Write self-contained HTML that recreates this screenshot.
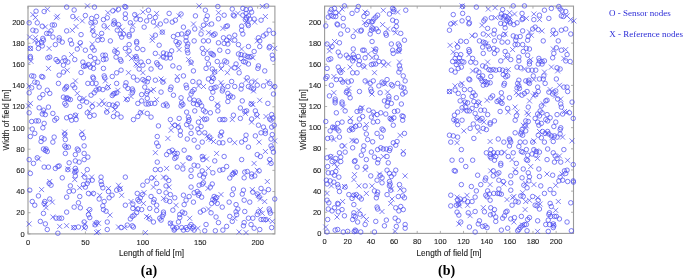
<!DOCTYPE html>
<html><head><meta charset="utf-8"><style>
html,body{margin:0;padding:0;background:#fff;width:685px;height:280px;overflow:hidden}
svg{display:block;will-change:transform}
text{font-family:"Liberation Sans",sans-serif;fill:#1e1e1e;stroke:#1e1e1e;stroke-width:0.12px}
.sb{font-family:"Liberation Serif",serif;font-weight:bold;font-size:14px;fill:#000;stroke:none}
.lg{font-family:"Liberation Serif",serif;font-size:9px;fill:#2b2bd6;stroke:none}
</style></head><body>
<svg width="685" height="280" viewBox="0 0 685 280">
<rect x="28.0" y="6.2" width="246.90" height="227.70" fill="none" stroke="#9a9a9a" stroke-width="1.1"/>
<path d="M28.00,233.9v-2.5M28.00,6.2v2.5M85.42,233.9v-2.5M85.42,6.2v2.5M142.84,233.9v-2.5M142.84,6.2v2.5M200.26,233.9v-2.5M200.26,6.2v2.5M257.67,233.9v-2.5M257.67,6.2v2.5M28.0,233.90h2.5M274.9,233.90h-2.5M28.0,212.72h2.5M274.9,212.72h-2.5M28.0,191.54h2.5M274.9,191.54h-2.5M28.0,170.36h2.5M274.9,170.36h-2.5M28.0,149.17h2.5M274.9,149.17h-2.5M28.0,127.99h2.5M274.9,127.99h-2.5M28.0,106.81h2.5M274.9,106.81h-2.5M28.0,85.63h2.5M274.9,85.63h-2.5M28.0,64.45h2.5M274.9,64.45h-2.5M28.0,43.27h2.5M274.9,43.27h-2.5M28.0,22.09h2.5M274.9,22.09h-2.5" stroke="#9a9a9a" stroke-width="0.8" fill="none"/>
<text x="28.00" y="244.70" text-anchor="middle" font-size="7.5">0</text>
<text x="85.42" y="244.70" text-anchor="middle" font-size="7.5">50</text>
<text x="142.84" y="244.70" text-anchor="middle" font-size="7.5">100</text>
<text x="200.26" y="244.70" text-anchor="middle" font-size="7.5">150</text>
<text x="257.67" y="244.70" text-anchor="middle" font-size="7.5">200</text>
<text x="24.70" y="236.50" text-anchor="end" font-size="7.5">0</text>
<text x="24.70" y="215.32" text-anchor="end" font-size="7.5">20</text>
<text x="24.70" y="194.14" text-anchor="end" font-size="7.5">40</text>
<text x="24.70" y="172.96" text-anchor="end" font-size="7.5">60</text>
<text x="24.70" y="151.77" text-anchor="end" font-size="7.5">80</text>
<text x="24.70" y="130.59" text-anchor="end" font-size="7.5">100</text>
<text x="24.70" y="109.41" text-anchor="end" font-size="7.5">120</text>
<text x="24.70" y="88.23" text-anchor="end" font-size="7.5">140</text>
<text x="24.70" y="67.05" text-anchor="end" font-size="7.5">160</text>
<text x="24.70" y="45.87" text-anchor="end" font-size="7.5">180</text>
<text x="24.70" y="24.69" text-anchor="end" font-size="7.5">200</text>
<text x="151.45" y="255.8" text-anchor="middle" font-size="8.2">Length of field [m]</text>
<text transform="translate(9.00,120.05) rotate(-90)" text-anchor="middle" font-size="8.2">Width of field [m]</text>
<text x="148.95" y="275" text-anchor="middle" class="sb">(a)</text>
<rect x="324.6" y="6.1" width="248.90" height="227.30" fill="none" stroke="#9a9a9a" stroke-width="1.1"/>
<path d="M324.60,233.4v-2.5M324.60,6.1v2.5M347.75,233.4v-2.5M347.75,6.1v2.5M370.91,233.4v-2.5M370.91,6.1v2.5M394.06,233.4v-2.5M394.06,6.1v2.5M417.21,233.4v-2.5M417.21,6.1v2.5M440.37,233.4v-2.5M440.37,6.1v2.5M463.52,233.4v-2.5M463.52,6.1v2.5M486.67,233.4v-2.5M486.67,6.1v2.5M509.83,233.4v-2.5M509.83,6.1v2.5M532.98,233.4v-2.5M532.98,6.1v2.5M556.13,233.4v-2.5M556.13,6.1v2.5M324.6,233.40h2.5M573.5,233.40h-2.5M324.6,212.26h2.5M573.5,212.26h-2.5M324.6,191.11h2.5M573.5,191.11h-2.5M324.6,169.97h2.5M573.5,169.97h-2.5M324.6,148.82h2.5M573.5,148.82h-2.5M324.6,127.68h2.5M573.5,127.68h-2.5M324.6,106.53h2.5M573.5,106.53h-2.5M324.6,85.39h2.5M573.5,85.39h-2.5M324.6,64.25h2.5M573.5,64.25h-2.5M324.6,43.10h2.5M573.5,43.10h-2.5M324.6,21.96h2.5M573.5,21.96h-2.5" stroke="#9a9a9a" stroke-width="0.8" fill="none"/>
<text x="324.60" y="244.20" text-anchor="middle" font-size="7.5">0</text>
<text x="347.75" y="244.20" text-anchor="middle" font-size="7.5">20</text>
<text x="370.91" y="244.20" text-anchor="middle" font-size="7.5">40</text>
<text x="394.06" y="244.20" text-anchor="middle" font-size="7.5">60</text>
<text x="417.21" y="244.20" text-anchor="middle" font-size="7.5">80</text>
<text x="440.37" y="244.20" text-anchor="middle" font-size="7.5">100</text>
<text x="463.52" y="244.20" text-anchor="middle" font-size="7.5">120</text>
<text x="486.67" y="244.20" text-anchor="middle" font-size="7.5">140</text>
<text x="509.83" y="244.20" text-anchor="middle" font-size="7.5">160</text>
<text x="532.98" y="244.20" text-anchor="middle" font-size="7.5">180</text>
<text x="556.13" y="244.20" text-anchor="middle" font-size="7.5">200</text>
<text x="321.30" y="236.00" text-anchor="end" font-size="7.5">0</text>
<text x="321.30" y="214.86" text-anchor="end" font-size="7.5">20</text>
<text x="321.30" y="193.71" text-anchor="end" font-size="7.5">40</text>
<text x="321.30" y="172.57" text-anchor="end" font-size="7.5">60</text>
<text x="321.30" y="151.42" text-anchor="end" font-size="7.5">80</text>
<text x="321.30" y="130.28" text-anchor="end" font-size="7.5">100</text>
<text x="321.30" y="109.13" text-anchor="end" font-size="7.5">120</text>
<text x="321.30" y="87.99" text-anchor="end" font-size="7.5">140</text>
<text x="321.30" y="66.85" text-anchor="end" font-size="7.5">160</text>
<text x="321.30" y="45.70" text-anchor="end" font-size="7.5">180</text>
<text x="321.30" y="24.56" text-anchor="end" font-size="7.5">200</text>
<text x="449.05" y="255.8" text-anchor="middle" font-size="8.2">Length of field [m]</text>
<text transform="translate(305.60,119.75) rotate(-90)" text-anchor="middle" font-size="8.2">Width of field [m]</text>
<text x="446.55" y="275" text-anchor="middle" class="sb">(b)</text>
<path d="M33.8,11.2a2.25,2.25 0 1,0 4.5,0a2.25,2.25 0 1,0 -4.5,0M26.9,22.8a2.25,2.25 0 1,0 4.5,0a2.25,2.25 0 1,0 -4.5,0M35.0,22.8a2.25,2.25 0 1,0 4.5,0a2.25,2.25 0 1,0 -4.5,0M41.9,11.5a2.25,2.25 0 1,0 4.5,0a2.25,2.25 0 1,0 -4.5,0M40.0,26.2a2.25,2.25 0 1,0 4.5,0a2.25,2.25 0 1,0 -4.5,0M50.0,25.0a2.25,2.25 0 1,0 4.5,0a2.25,2.25 0 1,0 -4.5,0M52.2,25.0a2.25,2.25 0 1,0 4.5,0a2.25,2.25 0 1,0 -4.5,0M30.6,30.2a2.25,2.25 0 1,0 4.5,0a2.25,2.25 0 1,0 -4.5,0M33.8,30.9a2.25,2.25 0 1,0 4.5,0a2.25,2.25 0 1,0 -4.5,0M44.4,33.4a2.25,2.25 0 1,0 4.5,0a2.25,2.25 0 1,0 -4.5,0M46.9,33.4a2.25,2.25 0 1,0 4.5,0a2.25,2.25 0 1,0 -4.5,0M48.8,30.9a2.25,2.25 0 1,0 4.5,0a2.25,2.25 0 1,0 -4.5,0M64.4,7.1a2.25,2.25 0 1,0 4.5,0a2.25,2.25 0 1,0 -4.5,0M64.4,30.9a2.25,2.25 0 1,0 4.5,0a2.25,2.25 0 1,0 -4.5,0M50.6,37.1a2.25,2.25 0 1,0 4.5,0a2.25,2.25 0 1,0 -4.5,0M56.9,37.8a2.25,2.25 0 1,0 4.5,0a2.25,2.25 0 1,0 -4.5,0M40.6,38.4a2.25,2.25 0 1,0 4.5,0a2.25,2.25 0 1,0 -4.5,0M71.9,10.0a2.25,2.25 0 1,0 4.5,0a2.25,2.25 0 1,0 -4.5,0M92.2,7.1a2.25,2.25 0 1,0 4.5,0a2.25,2.25 0 1,0 -4.5,0M70.6,16.5a2.25,2.25 0 1,0 4.5,0a2.25,2.25 0 1,0 -4.5,0M83.1,15.5a2.25,2.25 0 1,0 4.5,0a2.25,2.25 0 1,0 -4.5,0M78.8,34.6a2.25,2.25 0 1,0 4.5,0a2.25,2.25 0 1,0 -4.5,0M89.4,18.4a2.25,2.25 0 1,0 4.5,0a2.25,2.25 0 1,0 -4.5,0M94.4,16.5a2.25,2.25 0 1,0 4.5,0a2.25,2.25 0 1,0 -4.5,0M88.8,22.8a2.25,2.25 0 1,0 4.5,0a2.25,2.25 0 1,0 -4.5,0M93.1,22.1a2.25,2.25 0 1,0 4.5,0a2.25,2.25 0 1,0 -4.5,0M90.6,30.9a2.25,2.25 0 1,0 4.5,0a2.25,2.25 0 1,0 -4.5,0M91.9,35.2a2.25,2.25 0 1,0 4.5,0a2.25,2.25 0 1,0 -4.5,0M99.4,33.4a2.25,2.25 0 1,0 4.5,0a2.25,2.25 0 1,0 -4.5,0M101.2,19.6a2.25,2.25 0 1,0 4.5,0a2.25,2.25 0 1,0 -4.5,0M105.0,17.8a2.25,2.25 0 1,0 4.5,0a2.25,2.25 0 1,0 -4.5,0M101.9,25.9a2.25,2.25 0 1,0 4.5,0a2.25,2.25 0 1,0 -4.5,0M110.6,10.9a2.25,2.25 0 1,0 4.5,0a2.25,2.25 0 1,0 -4.5,0M116.2,9.2a2.25,2.25 0 1,0 4.5,0a2.25,2.25 0 1,0 -4.5,0M122.5,6.5a2.25,2.25 0 1,0 4.5,0a2.25,2.25 0 1,0 -4.5,0M123.5,7.1a2.25,2.25 0 1,0 4.5,0a2.25,2.25 0 1,0 -4.5,0M123.1,14.0a2.25,2.25 0 1,0 4.5,0a2.25,2.25 0 1,0 -4.5,0M123.1,18.4a2.25,2.25 0 1,0 4.5,0a2.25,2.25 0 1,0 -4.5,0M111.9,20.9a2.25,2.25 0 1,0 4.5,0a2.25,2.25 0 1,0 -4.5,0M112.5,22.8a2.25,2.25 0 1,0 4.5,0a2.25,2.25 0 1,0 -4.5,0M111.2,24.2a2.25,2.25 0 1,0 4.5,0a2.25,2.25 0 1,0 -4.5,0M116.2,24.6a2.25,2.25 0 1,0 4.5,0a2.25,2.25 0 1,0 -4.5,0M115.0,30.2a2.25,2.25 0 1,0 4.5,0a2.25,2.25 0 1,0 -4.5,0M118.1,34.0a2.25,2.25 0 1,0 4.5,0a2.25,2.25 0 1,0 -4.5,0M121.2,34.0a2.25,2.25 0 1,0 4.5,0a2.25,2.25 0 1,0 -4.5,0M119.4,37.1a2.25,2.25 0 1,0 4.5,0a2.25,2.25 0 1,0 -4.5,0M126.9,34.6a2.25,2.25 0 1,0 4.5,0a2.25,2.25 0 1,0 -4.5,0M126.9,36.2a2.25,2.25 0 1,0 4.5,0a2.25,2.25 0 1,0 -4.5,0M128.1,22.8a2.25,2.25 0 1,0 4.5,0a2.25,2.25 0 1,0 -4.5,0M130.0,30.2a2.25,2.25 0 1,0 4.5,0a2.25,2.25 0 1,0 -4.5,0M132.5,14.6a2.25,2.25 0 1,0 4.5,0a2.25,2.25 0 1,0 -4.5,0M133.8,19.0a2.25,2.25 0 1,0 4.5,0a2.25,2.25 0 1,0 -4.5,0M138.1,19.6a2.25,2.25 0 1,0 4.5,0a2.25,2.25 0 1,0 -4.5,0M146.2,10.2a2.25,2.25 0 1,0 4.5,0a2.25,2.25 0 1,0 -4.5,0M147.5,16.5a2.25,2.25 0 1,0 4.5,0a2.25,2.25 0 1,0 -4.5,0M144.4,20.9a2.25,2.25 0 1,0 4.5,0a2.25,2.25 0 1,0 -4.5,0M141.9,27.1a2.25,2.25 0 1,0 4.5,0a2.25,2.25 0 1,0 -4.5,0M153.1,17.5a2.25,2.25 0 1,0 4.5,0a2.25,2.25 0 1,0 -4.5,0M151.2,22.1a2.25,2.25 0 1,0 4.5,0a2.25,2.25 0 1,0 -4.5,0M158.1,24.0a2.25,2.25 0 1,0 4.5,0a2.25,2.25 0 1,0 -4.5,0M160.0,32.1a2.25,2.25 0 1,0 4.5,0a2.25,2.25 0 1,0 -4.5,0M153.1,35.2a2.25,2.25 0 1,0 4.5,0a2.25,2.25 0 1,0 -4.5,0M166.9,13.4a2.25,2.25 0 1,0 4.5,0a2.25,2.25 0 1,0 -4.5,0M163.8,20.9a2.25,2.25 0 1,0 4.5,0a2.25,2.25 0 1,0 -4.5,0M170.0,22.1a2.25,2.25 0 1,0 4.5,0a2.25,2.25 0 1,0 -4.5,0M173.1,20.2a2.25,2.25 0 1,0 4.5,0a2.25,2.25 0 1,0 -4.5,0M178.8,14.0a2.25,2.25 0 1,0 4.5,0a2.25,2.25 0 1,0 -4.5,0M181.2,27.1a2.25,2.25 0 1,0 4.5,0a2.25,2.25 0 1,0 -4.5,0M171.2,36.5a2.25,2.25 0 1,0 4.5,0a2.25,2.25 0 1,0 -4.5,0M175.6,34.6a2.25,2.25 0 1,0 4.5,0a2.25,2.25 0 1,0 -4.5,0M179.4,34.0a2.25,2.25 0 1,0 4.5,0a2.25,2.25 0 1,0 -4.5,0M185.0,33.4a2.25,2.25 0 1,0 4.5,0a2.25,2.25 0 1,0 -4.5,0M186.2,32.1a2.25,2.25 0 1,0 4.5,0a2.25,2.25 0 1,0 -4.5,0M183.8,37.1a2.25,2.25 0 1,0 4.5,0a2.25,2.25 0 1,0 -4.5,0M193.2,15.9a2.25,2.25 0 1,0 4.5,0a2.25,2.25 0 1,0 -4.5,0M192.5,29.0a2.25,2.25 0 1,0 4.5,0a2.25,2.25 0 1,0 -4.5,0M203.1,10.2a2.25,2.25 0 1,0 4.5,0a2.25,2.25 0 1,0 -4.5,0M205.0,15.9a2.25,2.25 0 1,0 4.5,0a2.25,2.25 0 1,0 -4.5,0M203.8,19.6a2.25,2.25 0 1,0 4.5,0a2.25,2.25 0 1,0 -4.5,0M209.4,24.0a2.25,2.25 0 1,0 4.5,0a2.25,2.25 0 1,0 -4.5,0M201.2,25.2a2.25,2.25 0 1,0 4.5,0a2.25,2.25 0 1,0 -4.5,0M198.8,34.0a2.25,2.25 0 1,0 4.5,0a2.25,2.25 0 1,0 -4.5,0M211.2,35.2a2.25,2.25 0 1,0 4.5,0a2.25,2.25 0 1,0 -4.5,0M212.8,34.0a2.25,2.25 0 1,0 4.5,0a2.25,2.25 0 1,0 -4.5,0M215.6,6.5a2.25,2.25 0 1,0 4.5,0a2.25,2.25 0 1,0 -4.5,0M216.2,18.8a2.25,2.25 0 1,0 4.5,0a2.25,2.25 0 1,0 -4.5,0M221.9,15.2a2.25,2.25 0 1,0 4.5,0a2.25,2.25 0 1,0 -4.5,0M223.8,26.5a2.25,2.25 0 1,0 4.5,0a2.25,2.25 0 1,0 -4.5,0M225.2,25.9a2.25,2.25 0 1,0 4.5,0a2.25,2.25 0 1,0 -4.5,0M221.2,37.8a2.25,2.25 0 1,0 4.5,0a2.25,2.25 0 1,0 -4.5,0M226.9,37.1a2.25,2.25 0 1,0 4.5,0a2.25,2.25 0 1,0 -4.5,0M232.5,35.2a2.25,2.25 0 1,0 4.5,0a2.25,2.25 0 1,0 -4.5,0M230.0,9.0a2.25,2.25 0 1,0 4.5,0a2.25,2.25 0 1,0 -4.5,0M231.9,15.9a2.25,2.25 0 1,0 4.5,0a2.25,2.25 0 1,0 -4.5,0M231.0,15.0a2.25,2.25 0 1,0 4.5,0a2.25,2.25 0 1,0 -4.5,0M240.6,8.4a2.25,2.25 0 1,0 4.5,0a2.25,2.25 0 1,0 -4.5,0M243.8,9.6a2.25,2.25 0 1,0 4.5,0a2.25,2.25 0 1,0 -4.5,0M248.1,9.0a2.25,2.25 0 1,0 4.5,0a2.25,2.25 0 1,0 -4.5,0M249.4,12.1a2.25,2.25 0 1,0 4.5,0a2.25,2.25 0 1,0 -4.5,0M240.6,15.2a2.25,2.25 0 1,0 4.5,0a2.25,2.25 0 1,0 -4.5,0M243.8,13.4a2.25,2.25 0 1,0 4.5,0a2.25,2.25 0 1,0 -4.5,0M246.2,15.9a2.25,2.25 0 1,0 4.5,0a2.25,2.25 0 1,0 -4.5,0M243.1,19.6a2.25,2.25 0 1,0 4.5,0a2.25,2.25 0 1,0 -4.5,0M244.4,17.8a2.25,2.25 0 1,0 4.5,0a2.25,2.25 0 1,0 -4.5,0M247.5,19.0a2.25,2.25 0 1,0 4.5,0a2.25,2.25 0 1,0 -4.5,0M245.6,24.0a2.25,2.25 0 1,0 4.5,0a2.25,2.25 0 1,0 -4.5,0M251.9,19.0a2.25,2.25 0 1,0 4.5,0a2.25,2.25 0 1,0 -4.5,0M246.2,25.5a2.25,2.25 0 1,0 4.5,0a2.25,2.25 0 1,0 -4.5,0M239.4,26.2a2.25,2.25 0 1,0 4.5,0a2.25,2.25 0 1,0 -4.5,0M239.4,30.2a2.25,2.25 0 1,0 4.5,0a2.25,2.25 0 1,0 -4.5,0M240.6,34.0a2.25,2.25 0 1,0 4.5,0a2.25,2.25 0 1,0 -4.5,0M264.4,5.9a2.25,2.25 0 1,0 4.5,0a2.25,2.25 0 1,0 -4.5,0M258.8,20.2a2.25,2.25 0 1,0 4.5,0a2.25,2.25 0 1,0 -4.5,0M266.9,30.2a2.25,2.25 0 1,0 4.5,0a2.25,2.25 0 1,0 -4.5,0M271.2,33.4a2.25,2.25 0 1,0 4.5,0a2.25,2.25 0 1,0 -4.5,0M263.8,34.0a2.25,2.25 0 1,0 4.5,0a2.25,2.25 0 1,0 -4.5,0M261.2,35.9a2.25,2.25 0 1,0 4.5,0a2.25,2.25 0 1,0 -4.5,0M256.2,37.8a2.25,2.25 0 1,0 4.5,0a2.25,2.25 0 1,0 -4.5,0M28.1,48.4a2.25,2.25 0 1,0 4.5,0a2.25,2.25 0 1,0 -4.5,0M28.1,56.5a2.25,2.25 0 1,0 4.5,0a2.25,2.25 0 1,0 -4.5,0M28.1,58.0a2.25,2.25 0 1,0 4.5,0a2.25,2.25 0 1,0 -4.5,0M35.6,43.4a2.25,2.25 0 1,0 4.5,0a2.25,2.25 0 1,0 -4.5,0M39.4,42.8a2.25,2.25 0 1,0 4.5,0a2.25,2.25 0 1,0 -4.5,0M41.2,40.2a2.25,2.25 0 1,0 4.5,0a2.25,2.25 0 1,0 -4.5,0M40.0,45.9a2.25,2.25 0 1,0 4.5,0a2.25,2.25 0 1,0 -4.5,0M36.2,48.4a2.25,2.25 0 1,0 4.5,0a2.25,2.25 0 1,0 -4.5,0M53.1,44.6a2.25,2.25 0 1,0 4.5,0a2.25,2.25 0 1,0 -4.5,0M60.0,42.1a2.25,2.25 0 1,0 4.5,0a2.25,2.25 0 1,0 -4.5,0M56.9,40.2a2.25,2.25 0 1,0 4.5,0a2.25,2.25 0 1,0 -4.5,0M45.6,57.8a2.25,2.25 0 1,0 4.5,0a2.25,2.25 0 1,0 -4.5,0M47.5,57.1a2.25,2.25 0 1,0 4.5,0a2.25,2.25 0 1,0 -4.5,0M53.8,59.6a2.25,2.25 0 1,0 4.5,0a2.25,2.25 0 1,0 -4.5,0M55.6,61.5a2.25,2.25 0 1,0 4.5,0a2.25,2.25 0 1,0 -4.5,0M61.9,57.8a2.25,2.25 0 1,0 4.5,0a2.25,2.25 0 1,0 -4.5,0M61.2,65.2a2.25,2.25 0 1,0 4.5,0a2.25,2.25 0 1,0 -4.5,0M65.6,62.1a2.25,2.25 0 1,0 4.5,0a2.25,2.25 0 1,0 -4.5,0M63.1,60.5a2.25,2.25 0 1,0 4.5,0a2.25,2.25 0 1,0 -4.5,0M61.2,72.1a2.25,2.25 0 1,0 4.5,0a2.25,2.25 0 1,0 -4.5,0M72.5,59.6a2.25,2.25 0 1,0 4.5,0a2.25,2.25 0 1,0 -4.5,0M68.1,40.2a2.25,2.25 0 1,0 4.5,0a2.25,2.25 0 1,0 -4.5,0M69.4,44.0a2.25,2.25 0 1,0 4.5,0a2.25,2.25 0 1,0 -4.5,0M75.0,49.0a2.25,2.25 0 1,0 4.5,0a2.25,2.25 0 1,0 -4.5,0M78.1,42.8a2.25,2.25 0 1,0 4.5,0a2.25,2.25 0 1,0 -4.5,0M83.1,50.2a2.25,2.25 0 1,0 4.5,0a2.25,2.25 0 1,0 -4.5,0M90.0,47.8a2.25,2.25 0 1,0 4.5,0a2.25,2.25 0 1,0 -4.5,0M91.9,50.2a2.25,2.25 0 1,0 4.5,0a2.25,2.25 0 1,0 -4.5,0M88.1,56.5a2.25,2.25 0 1,0 4.5,0a2.25,2.25 0 1,0 -4.5,0M92.5,58.4a2.25,2.25 0 1,0 4.5,0a2.25,2.25 0 1,0 -4.5,0M80.6,62.1a2.25,2.25 0 1,0 4.5,0a2.25,2.25 0 1,0 -4.5,0M81.2,66.5a2.25,2.25 0 1,0 4.5,0a2.25,2.25 0 1,0 -4.5,0M83.1,65.9a2.25,2.25 0 1,0 4.5,0a2.25,2.25 0 1,0 -4.5,0M86.2,64.6a2.25,2.25 0 1,0 4.5,0a2.25,2.25 0 1,0 -4.5,0M88.1,67.1a2.25,2.25 0 1,0 4.5,0a2.25,2.25 0 1,0 -4.5,0M91.2,68.4a2.25,2.25 0 1,0 4.5,0a2.25,2.25 0 1,0 -4.5,0M91.2,64.0a2.25,2.25 0 1,0 4.5,0a2.25,2.25 0 1,0 -4.5,0M95.6,62.1a2.25,2.25 0 1,0 4.5,0a2.25,2.25 0 1,0 -4.5,0M100.6,55.2a2.25,2.25 0 1,0 4.5,0a2.25,2.25 0 1,0 -4.5,0M103.1,55.2a2.25,2.25 0 1,0 4.5,0a2.25,2.25 0 1,0 -4.5,0M101.2,59.6a2.25,2.25 0 1,0 4.5,0a2.25,2.25 0 1,0 -4.5,0M103.8,59.0a2.25,2.25 0 1,0 4.5,0a2.25,2.25 0 1,0 -4.5,0M101.2,68.4a2.25,2.25 0 1,0 4.5,0a2.25,2.25 0 1,0 -4.5,0M95.6,40.2a2.25,2.25 0 1,0 4.5,0a2.25,2.25 0 1,0 -4.5,0M100.0,39.6a2.25,2.25 0 1,0 4.5,0a2.25,2.25 0 1,0 -4.5,0M108.1,40.9a2.25,2.25 0 1,0 4.5,0a2.25,2.25 0 1,0 -4.5,0M78.8,72.5a2.25,2.25 0 1,0 4.5,0a2.25,2.25 0 1,0 -4.5,0M112.5,51.2a2.25,2.25 0 1,0 4.5,0a2.25,2.25 0 1,0 -4.5,0M115.0,52.8a2.25,2.25 0 1,0 4.5,0a2.25,2.25 0 1,0 -4.5,0M113.8,57.1a2.25,2.25 0 1,0 4.5,0a2.25,2.25 0 1,0 -4.5,0M118.1,59.6a2.25,2.25 0 1,0 4.5,0a2.25,2.25 0 1,0 -4.5,0M118.8,61.2a2.25,2.25 0 1,0 4.5,0a2.25,2.25 0 1,0 -4.5,0M123.1,48.4a2.25,2.25 0 1,0 4.5,0a2.25,2.25 0 1,0 -4.5,0M126.9,44.6a2.25,2.25 0 1,0 4.5,0a2.25,2.25 0 1,0 -4.5,0M126.9,50.9a2.25,2.25 0 1,0 4.5,0a2.25,2.25 0 1,0 -4.5,0M134.4,41.5a2.25,2.25 0 1,0 4.5,0a2.25,2.25 0 1,0 -4.5,0M134.4,43.0a2.25,2.25 0 1,0 4.5,0a2.25,2.25 0 1,0 -4.5,0M135.0,48.4a2.25,2.25 0 1,0 4.5,0a2.25,2.25 0 1,0 -4.5,0M140.6,49.6a2.25,2.25 0 1,0 4.5,0a2.25,2.25 0 1,0 -4.5,0M133.8,56.5a2.25,2.25 0 1,0 4.5,0a2.25,2.25 0 1,0 -4.5,0M134.4,58.8a2.25,2.25 0 1,0 4.5,0a2.25,2.25 0 1,0 -4.5,0M138.8,62.1a2.25,2.25 0 1,0 4.5,0a2.25,2.25 0 1,0 -4.5,0M140.6,65.2a2.25,2.25 0 1,0 4.5,0a2.25,2.25 0 1,0 -4.5,0M136.9,69.0a2.25,2.25 0 1,0 4.5,0a2.25,2.25 0 1,0 -4.5,0M146.2,61.5a2.25,2.25 0 1,0 4.5,0a2.25,2.25 0 1,0 -4.5,0M148.8,69.0a2.25,2.25 0 1,0 4.5,0a2.25,2.25 0 1,0 -4.5,0M156.9,45.2a2.25,2.25 0 1,0 4.5,0a2.25,2.25 0 1,0 -4.5,0M153.1,53.4a2.25,2.25 0 1,0 4.5,0a2.25,2.25 0 1,0 -4.5,0M161.2,57.1a2.25,2.25 0 1,0 4.5,0a2.25,2.25 0 1,0 -4.5,0M164.4,54.0a2.25,2.25 0 1,0 4.5,0a2.25,2.25 0 1,0 -4.5,0M163.8,58.0a2.25,2.25 0 1,0 4.5,0a2.25,2.25 0 1,0 -4.5,0M167.5,54.6a2.25,2.25 0 1,0 4.5,0a2.25,2.25 0 1,0 -4.5,0M168.1,58.0a2.25,2.25 0 1,0 4.5,0a2.25,2.25 0 1,0 -4.5,0M169.4,50.9a2.25,2.25 0 1,0 4.5,0a2.25,2.25 0 1,0 -4.5,0M161.2,53.0a2.25,2.25 0 1,0 4.5,0a2.25,2.25 0 1,0 -4.5,0M154.4,62.8a2.25,2.25 0 1,0 4.5,0a2.25,2.25 0 1,0 -4.5,0M155.6,64.6a2.25,2.25 0 1,0 4.5,0a2.25,2.25 0 1,0 -4.5,0M158.1,67.1a2.25,2.25 0 1,0 4.5,0a2.25,2.25 0 1,0 -4.5,0M170.6,65.9a2.25,2.25 0 1,0 4.5,0a2.25,2.25 0 1,0 -4.5,0M176.9,67.8a2.25,2.25 0 1,0 4.5,0a2.25,2.25 0 1,0 -4.5,0M173.8,41.5a2.25,2.25 0 1,0 4.5,0a2.25,2.25 0 1,0 -4.5,0M176.9,42.8a2.25,2.25 0 1,0 4.5,0a2.25,2.25 0 1,0 -4.5,0M175.6,44.6a2.25,2.25 0 1,0 4.5,0a2.25,2.25 0 1,0 -4.5,0M183.8,40.9a2.25,2.25 0 1,0 4.5,0a2.25,2.25 0 1,0 -4.5,0M185.6,44.0a2.25,2.25 0 1,0 4.5,0a2.25,2.25 0 1,0 -4.5,0M185.0,46.5a2.25,2.25 0 1,0 4.5,0a2.25,2.25 0 1,0 -4.5,0M185.0,50.2a2.25,2.25 0 1,0 4.5,0a2.25,2.25 0 1,0 -4.5,0M185.6,52.8a2.25,2.25 0 1,0 4.5,0a2.25,2.25 0 1,0 -4.5,0M188.8,62.1a2.25,2.25 0 1,0 4.5,0a2.25,2.25 0 1,0 -4.5,0M191.9,40.9a2.25,2.25 0 1,0 4.5,0a2.25,2.25 0 1,0 -4.5,0M191.2,70.9a2.25,2.25 0 1,0 4.5,0a2.25,2.25 0 1,0 -4.5,0M118.8,70.2a2.25,2.25 0 1,0 4.5,0a2.25,2.25 0 1,0 -4.5,0M114.4,72.8a2.25,2.25 0 1,0 4.5,0a2.25,2.25 0 1,0 -4.5,0M201.2,40.9a2.25,2.25 0 1,0 4.5,0a2.25,2.25 0 1,0 -4.5,0M206.2,40.9a2.25,2.25 0 1,0 4.5,0a2.25,2.25 0 1,0 -4.5,0M200.0,48.4a2.25,2.25 0 1,0 4.5,0a2.25,2.25 0 1,0 -4.5,0M201.2,53.4a2.25,2.25 0 1,0 4.5,0a2.25,2.25 0 1,0 -4.5,0M208.8,53.4a2.25,2.25 0 1,0 4.5,0a2.25,2.25 0 1,0 -4.5,0M210.0,54.2a2.25,2.25 0 1,0 4.5,0a2.25,2.25 0 1,0 -4.5,0M211.2,55.0a2.25,2.25 0 1,0 4.5,0a2.25,2.25 0 1,0 -4.5,0M205.0,58.4a2.25,2.25 0 1,0 4.5,0a2.25,2.25 0 1,0 -4.5,0M206.2,64.0a2.25,2.25 0 1,0 4.5,0a2.25,2.25 0 1,0 -4.5,0M203.8,68.4a2.25,2.25 0 1,0 4.5,0a2.25,2.25 0 1,0 -4.5,0M216.2,42.8a2.25,2.25 0 1,0 4.5,0a2.25,2.25 0 1,0 -4.5,0M221.9,43.4a2.25,2.25 0 1,0 4.5,0a2.25,2.25 0 1,0 -4.5,0M225.6,44.0a2.25,2.25 0 1,0 4.5,0a2.25,2.25 0 1,0 -4.5,0M224.4,40.2a2.25,2.25 0 1,0 4.5,0a2.25,2.25 0 1,0 -4.5,0M232.5,40.2a2.25,2.25 0 1,0 4.5,0a2.25,2.25 0 1,0 -4.5,0M217.5,50.2a2.25,2.25 0 1,0 4.5,0a2.25,2.25 0 1,0 -4.5,0M225.6,51.5a2.25,2.25 0 1,0 4.5,0a2.25,2.25 0 1,0 -4.5,0M236.2,44.6a2.25,2.25 0 1,0 4.5,0a2.25,2.25 0 1,0 -4.5,0M236.2,54.0a2.25,2.25 0 1,0 4.5,0a2.25,2.25 0 1,0 -4.5,0M238.8,54.6a2.25,2.25 0 1,0 4.5,0a2.25,2.25 0 1,0 -4.5,0M246.2,46.5a2.25,2.25 0 1,0 4.5,0a2.25,2.25 0 1,0 -4.5,0M251.9,51.5a2.25,2.25 0 1,0 4.5,0a2.25,2.25 0 1,0 -4.5,0M242.5,55.2a2.25,2.25 0 1,0 4.5,0a2.25,2.25 0 1,0 -4.5,0M245.0,56.5a2.25,2.25 0 1,0 4.5,0a2.25,2.25 0 1,0 -4.5,0M246.9,57.1a2.25,2.25 0 1,0 4.5,0a2.25,2.25 0 1,0 -4.5,0M248.8,56.5a2.25,2.25 0 1,0 4.5,0a2.25,2.25 0 1,0 -4.5,0M241.2,61.5a2.25,2.25 0 1,0 4.5,0a2.25,2.25 0 1,0 -4.5,0M243.1,62.1a2.25,2.25 0 1,0 4.5,0a2.25,2.25 0 1,0 -4.5,0M246.2,64.0a2.25,2.25 0 1,0 4.5,0a2.25,2.25 0 1,0 -4.5,0M238.8,58.4a2.25,2.25 0 1,0 4.5,0a2.25,2.25 0 1,0 -4.5,0M215.0,61.5a2.25,2.25 0 1,0 4.5,0a2.25,2.25 0 1,0 -4.5,0M222.5,60.9a2.25,2.25 0 1,0 4.5,0a2.25,2.25 0 1,0 -4.5,0M224.4,62.1a2.25,2.25 0 1,0 4.5,0a2.25,2.25 0 1,0 -4.5,0M219.4,65.2a2.25,2.25 0 1,0 4.5,0a2.25,2.25 0 1,0 -4.5,0M210.0,69.0a2.25,2.25 0 1,0 4.5,0a2.25,2.25 0 1,0 -4.5,0M212.5,72.1a2.25,2.25 0 1,0 4.5,0a2.25,2.25 0 1,0 -4.5,0M233.8,64.0a2.25,2.25 0 1,0 4.5,0a2.25,2.25 0 1,0 -4.5,0M232.5,67.8a2.25,2.25 0 1,0 4.5,0a2.25,2.25 0 1,0 -4.5,0M236.9,72.8a2.25,2.25 0 1,0 4.5,0a2.25,2.25 0 1,0 -4.5,0M257.5,46.5a2.25,2.25 0 1,0 4.5,0a2.25,2.25 0 1,0 -4.5,0M257.5,40.9a2.25,2.25 0 1,0 4.5,0a2.25,2.25 0 1,0 -4.5,0M267.5,46.5a2.25,2.25 0 1,0 4.5,0a2.25,2.25 0 1,0 -4.5,0M266.9,47.8a2.25,2.25 0 1,0 4.5,0a2.25,2.25 0 1,0 -4.5,0M270.0,55.2a2.25,2.25 0 1,0 4.5,0a2.25,2.25 0 1,0 -4.5,0M270.6,59.0a2.25,2.25 0 1,0 4.5,0a2.25,2.25 0 1,0 -4.5,0M256.2,65.9a2.25,2.25 0 1,0 4.5,0a2.25,2.25 0 1,0 -4.5,0M255.6,68.4a2.25,2.25 0 1,0 4.5,0a2.25,2.25 0 1,0 -4.5,0M262.5,70.9a2.25,2.25 0 1,0 4.5,0a2.25,2.25 0 1,0 -4.5,0M29.4,75.9a2.25,2.25 0 1,0 4.5,0a2.25,2.25 0 1,0 -4.5,0M31.5,76.2a2.25,2.25 0 1,0 4.5,0a2.25,2.25 0 1,0 -4.5,0M39.4,76.5a2.25,2.25 0 1,0 4.5,0a2.25,2.25 0 1,0 -4.5,0M40.6,77.1a2.25,2.25 0 1,0 4.5,0a2.25,2.25 0 1,0 -4.5,0M56.9,75.2a2.25,2.25 0 1,0 4.5,0a2.25,2.25 0 1,0 -4.5,0M29.4,87.8a2.25,2.25 0 1,0 4.5,0a2.25,2.25 0 1,0 -4.5,0M32.5,82.1a2.25,2.25 0 1,0 4.5,0a2.25,2.25 0 1,0 -4.5,0M35.0,82.8a2.25,2.25 0 1,0 4.5,0a2.25,2.25 0 1,0 -4.5,0M36.9,87.1a2.25,2.25 0 1,0 4.5,0a2.25,2.25 0 1,0 -4.5,0M26.9,92.8a2.25,2.25 0 1,0 4.5,0a2.25,2.25 0 1,0 -4.5,0M45.0,90.2a2.25,2.25 0 1,0 4.5,0a2.25,2.25 0 1,0 -4.5,0M47.5,93.4a2.25,2.25 0 1,0 4.5,0a2.25,2.25 0 1,0 -4.5,0M40.6,94.6a2.25,2.25 0 1,0 4.5,0a2.25,2.25 0 1,0 -4.5,0M37.5,97.8a2.25,2.25 0 1,0 4.5,0a2.25,2.25 0 1,0 -4.5,0M36.9,107.8a2.25,2.25 0 1,0 4.5,0a2.25,2.25 0 1,0 -4.5,0M46.2,107.1a2.25,2.25 0 1,0 4.5,0a2.25,2.25 0 1,0 -4.5,0M56.2,83.4a2.25,2.25 0 1,0 4.5,0a2.25,2.25 0 1,0 -4.5,0M62.5,89.0a2.25,2.25 0 1,0 4.5,0a2.25,2.25 0 1,0 -4.5,0M63.8,87.8a2.25,2.25 0 1,0 4.5,0a2.25,2.25 0 1,0 -4.5,0M64.4,86.5a2.25,2.25 0 1,0 4.5,0a2.25,2.25 0 1,0 -4.5,0M61.2,97.1a2.25,2.25 0 1,0 4.5,0a2.25,2.25 0 1,0 -4.5,0M63.8,98.4a2.25,2.25 0 1,0 4.5,0a2.25,2.25 0 1,0 -4.5,0M66.2,99.0a2.25,2.25 0 1,0 4.5,0a2.25,2.25 0 1,0 -4.5,0M68.1,99.6a2.25,2.25 0 1,0 4.5,0a2.25,2.25 0 1,0 -4.5,0M65.0,97.8a2.25,2.25 0 1,0 4.5,0a2.25,2.25 0 1,0 -4.5,0M62.5,103.4a2.25,2.25 0 1,0 4.5,0a2.25,2.25 0 1,0 -4.5,0M63.8,105.2a2.25,2.25 0 1,0 4.5,0a2.25,2.25 0 1,0 -4.5,0M70.6,85.2a2.25,2.25 0 1,0 4.5,0a2.25,2.25 0 1,0 -4.5,0M72.5,87.8a2.25,2.25 0 1,0 4.5,0a2.25,2.25 0 1,0 -4.5,0M77.5,98.4a2.25,2.25 0 1,0 4.5,0a2.25,2.25 0 1,0 -4.5,0M84.4,102.1a2.25,2.25 0 1,0 4.5,0a2.25,2.25 0 1,0 -4.5,0M80.0,100.9a2.25,2.25 0 1,0 4.5,0a2.25,2.25 0 1,0 -4.5,0M77.5,106.5a2.25,2.25 0 1,0 4.5,0a2.25,2.25 0 1,0 -4.5,0M85.6,83.4a2.25,2.25 0 1,0 4.5,0a2.25,2.25 0 1,0 -4.5,0M90.0,83.4a2.25,2.25 0 1,0 4.5,0a2.25,2.25 0 1,0 -4.5,0M93.8,83.4a2.25,2.25 0 1,0 4.5,0a2.25,2.25 0 1,0 -4.5,0M90.6,77.1a2.25,2.25 0 1,0 4.5,0a2.25,2.25 0 1,0 -4.5,0M91.2,78.4a2.25,2.25 0 1,0 4.5,0a2.25,2.25 0 1,0 -4.5,0M93.8,90.2a2.25,2.25 0 1,0 4.5,0a2.25,2.25 0 1,0 -4.5,0M96.9,89.0a2.25,2.25 0 1,0 4.5,0a2.25,2.25 0 1,0 -4.5,0M88.8,95.2a2.25,2.25 0 1,0 4.5,0a2.25,2.25 0 1,0 -4.5,0M91.9,92.8a2.25,2.25 0 1,0 4.5,0a2.25,2.25 0 1,0 -4.5,0M101.9,75.9a2.25,2.25 0 1,0 4.5,0a2.25,2.25 0 1,0 -4.5,0M102.5,77.8a2.25,2.25 0 1,0 4.5,0a2.25,2.25 0 1,0 -4.5,0M100.6,89.6a2.25,2.25 0 1,0 4.5,0a2.25,2.25 0 1,0 -4.5,0M105.0,87.8a2.25,2.25 0 1,0 4.5,0a2.25,2.25 0 1,0 -4.5,0M90.0,106.5a2.25,2.25 0 1,0 4.5,0a2.25,2.25 0 1,0 -4.5,0M106.9,104.6a2.25,2.25 0 1,0 4.5,0a2.25,2.25 0 1,0 -4.5,0M110.0,76.5a2.25,2.25 0 1,0 4.5,0a2.25,2.25 0 1,0 -4.5,0M131.2,77.1a2.25,2.25 0 1,0 4.5,0a2.25,2.25 0 1,0 -4.5,0M135.0,80.2a2.25,2.25 0 1,0 4.5,0a2.25,2.25 0 1,0 -4.5,0M140.6,79.6a2.25,2.25 0 1,0 4.5,0a2.25,2.25 0 1,0 -4.5,0M142.5,80.9a2.25,2.25 0 1,0 4.5,0a2.25,2.25 0 1,0 -4.5,0M145.0,81.8a2.25,2.25 0 1,0 4.5,0a2.25,2.25 0 1,0 -4.5,0M146.2,78.4a2.25,2.25 0 1,0 4.5,0a2.25,2.25 0 1,0 -4.5,0M153.1,80.2a2.25,2.25 0 1,0 4.5,0a2.25,2.25 0 1,0 -4.5,0M160.6,82.1a2.25,2.25 0 1,0 4.5,0a2.25,2.25 0 1,0 -4.5,0M175.0,80.2a2.25,2.25 0 1,0 4.5,0a2.25,2.25 0 1,0 -4.5,0M181.2,75.9a2.25,2.25 0 1,0 4.5,0a2.25,2.25 0 1,0 -4.5,0M190.6,81.5a2.25,2.25 0 1,0 4.5,0a2.25,2.25 0 1,0 -4.5,0M114.4,83.4a2.25,2.25 0 1,0 4.5,0a2.25,2.25 0 1,0 -4.5,0M123.8,82.8a2.25,2.25 0 1,0 4.5,0a2.25,2.25 0 1,0 -4.5,0M123.1,85.9a2.25,2.25 0 1,0 4.5,0a2.25,2.25 0 1,0 -4.5,0M125.6,88.4a2.25,2.25 0 1,0 4.5,0a2.25,2.25 0 1,0 -4.5,0M130.0,89.0a2.25,2.25 0 1,0 4.5,0a2.25,2.25 0 1,0 -4.5,0M130.6,90.9a2.25,2.25 0 1,0 4.5,0a2.25,2.25 0 1,0 -4.5,0M130.0,92.8a2.25,2.25 0 1,0 4.5,0a2.25,2.25 0 1,0 -4.5,0M114.4,92.8a2.25,2.25 0 1,0 4.5,0a2.25,2.25 0 1,0 -4.5,0M111.2,94.0a2.25,2.25 0 1,0 4.5,0a2.25,2.25 0 1,0 -4.5,0M110.0,95.5a2.25,2.25 0 1,0 4.5,0a2.25,2.25 0 1,0 -4.5,0M112.5,93.4a2.25,2.25 0 1,0 4.5,0a2.25,2.25 0 1,0 -4.5,0M125.0,99.6a2.25,2.25 0 1,0 4.5,0a2.25,2.25 0 1,0 -4.5,0M115.0,104.0a2.25,2.25 0 1,0 4.5,0a2.25,2.25 0 1,0 -4.5,0M113.1,106.5a2.25,2.25 0 1,0 4.5,0a2.25,2.25 0 1,0 -4.5,0M110.6,105.2a2.25,2.25 0 1,0 4.5,0a2.25,2.25 0 1,0 -4.5,0M142.5,87.1a2.25,2.25 0 1,0 4.5,0a2.25,2.25 0 1,0 -4.5,0M145.0,91.5a2.25,2.25 0 1,0 4.5,0a2.25,2.25 0 1,0 -4.5,0M144.4,93.8a2.25,2.25 0 1,0 4.5,0a2.25,2.25 0 1,0 -4.5,0M139.4,94.6a2.25,2.25 0 1,0 4.5,0a2.25,2.25 0 1,0 -4.5,0M145.0,98.4a2.25,2.25 0 1,0 4.5,0a2.25,2.25 0 1,0 -4.5,0M158.8,92.1a2.25,2.25 0 1,0 4.5,0a2.25,2.25 0 1,0 -4.5,0M152.5,103.4a2.25,2.25 0 1,0 4.5,0a2.25,2.25 0 1,0 -4.5,0M135.6,103.4a2.25,2.25 0 1,0 4.5,0a2.25,2.25 0 1,0 -4.5,0M139.4,100.9a2.25,2.25 0 1,0 4.5,0a2.25,2.25 0 1,0 -4.5,0M143.8,104.0a2.25,2.25 0 1,0 4.5,0a2.25,2.25 0 1,0 -4.5,0M146.2,104.0a2.25,2.25 0 1,0 4.5,0a2.25,2.25 0 1,0 -4.5,0M148.8,103.4a2.25,2.25 0 1,0 4.5,0a2.25,2.25 0 1,0 -4.5,0M168.8,87.1a2.25,2.25 0 1,0 4.5,0a2.25,2.25 0 1,0 -4.5,0M168.1,89.6a2.25,2.25 0 1,0 4.5,0a2.25,2.25 0 1,0 -4.5,0M171.2,95.2a2.25,2.25 0 1,0 4.5,0a2.25,2.25 0 1,0 -4.5,0M183.8,85.2a2.25,2.25 0 1,0 4.5,0a2.25,2.25 0 1,0 -4.5,0M184.4,87.8a2.25,2.25 0 1,0 4.5,0a2.25,2.25 0 1,0 -4.5,0M190.0,91.5a2.25,2.25 0 1,0 4.5,0a2.25,2.25 0 1,0 -4.5,0M191.9,89.6a2.25,2.25 0 1,0 4.5,0a2.25,2.25 0 1,0 -4.5,0M188.8,94.0a2.25,2.25 0 1,0 4.5,0a2.25,2.25 0 1,0 -4.5,0M178.8,97.8a2.25,2.25 0 1,0 4.5,0a2.25,2.25 0 1,0 -4.5,0M179.4,102.8a2.25,2.25 0 1,0 4.5,0a2.25,2.25 0 1,0 -4.5,0M180.6,104.6a2.25,2.25 0 1,0 4.5,0a2.25,2.25 0 1,0 -4.5,0M178.8,105.9a2.25,2.25 0 1,0 4.5,0a2.25,2.25 0 1,0 -4.5,0M187.5,99.0a2.25,2.25 0 1,0 4.5,0a2.25,2.25 0 1,0 -4.5,0M191.9,100.2a2.25,2.25 0 1,0 4.5,0a2.25,2.25 0 1,0 -4.5,0M191.2,103.4a2.25,2.25 0 1,0 4.5,0a2.25,2.25 0 1,0 -4.5,0M161.2,105.2a2.25,2.25 0 1,0 4.5,0a2.25,2.25 0 1,0 -4.5,0M163.8,104.0a2.25,2.25 0 1,0 4.5,0a2.25,2.25 0 1,0 -4.5,0M165.0,105.9a2.25,2.25 0 1,0 4.5,0a2.25,2.25 0 1,0 -4.5,0M210.0,77.1a2.25,2.25 0 1,0 4.5,0a2.25,2.25 0 1,0 -4.5,0M206.2,79.0a2.25,2.25 0 1,0 4.5,0a2.25,2.25 0 1,0 -4.5,0M209.4,81.5a2.25,2.25 0 1,0 4.5,0a2.25,2.25 0 1,0 -4.5,0M211.2,78.4a2.25,2.25 0 1,0 4.5,0a2.25,2.25 0 1,0 -4.5,0M196.9,82.1a2.25,2.25 0 1,0 4.5,0a2.25,2.25 0 1,0 -4.5,0M220.6,89.0a2.25,2.25 0 1,0 4.5,0a2.25,2.25 0 1,0 -4.5,0M220.0,90.9a2.25,2.25 0 1,0 4.5,0a2.25,2.25 0 1,0 -4.5,0M208.8,88.4a2.25,2.25 0 1,0 4.5,0a2.25,2.25 0 1,0 -4.5,0M211.9,87.8a2.25,2.25 0 1,0 4.5,0a2.25,2.25 0 1,0 -4.5,0M213.8,87.1a2.25,2.25 0 1,0 4.5,0a2.25,2.25 0 1,0 -4.5,0M210.6,92.1a2.25,2.25 0 1,0 4.5,0a2.25,2.25 0 1,0 -4.5,0M225.6,86.5a2.25,2.25 0 1,0 4.5,0a2.25,2.25 0 1,0 -4.5,0M229.4,81.5a2.25,2.25 0 1,0 4.5,0a2.25,2.25 0 1,0 -4.5,0M232.5,86.5a2.25,2.25 0 1,0 4.5,0a2.25,2.25 0 1,0 -4.5,0M225.6,93.4a2.25,2.25 0 1,0 4.5,0a2.25,2.25 0 1,0 -4.5,0M226.2,97.1a2.25,2.25 0 1,0 4.5,0a2.25,2.25 0 1,0 -4.5,0M230.6,97.1a2.25,2.25 0 1,0 4.5,0a2.25,2.25 0 1,0 -4.5,0M225.6,101.5a2.25,2.25 0 1,0 4.5,0a2.25,2.25 0 1,0 -4.5,0M228.1,95.9a2.25,2.25 0 1,0 4.5,0a2.25,2.25 0 1,0 -4.5,0M209.4,98.4a2.25,2.25 0 1,0 4.5,0a2.25,2.25 0 1,0 -4.5,0M196.2,100.9a2.25,2.25 0 1,0 4.5,0a2.25,2.25 0 1,0 -4.5,0M197.5,102.8a2.25,2.25 0 1,0 4.5,0a2.25,2.25 0 1,0 -4.5,0M199.4,105.9a2.25,2.25 0 1,0 4.5,0a2.25,2.25 0 1,0 -4.5,0M195.0,104.6a2.25,2.25 0 1,0 4.5,0a2.25,2.25 0 1,0 -4.5,0M215.6,105.9a2.25,2.25 0 1,0 4.5,0a2.25,2.25 0 1,0 -4.5,0M239.4,85.2a2.25,2.25 0 1,0 4.5,0a2.25,2.25 0 1,0 -4.5,0M238.8,89.0a2.25,2.25 0 1,0 4.5,0a2.25,2.25 0 1,0 -4.5,0M245.0,77.8a2.25,2.25 0 1,0 4.5,0a2.25,2.25 0 1,0 -4.5,0M246.2,86.5a2.25,2.25 0 1,0 4.5,0a2.25,2.25 0 1,0 -4.5,0M249.4,82.1a2.25,2.25 0 1,0 4.5,0a2.25,2.25 0 1,0 -4.5,0M255.0,85.2a2.25,2.25 0 1,0 4.5,0a2.25,2.25 0 1,0 -4.5,0M251.2,89.0a2.25,2.25 0 1,0 4.5,0a2.25,2.25 0 1,0 -4.5,0M248.8,87.8a2.25,2.25 0 1,0 4.5,0a2.25,2.25 0 1,0 -4.5,0M261.2,85.9a2.25,2.25 0 1,0 4.5,0a2.25,2.25 0 1,0 -4.5,0M267.5,83.4a2.25,2.25 0 1,0 4.5,0a2.25,2.25 0 1,0 -4.5,0M272.5,86.5a2.25,2.25 0 1,0 4.5,0a2.25,2.25 0 1,0 -4.5,0M271.2,94.0a2.25,2.25 0 1,0 4.5,0a2.25,2.25 0 1,0 -4.5,0M240.0,100.9a2.25,2.25 0 1,0 4.5,0a2.25,2.25 0 1,0 -4.5,0M248.8,104.0a2.25,2.25 0 1,0 4.5,0a2.25,2.25 0 1,0 -4.5,0M265.6,103.4a2.25,2.25 0 1,0 4.5,0a2.25,2.25 0 1,0 -4.5,0M238.1,108.0a2.25,2.25 0 1,0 4.5,0a2.25,2.25 0 1,0 -4.5,0M26.9,112.8a2.25,2.25 0 1,0 4.5,0a2.25,2.25 0 1,0 -4.5,0M41.2,110.2a2.25,2.25 0 1,0 4.5,0a2.25,2.25 0 1,0 -4.5,0M40.0,114.0a2.25,2.25 0 1,0 4.5,0a2.25,2.25 0 1,0 -4.5,0M43.1,114.6a2.25,2.25 0 1,0 4.5,0a2.25,2.25 0 1,0 -4.5,0M50.6,113.4a2.25,2.25 0 1,0 4.5,0a2.25,2.25 0 1,0 -4.5,0M52.5,120.2a2.25,2.25 0 1,0 4.5,0a2.25,2.25 0 1,0 -4.5,0M54.4,118.4a2.25,2.25 0 1,0 4.5,0a2.25,2.25 0 1,0 -4.5,0M29.4,121.5a2.25,2.25 0 1,0 4.5,0a2.25,2.25 0 1,0 -4.5,0M33.8,120.9a2.25,2.25 0 1,0 4.5,0a2.25,2.25 0 1,0 -4.5,0M36.2,120.9a2.25,2.25 0 1,0 4.5,0a2.25,2.25 0 1,0 -4.5,0M41.9,123.4a2.25,2.25 0 1,0 4.5,0a2.25,2.25 0 1,0 -4.5,0M40.6,127.8a2.25,2.25 0 1,0 4.5,0a2.25,2.25 0 1,0 -4.5,0M30.0,129.0a2.25,2.25 0 1,0 4.5,0a2.25,2.25 0 1,0 -4.5,0M32.5,133.4a2.25,2.25 0 1,0 4.5,0a2.25,2.25 0 1,0 -4.5,0M28.1,136.5a2.25,2.25 0 1,0 4.5,0a2.25,2.25 0 1,0 -4.5,0M39.4,137.8a2.25,2.25 0 1,0 4.5,0a2.25,2.25 0 1,0 -4.5,0M41.9,139.0a2.25,2.25 0 1,0 4.5,0a2.25,2.25 0 1,0 -4.5,0M38.8,141.5a2.25,2.25 0 1,0 4.5,0a2.25,2.25 0 1,0 -4.5,0M51.9,137.1a2.25,2.25 0 1,0 4.5,0a2.25,2.25 0 1,0 -4.5,0M50.6,142.1a2.25,2.25 0 1,0 4.5,0a2.25,2.25 0 1,0 -4.5,0M64.4,117.8a2.25,2.25 0 1,0 4.5,0a2.25,2.25 0 1,0 -4.5,0M68.1,116.5a2.25,2.25 0 1,0 4.5,0a2.25,2.25 0 1,0 -4.5,0M69.4,120.2a2.25,2.25 0 1,0 4.5,0a2.25,2.25 0 1,0 -4.5,0M73.1,115.2a2.25,2.25 0 1,0 4.5,0a2.25,2.25 0 1,0 -4.5,0M73.8,119.6a2.25,2.25 0 1,0 4.5,0a2.25,2.25 0 1,0 -4.5,0M62.5,134.0a2.25,2.25 0 1,0 4.5,0a2.25,2.25 0 1,0 -4.5,0M63.1,139.6a2.25,2.25 0 1,0 4.5,0a2.25,2.25 0 1,0 -4.5,0M79.4,134.6a2.25,2.25 0 1,0 4.5,0a2.25,2.25 0 1,0 -4.5,0M81.2,137.8a2.25,2.25 0 1,0 4.5,0a2.25,2.25 0 1,0 -4.5,0M85.0,112.8a2.25,2.25 0 1,0 4.5,0a2.25,2.25 0 1,0 -4.5,0M87.5,116.5a2.25,2.25 0 1,0 4.5,0a2.25,2.25 0 1,0 -4.5,0M91.9,115.2a2.25,2.25 0 1,0 4.5,0a2.25,2.25 0 1,0 -4.5,0M104.4,112.1a2.25,2.25 0 1,0 4.5,0a2.25,2.25 0 1,0 -4.5,0M115.0,114.0a2.25,2.25 0 1,0 4.5,0a2.25,2.25 0 1,0 -4.5,0M111.2,116.5a2.25,2.25 0 1,0 4.5,0a2.25,2.25 0 1,0 -4.5,0M118.8,117.1a2.25,2.25 0 1,0 4.5,0a2.25,2.25 0 1,0 -4.5,0M131.2,119.6a2.25,2.25 0 1,0 4.5,0a2.25,2.25 0 1,0 -4.5,0M135.6,116.5a2.25,2.25 0 1,0 4.5,0a2.25,2.25 0 1,0 -4.5,0M138.1,112.8a2.25,2.25 0 1,0 4.5,0a2.25,2.25 0 1,0 -4.5,0M145.0,113.4a2.25,2.25 0 1,0 4.5,0a2.25,2.25 0 1,0 -4.5,0M148.8,117.1a2.25,2.25 0 1,0 4.5,0a2.25,2.25 0 1,0 -4.5,0M156.2,125.9a2.25,2.25 0 1,0 4.5,0a2.25,2.25 0 1,0 -4.5,0M155.0,136.5a2.25,2.25 0 1,0 4.5,0a2.25,2.25 0 1,0 -4.5,0M154.4,143.0a2.25,2.25 0 1,0 4.5,0a2.25,2.25 0 1,0 -4.5,0M168.1,119.6a2.25,2.25 0 1,0 4.5,0a2.25,2.25 0 1,0 -4.5,0M172.5,125.2a2.25,2.25 0 1,0 4.5,0a2.25,2.25 0 1,0 -4.5,0M176.2,127.1a2.25,2.25 0 1,0 4.5,0a2.25,2.25 0 1,0 -4.5,0M178.1,130.9a2.25,2.25 0 1,0 4.5,0a2.25,2.25 0 1,0 -4.5,0M178.1,135.2a2.25,2.25 0 1,0 4.5,0a2.25,2.25 0 1,0 -4.5,0M176.9,118.4a2.25,2.25 0 1,0 4.5,0a2.25,2.25 0 1,0 -4.5,0M184.4,112.1a2.25,2.25 0 1,0 4.5,0a2.25,2.25 0 1,0 -4.5,0M186.2,117.1a2.25,2.25 0 1,0 4.5,0a2.25,2.25 0 1,0 -4.5,0M186.9,119.6a2.25,2.25 0 1,0 4.5,0a2.25,2.25 0 1,0 -4.5,0M186.2,121.5a2.25,2.25 0 1,0 4.5,0a2.25,2.25 0 1,0 -4.5,0M184.4,124.6a2.25,2.25 0 1,0 4.5,0a2.25,2.25 0 1,0 -4.5,0M188.8,127.1a2.25,2.25 0 1,0 4.5,0a2.25,2.25 0 1,0 -4.5,0M188.8,133.4a2.25,2.25 0 1,0 4.5,0a2.25,2.25 0 1,0 -4.5,0M185.0,139.0a2.25,2.25 0 1,0 4.5,0a2.25,2.25 0 1,0 -4.5,0M191.9,140.2a2.25,2.25 0 1,0 4.5,0a2.25,2.25 0 1,0 -4.5,0M192.5,110.9a2.25,2.25 0 1,0 4.5,0a2.25,2.25 0 1,0 -4.5,0M201.2,110.2a2.25,2.25 0 1,0 4.5,0a2.25,2.25 0 1,0 -4.5,0M203.1,111.8a2.25,2.25 0 1,0 4.5,0a2.25,2.25 0 1,0 -4.5,0M208.1,112.8a2.25,2.25 0 1,0 4.5,0a2.25,2.25 0 1,0 -4.5,0M215.6,110.9a2.25,2.25 0 1,0 4.5,0a2.25,2.25 0 1,0 -4.5,0M202.5,119.6a2.25,2.25 0 1,0 4.5,0a2.25,2.25 0 1,0 -4.5,0M204.4,119.0a2.25,2.25 0 1,0 4.5,0a2.25,2.25 0 1,0 -4.5,0M196.2,122.1a2.25,2.25 0 1,0 4.5,0a2.25,2.25 0 1,0 -4.5,0M198.8,126.5a2.25,2.25 0 1,0 4.5,0a2.25,2.25 0 1,0 -4.5,0M195.6,129.0a2.25,2.25 0 1,0 4.5,0a2.25,2.25 0 1,0 -4.5,0M217.5,119.6a2.25,2.25 0 1,0 4.5,0a2.25,2.25 0 1,0 -4.5,0M220.6,119.6a2.25,2.25 0 1,0 4.5,0a2.25,2.25 0 1,0 -4.5,0M222.5,119.6a2.25,2.25 0 1,0 4.5,0a2.25,2.25 0 1,0 -4.5,0M231.2,115.2a2.25,2.25 0 1,0 4.5,0a2.25,2.25 0 1,0 -4.5,0M238.1,118.4a2.25,2.25 0 1,0 4.5,0a2.25,2.25 0 1,0 -4.5,0M242.5,111.5a2.25,2.25 0 1,0 4.5,0a2.25,2.25 0 1,0 -4.5,0M244.4,110.9a2.25,2.25 0 1,0 4.5,0a2.25,2.25 0 1,0 -4.5,0M253.1,110.9a2.25,2.25 0 1,0 4.5,0a2.25,2.25 0 1,0 -4.5,0M254.4,114.6a2.25,2.25 0 1,0 4.5,0a2.25,2.25 0 1,0 -4.5,0M249.4,119.0a2.25,2.25 0 1,0 4.5,0a2.25,2.25 0 1,0 -4.5,0M267.5,119.0a2.25,2.25 0 1,0 4.5,0a2.25,2.25 0 1,0 -4.5,0M269.4,114.6a2.25,2.25 0 1,0 4.5,0a2.25,2.25 0 1,0 -4.5,0M270.6,117.8a2.25,2.25 0 1,0 4.5,0a2.25,2.25 0 1,0 -4.5,0M268.8,120.0a2.25,2.25 0 1,0 4.5,0a2.25,2.25 0 1,0 -4.5,0M256.2,125.2a2.25,2.25 0 1,0 4.5,0a2.25,2.25 0 1,0 -4.5,0M261.2,127.1a2.25,2.25 0 1,0 4.5,0a2.25,2.25 0 1,0 -4.5,0M263.1,130.9a2.25,2.25 0 1,0 4.5,0a2.25,2.25 0 1,0 -4.5,0M258.8,132.8a2.25,2.25 0 1,0 4.5,0a2.25,2.25 0 1,0 -4.5,0M263.1,133.4a2.25,2.25 0 1,0 4.5,0a2.25,2.25 0 1,0 -4.5,0M269.4,127.1a2.25,2.25 0 1,0 4.5,0a2.25,2.25 0 1,0 -4.5,0M271.9,125.2a2.25,2.25 0 1,0 4.5,0a2.25,2.25 0 1,0 -4.5,0M196.9,132.8a2.25,2.25 0 1,0 4.5,0a2.25,2.25 0 1,0 -4.5,0M202.5,132.8a2.25,2.25 0 1,0 4.5,0a2.25,2.25 0 1,0 -4.5,0M207.5,137.1a2.25,2.25 0 1,0 4.5,0a2.25,2.25 0 1,0 -4.5,0M219.4,132.1a2.25,2.25 0 1,0 4.5,0a2.25,2.25 0 1,0 -4.5,0M218.1,135.9a2.25,2.25 0 1,0 4.5,0a2.25,2.25 0 1,0 -4.5,0M200.0,142.1a2.25,2.25 0 1,0 4.5,0a2.25,2.25 0 1,0 -4.5,0M216.9,142.8a2.25,2.25 0 1,0 4.5,0a2.25,2.25 0 1,0 -4.5,0M220.6,142.8a2.25,2.25 0 1,0 4.5,0a2.25,2.25 0 1,0 -4.5,0M227.5,140.2a2.25,2.25 0 1,0 4.5,0a2.25,2.25 0 1,0 -4.5,0M243.8,135.2a2.25,2.25 0 1,0 4.5,0a2.25,2.25 0 1,0 -4.5,0M243.1,139.6a2.25,2.25 0 1,0 4.5,0a2.25,2.25 0 1,0 -4.5,0M239.4,142.1a2.25,2.25 0 1,0 4.5,0a2.25,2.25 0 1,0 -4.5,0M253.1,135.9a2.25,2.25 0 1,0 4.5,0a2.25,2.25 0 1,0 -4.5,0M270.0,134.6a2.25,2.25 0 1,0 4.5,0a2.25,2.25 0 1,0 -4.5,0M268.8,139.0a2.25,2.25 0 1,0 4.5,0a2.25,2.25 0 1,0 -4.5,0M41.2,149.0a2.25,2.25 0 1,0 4.5,0a2.25,2.25 0 1,0 -4.5,0M43.8,149.0a2.25,2.25 0 1,0 4.5,0a2.25,2.25 0 1,0 -4.5,0M45.0,151.5a2.25,2.25 0 1,0 4.5,0a2.25,2.25 0 1,0 -4.5,0M43.1,150.5a2.25,2.25 0 1,0 4.5,0a2.25,2.25 0 1,0 -4.5,0M62.5,145.9a2.25,2.25 0 1,0 4.5,0a2.25,2.25 0 1,0 -4.5,0M63.8,147.5a2.25,2.25 0 1,0 4.5,0a2.25,2.25 0 1,0 -4.5,0M66.2,147.1a2.25,2.25 0 1,0 4.5,0a2.25,2.25 0 1,0 -4.5,0M63.1,153.4a2.25,2.25 0 1,0 4.5,0a2.25,2.25 0 1,0 -4.5,0M75.0,149.0a2.25,2.25 0 1,0 4.5,0a2.25,2.25 0 1,0 -4.5,0M76.2,150.2a2.25,2.25 0 1,0 4.5,0a2.25,2.25 0 1,0 -4.5,0M73.1,154.6a2.25,2.25 0 1,0 4.5,0a2.25,2.25 0 1,0 -4.5,0M81.9,145.9a2.25,2.25 0 1,0 4.5,0a2.25,2.25 0 1,0 -4.5,0M81.9,153.4a2.25,2.25 0 1,0 4.5,0a2.25,2.25 0 1,0 -4.5,0M85.6,157.1a2.25,2.25 0 1,0 4.5,0a2.25,2.25 0 1,0 -4.5,0M81.9,159.6a2.25,2.25 0 1,0 4.5,0a2.25,2.25 0 1,0 -4.5,0M26.9,159.6a2.25,2.25 0 1,0 4.5,0a2.25,2.25 0 1,0 -4.5,0M31.2,163.4a2.25,2.25 0 1,0 4.5,0a2.25,2.25 0 1,0 -4.5,0M35.0,157.8a2.25,2.25 0 1,0 4.5,0a2.25,2.25 0 1,0 -4.5,0M41.9,167.1a2.25,2.25 0 1,0 4.5,0a2.25,2.25 0 1,0 -4.5,0M46.2,167.1a2.25,2.25 0 1,0 4.5,0a2.25,2.25 0 1,0 -4.5,0M53.1,168.4a2.25,2.25 0 1,0 4.5,0a2.25,2.25 0 1,0 -4.5,0M55.6,166.5a2.25,2.25 0 1,0 4.5,0a2.25,2.25 0 1,0 -4.5,0M56.9,165.9a2.25,2.25 0 1,0 4.5,0a2.25,2.25 0 1,0 -4.5,0M66.9,162.8a2.25,2.25 0 1,0 4.5,0a2.25,2.25 0 1,0 -4.5,0M65.6,169.6a2.25,2.25 0 1,0 4.5,0a2.25,2.25 0 1,0 -4.5,0M73.1,160.9a2.25,2.25 0 1,0 4.5,0a2.25,2.25 0 1,0 -4.5,0M76.9,162.1a2.25,2.25 0 1,0 4.5,0a2.25,2.25 0 1,0 -4.5,0M73.1,168.4a2.25,2.25 0 1,0 4.5,0a2.25,2.25 0 1,0 -4.5,0M73.8,170.9a2.25,2.25 0 1,0 4.5,0a2.25,2.25 0 1,0 -4.5,0M72.5,172.1a2.25,2.25 0 1,0 4.5,0a2.25,2.25 0 1,0 -4.5,0M28.1,173.4a2.25,2.25 0 1,0 4.5,0a2.25,2.25 0 1,0 -4.5,0M60.0,177.8a2.25,2.25 0 1,0 4.5,0a2.25,2.25 0 1,0 -4.5,0M73.1,175.9a2.25,2.25 0 1,0 4.5,0a2.25,2.25 0 1,0 -4.5,0M82.5,177.1a2.25,2.25 0 1,0 4.5,0a2.25,2.25 0 1,0 -4.5,0M85.0,169.6a2.25,2.25 0 1,0 4.5,0a2.25,2.25 0 1,0 -4.5,0M98.8,177.1a2.25,2.25 0 1,0 4.5,0a2.25,2.25 0 1,0 -4.5,0M156.0,146.2a2.25,2.25 0 1,0 4.5,0a2.25,2.25 0 1,0 -4.5,0M155.0,162.1a2.25,2.25 0 1,0 4.5,0a2.25,2.25 0 1,0 -4.5,0M153.1,169.6a2.25,2.25 0 1,0 4.5,0a2.25,2.25 0 1,0 -4.5,0M158.1,169.6a2.25,2.25 0 1,0 4.5,0a2.25,2.25 0 1,0 -4.5,0M164.4,154.6a2.25,2.25 0 1,0 4.5,0a2.25,2.25 0 1,0 -4.5,0M166.9,151.5a2.25,2.25 0 1,0 4.5,0a2.25,2.25 0 1,0 -4.5,0M170.0,150.2a2.25,2.25 0 1,0 4.5,0a2.25,2.25 0 1,0 -4.5,0M172.5,153.4a2.25,2.25 0 1,0 4.5,0a2.25,2.25 0 1,0 -4.5,0M175.0,153.4a2.25,2.25 0 1,0 4.5,0a2.25,2.25 0 1,0 -4.5,0M172.5,158.4a2.25,2.25 0 1,0 4.5,0a2.25,2.25 0 1,0 -4.5,0M173.8,157.1a2.25,2.25 0 1,0 4.5,0a2.25,2.25 0 1,0 -4.5,0M181.9,150.2a2.25,2.25 0 1,0 4.5,0a2.25,2.25 0 1,0 -4.5,0M186.2,157.8a2.25,2.25 0 1,0 4.5,0a2.25,2.25 0 1,0 -4.5,0M187.5,158.4a2.25,2.25 0 1,0 4.5,0a2.25,2.25 0 1,0 -4.5,0M175.0,167.1a2.25,2.25 0 1,0 4.5,0a2.25,2.25 0 1,0 -4.5,0M180.6,169.0a2.25,2.25 0 1,0 4.5,0a2.25,2.25 0 1,0 -4.5,0M188.8,170.2a2.25,2.25 0 1,0 4.5,0a2.25,2.25 0 1,0 -4.5,0M191.9,165.2a2.25,2.25 0 1,0 4.5,0a2.25,2.25 0 1,0 -4.5,0M188.8,176.5a2.25,2.25 0 1,0 4.5,0a2.25,2.25 0 1,0 -4.5,0M123.1,177.1a2.25,2.25 0 1,0 4.5,0a2.25,2.25 0 1,0 -4.5,0M149.4,178.0a2.25,2.25 0 1,0 4.5,0a2.25,2.25 0 1,0 -4.5,0M163.8,178.0a2.25,2.25 0 1,0 4.5,0a2.25,2.25 0 1,0 -4.5,0M195.6,147.1a2.25,2.25 0 1,0 4.5,0a2.25,2.25 0 1,0 -4.5,0M246.2,147.1a2.25,2.25 0 1,0 4.5,0a2.25,2.25 0 1,0 -4.5,0M268.8,145.9a2.25,2.25 0 1,0 4.5,0a2.25,2.25 0 1,0 -4.5,0M270.0,148.4a2.25,2.25 0 1,0 4.5,0a2.25,2.25 0 1,0 -4.5,0M271.2,152.1a2.25,2.25 0 1,0 4.5,0a2.25,2.25 0 1,0 -4.5,0M200.0,156.5a2.25,2.25 0 1,0 4.5,0a2.25,2.25 0 1,0 -4.5,0M200.6,159.6a2.25,2.25 0 1,0 4.5,0a2.25,2.25 0 1,0 -4.5,0M212.5,160.9a2.25,2.25 0 1,0 4.5,0a2.25,2.25 0 1,0 -4.5,0M221.9,156.5a2.25,2.25 0 1,0 4.5,0a2.25,2.25 0 1,0 -4.5,0M239.4,159.6a2.25,2.25 0 1,0 4.5,0a2.25,2.25 0 1,0 -4.5,0M255.0,154.6a2.25,2.25 0 1,0 4.5,0a2.25,2.25 0 1,0 -4.5,0M258.1,156.5a2.25,2.25 0 1,0 4.5,0a2.25,2.25 0 1,0 -4.5,0M267.5,159.6a2.25,2.25 0 1,0 4.5,0a2.25,2.25 0 1,0 -4.5,0M268.8,163.4a2.25,2.25 0 1,0 4.5,0a2.25,2.25 0 1,0 -4.5,0M195.6,165.9a2.25,2.25 0 1,0 4.5,0a2.25,2.25 0 1,0 -4.5,0M200.0,170.9a2.25,2.25 0 1,0 4.5,0a2.25,2.25 0 1,0 -4.5,0M202.5,174.0a2.25,2.25 0 1,0 4.5,0a2.25,2.25 0 1,0 -4.5,0M197.5,175.2a2.25,2.25 0 1,0 4.5,0a2.25,2.25 0 1,0 -4.5,0M201.2,177.1a2.25,2.25 0 1,0 4.5,0a2.25,2.25 0 1,0 -4.5,0M210.6,172.8a2.25,2.25 0 1,0 4.5,0a2.25,2.25 0 1,0 -4.5,0M217.5,170.2a2.25,2.25 0 1,0 4.5,0a2.25,2.25 0 1,0 -4.5,0M220.6,169.6a2.25,2.25 0 1,0 4.5,0a2.25,2.25 0 1,0 -4.5,0M224.4,166.5a2.25,2.25 0 1,0 4.5,0a2.25,2.25 0 1,0 -4.5,0M231.2,173.4a2.25,2.25 0 1,0 4.5,0a2.25,2.25 0 1,0 -4.5,0M230.0,174.6a2.25,2.25 0 1,0 4.5,0a2.25,2.25 0 1,0 -4.5,0M233.1,172.1a2.25,2.25 0 1,0 4.5,0a2.25,2.25 0 1,0 -4.5,0M242.5,172.1a2.25,2.25 0 1,0 4.5,0a2.25,2.25 0 1,0 -4.5,0M245.0,171.5a2.25,2.25 0 1,0 4.5,0a2.25,2.25 0 1,0 -4.5,0M249.4,174.0a2.25,2.25 0 1,0 4.5,0a2.25,2.25 0 1,0 -4.5,0M256.9,170.9a2.25,2.25 0 1,0 4.5,0a2.25,2.25 0 1,0 -4.5,0M252.5,175.9a2.25,2.25 0 1,0 4.5,0a2.25,2.25 0 1,0 -4.5,0M249.4,176.8a2.25,2.25 0 1,0 4.5,0a2.25,2.25 0 1,0 -4.5,0M227.5,178.0a2.25,2.25 0 1,0 4.5,0a2.25,2.25 0 1,0 -4.5,0M241.9,177.8a2.25,2.25 0 1,0 4.5,0a2.25,2.25 0 1,0 -4.5,0M48.8,185.2a2.25,2.25 0 1,0 4.5,0a2.25,2.25 0 1,0 -4.5,0M46.9,183.4a2.25,2.25 0 1,0 4.5,0a2.25,2.25 0 1,0 -4.5,0M27.5,190.2a2.25,2.25 0 1,0 4.5,0a2.25,2.25 0 1,0 -4.5,0M36.2,195.9a2.25,2.25 0 1,0 4.5,0a2.25,2.25 0 1,0 -4.5,0M30.0,201.5a2.25,2.25 0 1,0 4.5,0a2.25,2.25 0 1,0 -4.5,0M32.5,205.2a2.25,2.25 0 1,0 4.5,0a2.25,2.25 0 1,0 -4.5,0M42.5,201.5a2.25,2.25 0 1,0 4.5,0a2.25,2.25 0 1,0 -4.5,0M47.5,199.0a2.25,2.25 0 1,0 4.5,0a2.25,2.25 0 1,0 -4.5,0M41.9,203.4a2.25,2.25 0 1,0 4.5,0a2.25,2.25 0 1,0 -4.5,0M41.2,213.4a2.25,2.25 0 1,0 4.5,0a2.25,2.25 0 1,0 -4.5,0M68.1,185.9a2.25,2.25 0 1,0 4.5,0a2.25,2.25 0 1,0 -4.5,0M66.9,191.5a2.25,2.25 0 1,0 4.5,0a2.25,2.25 0 1,0 -4.5,0M71.2,190.9a2.25,2.25 0 1,0 4.5,0a2.25,2.25 0 1,0 -4.5,0M64.4,197.1a2.25,2.25 0 1,0 4.5,0a2.25,2.25 0 1,0 -4.5,0M81.2,184.6a2.25,2.25 0 1,0 4.5,0a2.25,2.25 0 1,0 -4.5,0M83.1,187.1a2.25,2.25 0 1,0 4.5,0a2.25,2.25 0 1,0 -4.5,0M85.0,183.4a2.25,2.25 0 1,0 4.5,0a2.25,2.25 0 1,0 -4.5,0M86.2,180.9a2.25,2.25 0 1,0 4.5,0a2.25,2.25 0 1,0 -4.5,0M90.0,180.2a2.25,2.25 0 1,0 4.5,0a2.25,2.25 0 1,0 -4.5,0M77.5,196.5a2.25,2.25 0 1,0 4.5,0a2.25,2.25 0 1,0 -4.5,0M86.2,193.4a2.25,2.25 0 1,0 4.5,0a2.25,2.25 0 1,0 -4.5,0M91.2,193.4a2.25,2.25 0 1,0 4.5,0a2.25,2.25 0 1,0 -4.5,0M96.9,199.0a2.25,2.25 0 1,0 4.5,0a2.25,2.25 0 1,0 -4.5,0M101.9,201.5a2.25,2.25 0 1,0 4.5,0a2.25,2.25 0 1,0 -4.5,0M100.6,205.9a2.25,2.25 0 1,0 4.5,0a2.25,2.25 0 1,0 -4.5,0M101.2,209.6a2.25,2.25 0 1,0 4.5,0a2.25,2.25 0 1,0 -4.5,0M103.8,211.2a2.25,2.25 0 1,0 4.5,0a2.25,2.25 0 1,0 -4.5,0M98.8,181.5a2.25,2.25 0 1,0 4.5,0a2.25,2.25 0 1,0 -4.5,0M99.4,184.6a2.25,2.25 0 1,0 4.5,0a2.25,2.25 0 1,0 -4.5,0M100.6,187.8a2.25,2.25 0 1,0 4.5,0a2.25,2.25 0 1,0 -4.5,0M106.2,191.5a2.25,2.25 0 1,0 4.5,0a2.25,2.25 0 1,0 -4.5,0M106.9,197.8a2.25,2.25 0 1,0 4.5,0a2.25,2.25 0 1,0 -4.5,0M76.2,202.8a2.25,2.25 0 1,0 4.5,0a2.25,2.25 0 1,0 -4.5,0M71.9,207.1a2.25,2.25 0 1,0 4.5,0a2.25,2.25 0 1,0 -4.5,0M78.1,207.8a2.25,2.25 0 1,0 4.5,0a2.25,2.25 0 1,0 -4.5,0M87.5,209.6a2.25,2.25 0 1,0 4.5,0a2.25,2.25 0 1,0 -4.5,0M64.4,212.1a2.25,2.25 0 1,0 4.5,0a2.25,2.25 0 1,0 -4.5,0M145.0,181.2a2.25,2.25 0 1,0 4.5,0a2.25,2.25 0 1,0 -4.5,0M166.5,180.5a2.25,2.25 0 1,0 4.5,0a2.25,2.25 0 1,0 -4.5,0M114.4,190.2a2.25,2.25 0 1,0 4.5,0a2.25,2.25 0 1,0 -4.5,0M117.5,189.2a2.25,2.25 0 1,0 4.5,0a2.25,2.25 0 1,0 -4.5,0M109.8,195.2a2.25,2.25 0 1,0 4.5,0a2.25,2.25 0 1,0 -4.5,0M140.6,185.2a2.25,2.25 0 1,0 4.5,0a2.25,2.25 0 1,0 -4.5,0M154.4,183.4a2.25,2.25 0 1,0 4.5,0a2.25,2.25 0 1,0 -4.5,0M156.9,191.5a2.25,2.25 0 1,0 4.5,0a2.25,2.25 0 1,0 -4.5,0M135.0,193.4a2.25,2.25 0 1,0 4.5,0a2.25,2.25 0 1,0 -4.5,0M140.0,194.6a2.25,2.25 0 1,0 4.5,0a2.25,2.25 0 1,0 -4.5,0M138.1,197.8a2.25,2.25 0 1,0 4.5,0a2.25,2.25 0 1,0 -4.5,0M135.6,199.6a2.25,2.25 0 1,0 4.5,0a2.25,2.25 0 1,0 -4.5,0M136.9,201.2a2.25,2.25 0 1,0 4.5,0a2.25,2.25 0 1,0 -4.5,0M123.1,205.2a2.25,2.25 0 1,0 4.5,0a2.25,2.25 0 1,0 -4.5,0M130.6,204.0a2.25,2.25 0 1,0 4.5,0a2.25,2.25 0 1,0 -4.5,0M130.6,208.4a2.25,2.25 0 1,0 4.5,0a2.25,2.25 0 1,0 -4.5,0M135.6,209.0a2.25,2.25 0 1,0 4.5,0a2.25,2.25 0 1,0 -4.5,0M139.4,209.6a2.25,2.25 0 1,0 4.5,0a2.25,2.25 0 1,0 -4.5,0M148.8,196.5a2.25,2.25 0 1,0 4.5,0a2.25,2.25 0 1,0 -4.5,0M151.9,199.6a2.25,2.25 0 1,0 4.5,0a2.25,2.25 0 1,0 -4.5,0M151.2,202.1a2.25,2.25 0 1,0 4.5,0a2.25,2.25 0 1,0 -4.5,0M154.4,205.2a2.25,2.25 0 1,0 4.5,0a2.25,2.25 0 1,0 -4.5,0M147.5,208.4a2.25,2.25 0 1,0 4.5,0a2.25,2.25 0 1,0 -4.5,0M154.4,210.5a2.25,2.25 0 1,0 4.5,0a2.25,2.25 0 1,0 -4.5,0M163.8,185.9a2.25,2.25 0 1,0 4.5,0a2.25,2.25 0 1,0 -4.5,0M163.8,192.8a2.25,2.25 0 1,0 4.5,0a2.25,2.25 0 1,0 -4.5,0M168.1,194.6a2.25,2.25 0 1,0 4.5,0a2.25,2.25 0 1,0 -4.5,0M172.5,197.8a2.25,2.25 0 1,0 4.5,0a2.25,2.25 0 1,0 -4.5,0M163.8,200.2a2.25,2.25 0 1,0 4.5,0a2.25,2.25 0 1,0 -4.5,0M167.5,201.5a2.25,2.25 0 1,0 4.5,0a2.25,2.25 0 1,0 -4.5,0M170.6,210.2a2.25,2.25 0 1,0 4.5,0a2.25,2.25 0 1,0 -4.5,0M161.2,212.1a2.25,2.25 0 1,0 4.5,0a2.25,2.25 0 1,0 -4.5,0M188.8,187.1a2.25,2.25 0 1,0 4.5,0a2.25,2.25 0 1,0 -4.5,0M191.9,192.8a2.25,2.25 0 1,0 4.5,0a2.25,2.25 0 1,0 -4.5,0M191.2,202.1a2.25,2.25 0 1,0 4.5,0a2.25,2.25 0 1,0 -4.5,0M186.9,196.5a2.25,2.25 0 1,0 4.5,0a2.25,2.25 0 1,0 -4.5,0M181.2,195.2a2.25,2.25 0 1,0 4.5,0a2.25,2.25 0 1,0 -4.5,0M183.8,200.2a2.25,2.25 0 1,0 4.5,0a2.25,2.25 0 1,0 -4.5,0M181.9,204.6a2.25,2.25 0 1,0 4.5,0a2.25,2.25 0 1,0 -4.5,0M180.0,212.1a2.25,2.25 0 1,0 4.5,0a2.25,2.25 0 1,0 -4.5,0M201.2,182.8a2.25,2.25 0 1,0 4.5,0a2.25,2.25 0 1,0 -4.5,0M196.9,185.2a2.25,2.25 0 1,0 4.5,0a2.25,2.25 0 1,0 -4.5,0M200.0,184.2a2.25,2.25 0 1,0 4.5,0a2.25,2.25 0 1,0 -4.5,0M210.0,184.0a2.25,2.25 0 1,0 4.5,0a2.25,2.25 0 1,0 -4.5,0M208.1,187.1a2.25,2.25 0 1,0 4.5,0a2.25,2.25 0 1,0 -4.5,0M195.0,191.5a2.25,2.25 0 1,0 4.5,0a2.25,2.25 0 1,0 -4.5,0M196.9,193.4a2.25,2.25 0 1,0 4.5,0a2.25,2.25 0 1,0 -4.5,0M199.4,197.1a2.25,2.25 0 1,0 4.5,0a2.25,2.25 0 1,0 -4.5,0M196.2,195.2a2.25,2.25 0 1,0 4.5,0a2.25,2.25 0 1,0 -4.5,0M211.9,196.5a2.25,2.25 0 1,0 4.5,0a2.25,2.25 0 1,0 -4.5,0M213.1,198.4a2.25,2.25 0 1,0 4.5,0a2.25,2.25 0 1,0 -4.5,0M214.4,197.5a2.25,2.25 0 1,0 4.5,0a2.25,2.25 0 1,0 -4.5,0M210.6,199.6a2.25,2.25 0 1,0 4.5,0a2.25,2.25 0 1,0 -4.5,0M209.4,203.4a2.25,2.25 0 1,0 4.5,0a2.25,2.25 0 1,0 -4.5,0M215.0,203.4a2.25,2.25 0 1,0 4.5,0a2.25,2.25 0 1,0 -4.5,0M212.5,201.2a2.25,2.25 0 1,0 4.5,0a2.25,2.25 0 1,0 -4.5,0M220.0,207.1a2.25,2.25 0 1,0 4.5,0a2.25,2.25 0 1,0 -4.5,0M201.2,210.2a2.25,2.25 0 1,0 4.5,0a2.25,2.25 0 1,0 -4.5,0M198.1,212.1a2.25,2.25 0 1,0 4.5,0a2.25,2.25 0 1,0 -4.5,0M226.9,202.1a2.25,2.25 0 1,0 4.5,0a2.25,2.25 0 1,0 -4.5,0M231.2,189.0a2.25,2.25 0 1,0 4.5,0a2.25,2.25 0 1,0 -4.5,0M230.0,194.6a2.25,2.25 0 1,0 4.5,0a2.25,2.25 0 1,0 -4.5,0M233.8,204.6a2.25,2.25 0 1,0 4.5,0a2.25,2.25 0 1,0 -4.5,0M235.6,209.0a2.25,2.25 0 1,0 4.5,0a2.25,2.25 0 1,0 -4.5,0M233.8,211.8a2.25,2.25 0 1,0 4.5,0a2.25,2.25 0 1,0 -4.5,0M241.2,190.2a2.25,2.25 0 1,0 4.5,0a2.25,2.25 0 1,0 -4.5,0M240.0,194.0a2.25,2.25 0 1,0 4.5,0a2.25,2.25 0 1,0 -4.5,0M241.9,200.2a2.25,2.25 0 1,0 4.5,0a2.25,2.25 0 1,0 -4.5,0M247.5,202.1a2.25,2.25 0 1,0 4.5,0a2.25,2.25 0 1,0 -4.5,0M242.5,211.5a2.25,2.25 0 1,0 4.5,0a2.25,2.25 0 1,0 -4.5,0M250.6,192.1a2.25,2.25 0 1,0 4.5,0a2.25,2.25 0 1,0 -4.5,0M258.8,188.4a2.25,2.25 0 1,0 4.5,0a2.25,2.25 0 1,0 -4.5,0M261.9,192.1a2.25,2.25 0 1,0 4.5,0a2.25,2.25 0 1,0 -4.5,0M266.2,189.6a2.25,2.25 0 1,0 4.5,0a2.25,2.25 0 1,0 -4.5,0M255.0,194.0a2.25,2.25 0 1,0 4.5,0a2.25,2.25 0 1,0 -4.5,0M256.9,196.8a2.25,2.25 0 1,0 4.5,0a2.25,2.25 0 1,0 -4.5,0M272.5,199.0a2.25,2.25 0 1,0 4.5,0a2.25,2.25 0 1,0 -4.5,0M256.2,211.8a2.25,2.25 0 1,0 4.5,0a2.25,2.25 0 1,0 -4.5,0M266.9,209.0a2.25,2.25 0 1,0 4.5,0a2.25,2.25 0 1,0 -4.5,0M267.5,211.0a2.25,2.25 0 1,0 4.5,0a2.25,2.25 0 1,0 -4.5,0M208.8,212.8a2.25,2.25 0 1,0 4.5,0a2.25,2.25 0 1,0 -4.5,0M38.1,221.4a2.25,2.25 0 1,0 4.5,0a2.25,2.25 0 1,0 -4.5,0M43.1,223.9a2.25,2.25 0 1,0 4.5,0a2.25,2.25 0 1,0 -4.5,0M45.0,229.5a2.25,2.25 0 1,0 4.5,0a2.25,2.25 0 1,0 -4.5,0M53.8,218.2a2.25,2.25 0 1,0 4.5,0a2.25,2.25 0 1,0 -4.5,0M56.9,218.2a2.25,2.25 0 1,0 4.5,0a2.25,2.25 0 1,0 -4.5,0M59.4,218.2a2.25,2.25 0 1,0 4.5,0a2.25,2.25 0 1,0 -4.5,0M55.6,233.2a2.25,2.25 0 1,0 4.5,0a2.25,2.25 0 1,0 -4.5,0M71.9,227.6a2.25,2.25 0 1,0 4.5,0a2.25,2.25 0 1,0 -4.5,0M76.2,227.0a2.25,2.25 0 1,0 4.5,0a2.25,2.25 0 1,0 -4.5,0M81.9,222.0a2.25,2.25 0 1,0 4.5,0a2.25,2.25 0 1,0 -4.5,0M83.1,227.0a2.25,2.25 0 1,0 4.5,0a2.25,2.25 0 1,0 -4.5,0M86.2,214.8a2.25,2.25 0 1,0 4.5,0a2.25,2.25 0 1,0 -4.5,0M87.5,217.6a2.25,2.25 0 1,0 4.5,0a2.25,2.25 0 1,0 -4.5,0M94.4,222.6a2.25,2.25 0 1,0 4.5,0a2.25,2.25 0 1,0 -4.5,0M92.8,224.8a2.25,2.25 0 1,0 4.5,0a2.25,2.25 0 1,0 -4.5,0M105.0,222.0a2.25,2.25 0 1,0 4.5,0a2.25,2.25 0 1,0 -4.5,0M105.0,229.5a2.25,2.25 0 1,0 4.5,0a2.25,2.25 0 1,0 -4.5,0M128.1,218.9a2.25,2.25 0 1,0 4.5,0a2.25,2.25 0 1,0 -4.5,0M130.0,216.4a2.25,2.25 0 1,0 4.5,0a2.25,2.25 0 1,0 -4.5,0M131.9,215.1a2.25,2.25 0 1,0 4.5,0a2.25,2.25 0 1,0 -4.5,0M134.4,212.6a2.25,2.25 0 1,0 4.5,0a2.25,2.25 0 1,0 -4.5,0M118.8,227.6a2.25,2.25 0 1,0 4.5,0a2.25,2.25 0 1,0 -4.5,0M125.0,225.1a2.25,2.25 0 1,0 4.5,0a2.25,2.25 0 1,0 -4.5,0M130.0,225.8a2.25,2.25 0 1,0 4.5,0a2.25,2.25 0 1,0 -4.5,0M131.2,227.0a2.25,2.25 0 1,0 4.5,0a2.25,2.25 0 1,0 -4.5,0M147.5,218.9a2.25,2.25 0 1,0 4.5,0a2.25,2.25 0 1,0 -4.5,0M151.2,222.0a2.25,2.25 0 1,0 4.5,0a2.25,2.25 0 1,0 -4.5,0M157.5,218.2a2.25,2.25 0 1,0 4.5,0a2.25,2.25 0 1,0 -4.5,0M158.8,220.1a2.25,2.25 0 1,0 4.5,0a2.25,2.25 0 1,0 -4.5,0M160.0,216.4a2.25,2.25 0 1,0 4.5,0a2.25,2.25 0 1,0 -4.5,0M161.2,214.2a2.25,2.25 0 1,0 4.5,0a2.25,2.25 0 1,0 -4.5,0M168.1,223.2a2.25,2.25 0 1,0 4.5,0a2.25,2.25 0 1,0 -4.5,0M170.6,227.0a2.25,2.25 0 1,0 4.5,0a2.25,2.25 0 1,0 -4.5,0M172.5,228.9a2.25,2.25 0 1,0 4.5,0a2.25,2.25 0 1,0 -4.5,0M174.4,227.6a2.25,2.25 0 1,0 4.5,0a2.25,2.25 0 1,0 -4.5,0M171.9,230.1a2.25,2.25 0 1,0 4.5,0a2.25,2.25 0 1,0 -4.5,0M176.2,222.0a2.25,2.25 0 1,0 4.5,0a2.25,2.25 0 1,0 -4.5,0M177.5,217.6a2.25,2.25 0 1,0 4.5,0a2.25,2.25 0 1,0 -4.5,0M177.5,214.5a2.25,2.25 0 1,0 4.5,0a2.25,2.25 0 1,0 -4.5,0M182.5,213.2a2.25,2.25 0 1,0 4.5,0a2.25,2.25 0 1,0 -4.5,0M179.4,227.6a2.25,2.25 0 1,0 4.5,0a2.25,2.25 0 1,0 -4.5,0M181.2,230.1a2.25,2.25 0 1,0 4.5,0a2.25,2.25 0 1,0 -4.5,0M183.8,227.6a2.25,2.25 0 1,0 4.5,0a2.25,2.25 0 1,0 -4.5,0M185.0,229.5a2.25,2.25 0 1,0 4.5,0a2.25,2.25 0 1,0 -4.5,0M187.5,226.4a2.25,2.25 0 1,0 4.5,0a2.25,2.25 0 1,0 -4.5,0M188.8,224.5a2.25,2.25 0 1,0 4.5,0a2.25,2.25 0 1,0 -4.5,0M190.0,228.2a2.25,2.25 0 1,0 4.5,0a2.25,2.25 0 1,0 -4.5,0M191.9,230.1a2.25,2.25 0 1,0 4.5,0a2.25,2.25 0 1,0 -4.5,0M191.2,226.8a2.25,2.25 0 1,0 4.5,0a2.25,2.25 0 1,0 -4.5,0M213.8,217.0a2.25,2.25 0 1,0 4.5,0a2.25,2.25 0 1,0 -4.5,0M216.2,222.6a2.25,2.25 0 1,0 4.5,0a2.25,2.25 0 1,0 -4.5,0M203.8,224.5a2.25,2.25 0 1,0 4.5,0a2.25,2.25 0 1,0 -4.5,0M202.5,230.8a2.25,2.25 0 1,0 4.5,0a2.25,2.25 0 1,0 -4.5,0M213.1,230.8a2.25,2.25 0 1,0 4.5,0a2.25,2.25 0 1,0 -4.5,0M220.6,230.1a2.25,2.25 0 1,0 4.5,0a2.25,2.25 0 1,0 -4.5,0M224.4,226.4a2.25,2.25 0 1,0 4.5,0a2.25,2.25 0 1,0 -4.5,0M227.5,216.4a2.25,2.25 0 1,0 4.5,0a2.25,2.25 0 1,0 -4.5,0M230.0,221.4a2.25,2.25 0 1,0 4.5,0a2.25,2.25 0 1,0 -4.5,0M234.4,214.8a2.25,2.25 0 1,0 4.5,0a2.25,2.25 0 1,0 -4.5,0M241.9,222.6a2.25,2.25 0 1,0 4.5,0a2.25,2.25 0 1,0 -4.5,0M241.2,225.8a2.25,2.25 0 1,0 4.5,0a2.25,2.25 0 1,0 -4.5,0M246.2,218.2a2.25,2.25 0 1,0 4.5,0a2.25,2.25 0 1,0 -4.5,0M250.6,218.2a2.25,2.25 0 1,0 4.5,0a2.25,2.25 0 1,0 -4.5,0M248.8,224.5a2.25,2.25 0 1,0 4.5,0a2.25,2.25 0 1,0 -4.5,0M251.9,228.2a2.25,2.25 0 1,0 4.5,0a2.25,2.25 0 1,0 -4.5,0M257.5,229.5a2.25,2.25 0 1,0 4.5,0a2.25,2.25 0 1,0 -4.5,0M255.0,214.5a2.25,2.25 0 1,0 4.5,0a2.25,2.25 0 1,0 -4.5,0M268.1,213.2a2.25,2.25 0 1,0 4.5,0a2.25,2.25 0 1,0 -4.5,0M258.8,219.5a2.25,2.25 0 1,0 4.5,0a2.25,2.25 0 1,0 -4.5,0M261.2,219.5a2.25,2.25 0 1,0 4.5,0a2.25,2.25 0 1,0 -4.5,0M263.8,219.5a2.25,2.25 0 1,0 4.5,0a2.25,2.25 0 1,0 -4.5,0M269.4,227.6a2.25,2.25 0 1,0 4.5,0a2.25,2.25 0 1,0 -4.5,0M329.1,9.6a2.25,2.25 0 1,0 4.5,0a2.25,2.25 0 1,0 -4.5,0M327.9,12.1a2.25,2.25 0 1,0 4.5,0a2.25,2.25 0 1,0 -4.5,0M332.2,8.4a2.25,2.25 0 1,0 4.5,0a2.25,2.25 0 1,0 -4.5,0M333.5,12.8a2.25,2.25 0 1,0 4.5,0a2.25,2.25 0 1,0 -4.5,0M331.0,16.5a2.25,2.25 0 1,0 4.5,0a2.25,2.25 0 1,0 -4.5,0M333.5,16.5a2.25,2.25 0 1,0 4.5,0a2.25,2.25 0 1,0 -4.5,0M326.0,17.1a2.25,2.25 0 1,0 4.5,0a2.25,2.25 0 1,0 -4.5,0M328.8,15.5a2.25,2.25 0 1,0 4.5,0a2.25,2.25 0 1,0 -4.5,0M342.2,5.9a2.25,2.25 0 1,0 4.5,0a2.25,2.25 0 1,0 -4.5,0M341.0,18.4a2.25,2.25 0 1,0 4.5,0a2.25,2.25 0 1,0 -4.5,0M323.5,25.9a2.25,2.25 0 1,0 4.5,0a2.25,2.25 0 1,0 -4.5,0M334.8,24.0a2.25,2.25 0 1,0 4.5,0a2.25,2.25 0 1,0 -4.5,0M335.4,24.8a2.25,2.25 0 1,0 4.5,0a2.25,2.25 0 1,0 -4.5,0M341.0,25.9a2.25,2.25 0 1,0 4.5,0a2.25,2.25 0 1,0 -4.5,0M345.4,30.2a2.25,2.25 0 1,0 4.5,0a2.25,2.25 0 1,0 -4.5,0M338.5,34.0a2.25,2.25 0 1,0 4.5,0a2.25,2.25 0 1,0 -4.5,0M356.0,6.5a2.25,2.25 0 1,0 4.5,0a2.25,2.25 0 1,0 -4.5,0M354.8,10.2a2.25,2.25 0 1,0 4.5,0a2.25,2.25 0 1,0 -4.5,0M349.8,13.4a2.25,2.25 0 1,0 4.5,0a2.25,2.25 0 1,0 -4.5,0M364.8,13.4a2.25,2.25 0 1,0 4.5,0a2.25,2.25 0 1,0 -4.5,0M361.6,16.5a2.25,2.25 0 1,0 4.5,0a2.25,2.25 0 1,0 -4.5,0M364.1,24.6a2.25,2.25 0 1,0 4.5,0a2.25,2.25 0 1,0 -4.5,0M366.6,21.5a2.25,2.25 0 1,0 4.5,0a2.25,2.25 0 1,0 -4.5,0M369.1,22.1a2.25,2.25 0 1,0 4.5,0a2.25,2.25 0 1,0 -4.5,0M370.4,21.5a2.25,2.25 0 1,0 4.5,0a2.25,2.25 0 1,0 -4.5,0M373.5,17.1a2.25,2.25 0 1,0 4.5,0a2.25,2.25 0 1,0 -4.5,0M375.4,15.2a2.25,2.25 0 1,0 4.5,0a2.25,2.25 0 1,0 -4.5,0M371.6,19.0a2.25,2.25 0 1,0 4.5,0a2.25,2.25 0 1,0 -4.5,0M359.1,30.2a2.25,2.25 0 1,0 4.5,0a2.25,2.25 0 1,0 -4.5,0M358.5,31.1a2.25,2.25 0 1,0 4.5,0a2.25,2.25 0 1,0 -4.5,0M351.0,36.5a2.25,2.25 0 1,0 4.5,0a2.25,2.25 0 1,0 -4.5,0M367.9,34.0a2.25,2.25 0 1,0 4.5,0a2.25,2.25 0 1,0 -4.5,0M369.8,27.8a2.25,2.25 0 1,0 4.5,0a2.25,2.25 0 1,0 -4.5,0M371.0,29.0a2.25,2.25 0 1,0 4.5,0a2.25,2.25 0 1,0 -4.5,0M374.1,29.0a2.25,2.25 0 1,0 4.5,0a2.25,2.25 0 1,0 -4.5,0M376.0,31.5a2.25,2.25 0 1,0 4.5,0a2.25,2.25 0 1,0 -4.5,0M369.1,30.2a2.25,2.25 0 1,0 4.5,0a2.25,2.25 0 1,0 -4.5,0M383.5,33.4a2.25,2.25 0 1,0 4.5,0a2.25,2.25 0 1,0 -4.5,0M384.1,35.2a2.25,2.25 0 1,0 4.5,0a2.25,2.25 0 1,0 -4.5,0M387.2,14.0a2.25,2.25 0 1,0 4.5,0a2.25,2.25 0 1,0 -4.5,0M390.4,8.4a2.25,2.25 0 1,0 4.5,0a2.25,2.25 0 1,0 -4.5,0M391.0,11.5a2.25,2.25 0 1,0 4.5,0a2.25,2.25 0 1,0 -4.5,0M391.6,9.6a2.25,2.25 0 1,0 4.5,0a2.25,2.25 0 1,0 -4.5,0M390.4,20.2a2.25,2.25 0 1,0 4.5,0a2.25,2.25 0 1,0 -4.5,0M394.1,21.5a2.25,2.25 0 1,0 4.5,0a2.25,2.25 0 1,0 -4.5,0M394.1,26.5a2.25,2.25 0 1,0 4.5,0a2.25,2.25 0 1,0 -4.5,0M391.6,29.6a2.25,2.25 0 1,0 4.5,0a2.25,2.25 0 1,0 -4.5,0M398.5,33.4a2.25,2.25 0 1,0 4.5,0a2.25,2.25 0 1,0 -4.5,0M403.5,10.2a2.25,2.25 0 1,0 4.5,0a2.25,2.25 0 1,0 -4.5,0M460.4,6.5a2.25,2.25 0 1,0 4.5,0a2.25,2.25 0 1,0 -4.5,0M474.1,7.1a2.25,2.25 0 1,0 4.5,0a2.25,2.25 0 1,0 -4.5,0M451.0,14.6a2.25,2.25 0 1,0 4.5,0a2.25,2.25 0 1,0 -4.5,0M460.4,13.4a2.25,2.25 0 1,0 4.5,0a2.25,2.25 0 1,0 -4.5,0M466.0,18.4a2.25,2.25 0 1,0 4.5,0a2.25,2.25 0 1,0 -4.5,0M467.2,22.8a2.25,2.25 0 1,0 4.5,0a2.25,2.25 0 1,0 -4.5,0M466.6,23.8a2.25,2.25 0 1,0 4.5,0a2.25,2.25 0 1,0 -4.5,0M459.8,20.9a2.25,2.25 0 1,0 4.5,0a2.25,2.25 0 1,0 -4.5,0M448.5,24.0a2.25,2.25 0 1,0 4.5,0a2.25,2.25 0 1,0 -4.5,0M447.2,30.2a2.25,2.25 0 1,0 4.5,0a2.25,2.25 0 1,0 -4.5,0M481.6,20.9a2.25,2.25 0 1,0 4.5,0a2.25,2.25 0 1,0 -4.5,0M482.9,19.0a2.25,2.25 0 1,0 4.5,0a2.25,2.25 0 1,0 -4.5,0M485.4,28.4a2.25,2.25 0 1,0 4.5,0a2.25,2.25 0 1,0 -4.5,0M472.9,35.2a2.25,2.25 0 1,0 4.5,0a2.25,2.25 0 1,0 -4.5,0M481.0,34.0a2.25,2.25 0 1,0 4.5,0a2.25,2.25 0 1,0 -4.5,0M489.1,17.8a2.25,2.25 0 1,0 4.5,0a2.25,2.25 0 1,0 -4.5,0M511.0,5.9a2.25,2.25 0 1,0 4.5,0a2.25,2.25 0 1,0 -4.5,0M522.2,5.9a2.25,2.25 0 1,0 4.5,0a2.25,2.25 0 1,0 -4.5,0M500.4,9.6a2.25,2.25 0 1,0 4.5,0a2.25,2.25 0 1,0 -4.5,0M499.1,14.0a2.25,2.25 0 1,0 4.5,0a2.25,2.25 0 1,0 -4.5,0M502.2,15.9a2.25,2.25 0 1,0 4.5,0a2.25,2.25 0 1,0 -4.5,0M503.5,16.5a2.25,2.25 0 1,0 4.5,0a2.25,2.25 0 1,0 -4.5,0M501.0,18.0a2.25,2.25 0 1,0 4.5,0a2.25,2.25 0 1,0 -4.5,0M498.5,17.1a2.25,2.25 0 1,0 4.5,0a2.25,2.25 0 1,0 -4.5,0M506.0,19.0a2.25,2.25 0 1,0 4.5,0a2.25,2.25 0 1,0 -4.5,0M507.2,21.5a2.25,2.25 0 1,0 4.5,0a2.25,2.25 0 1,0 -4.5,0M507.9,23.0a2.25,2.25 0 1,0 4.5,0a2.25,2.25 0 1,0 -4.5,0M504.8,20.9a2.25,2.25 0 1,0 4.5,0a2.25,2.25 0 1,0 -4.5,0M514.8,22.8a2.25,2.25 0 1,0 4.5,0a2.25,2.25 0 1,0 -4.5,0M511.6,24.6a2.25,2.25 0 1,0 4.5,0a2.25,2.25 0 1,0 -4.5,0M498.5,23.4a2.25,2.25 0 1,0 4.5,0a2.25,2.25 0 1,0 -4.5,0M502.2,24.0a2.25,2.25 0 1,0 4.5,0a2.25,2.25 0 1,0 -4.5,0M502.9,27.8a2.25,2.25 0 1,0 4.5,0a2.25,2.25 0 1,0 -4.5,0M519.8,13.4a2.25,2.25 0 1,0 4.5,0a2.25,2.25 0 1,0 -4.5,0M520.4,18.4a2.25,2.25 0 1,0 4.5,0a2.25,2.25 0 1,0 -4.5,0M519.8,19.6a2.25,2.25 0 1,0 4.5,0a2.25,2.25 0 1,0 -4.5,0M537.2,15.2a2.25,2.25 0 1,0 4.5,0a2.25,2.25 0 1,0 -4.5,0M531.6,19.6a2.25,2.25 0 1,0 4.5,0a2.25,2.25 0 1,0 -4.5,0M542.2,10.2a2.25,2.25 0 1,0 4.5,0a2.25,2.25 0 1,0 -4.5,0M549.1,8.4a2.25,2.25 0 1,0 4.5,0a2.25,2.25 0 1,0 -4.5,0M546.6,18.4a2.25,2.25 0 1,0 4.5,0a2.25,2.25 0 1,0 -4.5,0M556.6,6.5a2.25,2.25 0 1,0 4.5,0a2.25,2.25 0 1,0 -4.5,0M557.9,9.0a2.25,2.25 0 1,0 4.5,0a2.25,2.25 0 1,0 -4.5,0M559.8,10.9a2.25,2.25 0 1,0 4.5,0a2.25,2.25 0 1,0 -4.5,0M563.5,11.5a2.25,2.25 0 1,0 4.5,0a2.25,2.25 0 1,0 -4.5,0M559.1,15.9a2.25,2.25 0 1,0 4.5,0a2.25,2.25 0 1,0 -4.5,0M561.0,16.5a2.25,2.25 0 1,0 4.5,0a2.25,2.25 0 1,0 -4.5,0M492.2,30.2a2.25,2.25 0 1,0 4.5,0a2.25,2.25 0 1,0 -4.5,0M491.6,34.0a2.25,2.25 0 1,0 4.5,0a2.25,2.25 0 1,0 -4.5,0M501.6,34.6a2.25,2.25 0 1,0 4.5,0a2.25,2.25 0 1,0 -4.5,0M497.2,37.1a2.25,2.25 0 1,0 4.5,0a2.25,2.25 0 1,0 -4.5,0M511.0,35.9a2.25,2.25 0 1,0 4.5,0a2.25,2.25 0 1,0 -4.5,0M514.1,37.1a2.25,2.25 0 1,0 4.5,0a2.25,2.25 0 1,0 -4.5,0M517.9,36.5a2.25,2.25 0 1,0 4.5,0a2.25,2.25 0 1,0 -4.5,0M520.4,30.9a2.25,2.25 0 1,0 4.5,0a2.25,2.25 0 1,0 -4.5,0M530.4,29.0a2.25,2.25 0 1,0 4.5,0a2.25,2.25 0 1,0 -4.5,0M532.9,27.1a2.25,2.25 0 1,0 4.5,0a2.25,2.25 0 1,0 -4.5,0M526.0,36.5a2.25,2.25 0 1,0 4.5,0a2.25,2.25 0 1,0 -4.5,0M536.0,29.6a2.25,2.25 0 1,0 4.5,0a2.25,2.25 0 1,0 -4.5,0M551.0,30.2a2.25,2.25 0 1,0 4.5,0a2.25,2.25 0 1,0 -4.5,0M553.5,33.4a2.25,2.25 0 1,0 4.5,0a2.25,2.25 0 1,0 -4.5,0M559.1,30.2a2.25,2.25 0 1,0 4.5,0a2.25,2.25 0 1,0 -4.5,0M563.5,29.0a2.25,2.25 0 1,0 4.5,0a2.25,2.25 0 1,0 -4.5,0M568.5,34.0a2.25,2.25 0 1,0 4.5,0a2.25,2.25 0 1,0 -4.5,0M324.8,44.0a2.25,2.25 0 1,0 4.5,0a2.25,2.25 0 1,0 -4.5,0M329.8,46.5a2.25,2.25 0 1,0 4.5,0a2.25,2.25 0 1,0 -4.5,0M337.2,42.8a2.25,2.25 0 1,0 4.5,0a2.25,2.25 0 1,0 -4.5,0M336.0,52.1a2.25,2.25 0 1,0 4.5,0a2.25,2.25 0 1,0 -4.5,0M337.9,55.9a2.25,2.25 0 1,0 4.5,0a2.25,2.25 0 1,0 -4.5,0M326.6,59.6a2.25,2.25 0 1,0 4.5,0a2.25,2.25 0 1,0 -4.5,0M328.5,58.8a2.25,2.25 0 1,0 4.5,0a2.25,2.25 0 1,0 -4.5,0M324.8,68.4a2.25,2.25 0 1,0 4.5,0a2.25,2.25 0 1,0 -4.5,0M336.0,67.1a2.25,2.25 0 1,0 4.5,0a2.25,2.25 0 1,0 -4.5,0M337.2,70.9a2.25,2.25 0 1,0 4.5,0a2.25,2.25 0 1,0 -4.5,0M338.5,72.5a2.25,2.25 0 1,0 4.5,0a2.25,2.25 0 1,0 -4.5,0M344.1,55.2a2.25,2.25 0 1,0 4.5,0a2.25,2.25 0 1,0 -4.5,0M346.0,57.8a2.25,2.25 0 1,0 4.5,0a2.25,2.25 0 1,0 -4.5,0M351.0,49.0a2.25,2.25 0 1,0 4.5,0a2.25,2.25 0 1,0 -4.5,0M351.0,54.6a2.25,2.25 0 1,0 4.5,0a2.25,2.25 0 1,0 -4.5,0M352.2,57.8a2.25,2.25 0 1,0 4.5,0a2.25,2.25 0 1,0 -4.5,0M350.4,60.9a2.25,2.25 0 1,0 4.5,0a2.25,2.25 0 1,0 -4.5,0M356.0,56.5a2.25,2.25 0 1,0 4.5,0a2.25,2.25 0 1,0 -4.5,0M357.2,60.9a2.25,2.25 0 1,0 4.5,0a2.25,2.25 0 1,0 -4.5,0M356.6,64.6a2.25,2.25 0 1,0 4.5,0a2.25,2.25 0 1,0 -4.5,0M350.4,72.8a2.25,2.25 0 1,0 4.5,0a2.25,2.25 0 1,0 -4.5,0M354.8,72.8a2.25,2.25 0 1,0 4.5,0a2.25,2.25 0 1,0 -4.5,0M360.4,50.2a2.25,2.25 0 1,0 4.5,0a2.25,2.25 0 1,0 -4.5,0M361.9,50.2a2.25,2.25 0 1,0 4.5,0a2.25,2.25 0 1,0 -4.5,0M362.9,57.8a2.25,2.25 0 1,0 4.5,0a2.25,2.25 0 1,0 -4.5,0M361.0,65.9a2.25,2.25 0 1,0 4.5,0a2.25,2.25 0 1,0 -4.5,0M369.8,41.5a2.25,2.25 0 1,0 4.5,0a2.25,2.25 0 1,0 -4.5,0M373.5,49.0a2.25,2.25 0 1,0 4.5,0a2.25,2.25 0 1,0 -4.5,0M372.9,51.5a2.25,2.25 0 1,0 4.5,0a2.25,2.25 0 1,0 -4.5,0M374.1,57.1a2.25,2.25 0 1,0 4.5,0a2.25,2.25 0 1,0 -4.5,0M376.6,61.5a2.25,2.25 0 1,0 4.5,0a2.25,2.25 0 1,0 -4.5,0M369.1,64.6a2.25,2.25 0 1,0 4.5,0a2.25,2.25 0 1,0 -4.5,0M371.0,64.0a2.25,2.25 0 1,0 4.5,0a2.25,2.25 0 1,0 -4.5,0M373.5,64.0a2.25,2.25 0 1,0 4.5,0a2.25,2.25 0 1,0 -4.5,0M381.0,62.1a2.25,2.25 0 1,0 4.5,0a2.25,2.25 0 1,0 -4.5,0M389.1,44.0a2.25,2.25 0 1,0 4.5,0a2.25,2.25 0 1,0 -4.5,0M390.4,50.2a2.25,2.25 0 1,0 4.5,0a2.25,2.25 0 1,0 -4.5,0M391.0,53.4a2.25,2.25 0 1,0 4.5,0a2.25,2.25 0 1,0 -4.5,0M396.0,44.0a2.25,2.25 0 1,0 4.5,0a2.25,2.25 0 1,0 -4.5,0M397.2,45.9a2.25,2.25 0 1,0 4.5,0a2.25,2.25 0 1,0 -4.5,0M396.0,50.9a2.25,2.25 0 1,0 4.5,0a2.25,2.25 0 1,0 -4.5,0M397.2,49.6a2.25,2.25 0 1,0 4.5,0a2.25,2.25 0 1,0 -4.5,0M397.2,65.9a2.25,2.25 0 1,0 4.5,0a2.25,2.25 0 1,0 -4.5,0M397.9,69.0a2.25,2.25 0 1,0 4.5,0a2.25,2.25 0 1,0 -4.5,0M396.6,72.1a2.25,2.25 0 1,0 4.5,0a2.25,2.25 0 1,0 -4.5,0M402.2,40.2a2.25,2.25 0 1,0 4.5,0a2.25,2.25 0 1,0 -4.5,0M455.4,47.1a2.25,2.25 0 1,0 4.5,0a2.25,2.25 0 1,0 -4.5,0M464.1,41.5a2.25,2.25 0 1,0 4.5,0a2.25,2.25 0 1,0 -4.5,0M458.5,41.2a2.25,2.25 0 1,0 4.5,0a2.25,2.25 0 1,0 -4.5,0M454.1,54.6a2.25,2.25 0 1,0 4.5,0a2.25,2.25 0 1,0 -4.5,0M458.5,54.6a2.25,2.25 0 1,0 4.5,0a2.25,2.25 0 1,0 -4.5,0M452.9,58.4a2.25,2.25 0 1,0 4.5,0a2.25,2.25 0 1,0 -4.5,0M457.2,57.8a2.25,2.25 0 1,0 4.5,0a2.25,2.25 0 1,0 -4.5,0M459.8,61.5a2.25,2.25 0 1,0 4.5,0a2.25,2.25 0 1,0 -4.5,0M456.0,62.1a2.25,2.25 0 1,0 4.5,0a2.25,2.25 0 1,0 -4.5,0M450.4,61.5a2.25,2.25 0 1,0 4.5,0a2.25,2.25 0 1,0 -4.5,0M454.1,64.6a2.25,2.25 0 1,0 4.5,0a2.25,2.25 0 1,0 -4.5,0M456.0,68.4a2.25,2.25 0 1,0 4.5,0a2.25,2.25 0 1,0 -4.5,0M459.1,67.1a2.25,2.25 0 1,0 4.5,0a2.25,2.25 0 1,0 -4.5,0M461.6,62.1a2.25,2.25 0 1,0 4.5,0a2.25,2.25 0 1,0 -4.5,0M466.6,49.6a2.25,2.25 0 1,0 4.5,0a2.25,2.25 0 1,0 -4.5,0M467.2,51.5a2.25,2.25 0 1,0 4.5,0a2.25,2.25 0 1,0 -4.5,0M470.4,58.4a2.25,2.25 0 1,0 4.5,0a2.25,2.25 0 1,0 -4.5,0M468.5,62.1a2.25,2.25 0 1,0 4.5,0a2.25,2.25 0 1,0 -4.5,0M473.5,62.8a2.25,2.25 0 1,0 4.5,0a2.25,2.25 0 1,0 -4.5,0M477.2,40.9a2.25,2.25 0 1,0 4.5,0a2.25,2.25 0 1,0 -4.5,0M481.0,42.1a2.25,2.25 0 1,0 4.5,0a2.25,2.25 0 1,0 -4.5,0M482.9,42.8a2.25,2.25 0 1,0 4.5,0a2.25,2.25 0 1,0 -4.5,0M480.4,47.1a2.25,2.25 0 1,0 4.5,0a2.25,2.25 0 1,0 -4.5,0M486.0,46.5a2.25,2.25 0 1,0 4.5,0a2.25,2.25 0 1,0 -4.5,0M487.2,49.0a2.25,2.25 0 1,0 4.5,0a2.25,2.25 0 1,0 -4.5,0M481.0,53.4a2.25,2.25 0 1,0 4.5,0a2.25,2.25 0 1,0 -4.5,0M480.4,65.9a2.25,2.25 0 1,0 4.5,0a2.25,2.25 0 1,0 -4.5,0M483.5,67.1a2.25,2.25 0 1,0 4.5,0a2.25,2.25 0 1,0 -4.5,0M486.6,69.6a2.25,2.25 0 1,0 4.5,0a2.25,2.25 0 1,0 -4.5,0M488.5,70.2a2.25,2.25 0 1,0 4.5,0a2.25,2.25 0 1,0 -4.5,0M449.1,70.2a2.25,2.25 0 1,0 4.5,0a2.25,2.25 0 1,0 -4.5,0M452.9,72.1a2.25,2.25 0 1,0 4.5,0a2.25,2.25 0 1,0 -4.5,0M474.1,70.2a2.25,2.25 0 1,0 4.5,0a2.25,2.25 0 1,0 -4.5,0M476.6,72.1a2.25,2.25 0 1,0 4.5,0a2.25,2.25 0 1,0 -4.5,0M492.2,40.9a2.25,2.25 0 1,0 4.5,0a2.25,2.25 0 1,0 -4.5,0M499.8,42.1a2.25,2.25 0 1,0 4.5,0a2.25,2.25 0 1,0 -4.5,0M505.4,42.1a2.25,2.25 0 1,0 4.5,0a2.25,2.25 0 1,0 -4.5,0M513.5,40.2a2.25,2.25 0 1,0 4.5,0a2.25,2.25 0 1,0 -4.5,0M525.4,40.2a2.25,2.25 0 1,0 4.5,0a2.25,2.25 0 1,0 -4.5,0M541.0,40.9a2.25,2.25 0 1,0 4.5,0a2.25,2.25 0 1,0 -4.5,0M556.0,40.9a2.25,2.25 0 1,0 4.5,0a2.25,2.25 0 1,0 -4.5,0M491.6,48.4a2.25,2.25 0 1,0 4.5,0a2.25,2.25 0 1,0 -4.5,0M494.8,50.2a2.25,2.25 0 1,0 4.5,0a2.25,2.25 0 1,0 -4.5,0M492.2,53.4a2.25,2.25 0 1,0 4.5,0a2.25,2.25 0 1,0 -4.5,0M502.9,51.5a2.25,2.25 0 1,0 4.5,0a2.25,2.25 0 1,0 -4.5,0M505.4,55.2a2.25,2.25 0 1,0 4.5,0a2.25,2.25 0 1,0 -4.5,0M508.5,59.6a2.25,2.25 0 1,0 4.5,0a2.25,2.25 0 1,0 -4.5,0M498.5,60.9a2.25,2.25 0 1,0 4.5,0a2.25,2.25 0 1,0 -4.5,0M512.9,44.6a2.25,2.25 0 1,0 4.5,0a2.25,2.25 0 1,0 -4.5,0M515.4,44.6a2.25,2.25 0 1,0 4.5,0a2.25,2.25 0 1,0 -4.5,0M520.4,44.6a2.25,2.25 0 1,0 4.5,0a2.25,2.25 0 1,0 -4.5,0M521.0,51.5a2.25,2.25 0 1,0 4.5,0a2.25,2.25 0 1,0 -4.5,0M524.1,48.4a2.25,2.25 0 1,0 4.5,0a2.25,2.25 0 1,0 -4.5,0M527.2,49.0a2.25,2.25 0 1,0 4.5,0a2.25,2.25 0 1,0 -4.5,0M525.4,55.2a2.25,2.25 0 1,0 4.5,0a2.25,2.25 0 1,0 -4.5,0M516.6,57.1a2.25,2.25 0 1,0 4.5,0a2.25,2.25 0 1,0 -4.5,0M516.6,60.9a2.25,2.25 0 1,0 4.5,0a2.25,2.25 0 1,0 -4.5,0M527.2,61.5a2.25,2.25 0 1,0 4.5,0a2.25,2.25 0 1,0 -4.5,0M527.2,64.0a2.25,2.25 0 1,0 4.5,0a2.25,2.25 0 1,0 -4.5,0M536.6,58.4a2.25,2.25 0 1,0 4.5,0a2.25,2.25 0 1,0 -4.5,0M537.2,60.9a2.25,2.25 0 1,0 4.5,0a2.25,2.25 0 1,0 -4.5,0M539.8,61.5a2.25,2.25 0 1,0 4.5,0a2.25,2.25 0 1,0 -4.5,0M542.2,60.9a2.25,2.25 0 1,0 4.5,0a2.25,2.25 0 1,0 -4.5,0M536.0,64.0a2.25,2.25 0 1,0 4.5,0a2.25,2.25 0 1,0 -4.5,0M539.8,64.0a2.25,2.25 0 1,0 4.5,0a2.25,2.25 0 1,0 -4.5,0M554.1,47.8a2.25,2.25 0 1,0 4.5,0a2.25,2.25 0 1,0 -4.5,0M551.6,53.4a2.25,2.25 0 1,0 4.5,0a2.25,2.25 0 1,0 -4.5,0M550.4,57.8a2.25,2.25 0 1,0 4.5,0a2.25,2.25 0 1,0 -4.5,0M559.1,50.2a2.25,2.25 0 1,0 4.5,0a2.25,2.25 0 1,0 -4.5,0M564.8,54.6a2.25,2.25 0 1,0 4.5,0a2.25,2.25 0 1,0 -4.5,0M563.5,60.9a2.25,2.25 0 1,0 4.5,0a2.25,2.25 0 1,0 -4.5,0M567.9,61.5a2.25,2.25 0 1,0 4.5,0a2.25,2.25 0 1,0 -4.5,0M554.8,67.8a2.25,2.25 0 1,0 4.5,0a2.25,2.25 0 1,0 -4.5,0M557.9,69.0a2.25,2.25 0 1,0 4.5,0a2.25,2.25 0 1,0 -4.5,0M514.8,67.1a2.25,2.25 0 1,0 4.5,0a2.25,2.25 0 1,0 -4.5,0M518.5,67.8a2.25,2.25 0 1,0 4.5,0a2.25,2.25 0 1,0 -4.5,0M526.0,70.2a2.25,2.25 0 1,0 4.5,0a2.25,2.25 0 1,0 -4.5,0M529.8,70.2a2.25,2.25 0 1,0 4.5,0a2.25,2.25 0 1,0 -4.5,0M533.5,70.2a2.25,2.25 0 1,0 4.5,0a2.25,2.25 0 1,0 -4.5,0M491.0,69.6a2.25,2.25 0 1,0 4.5,0a2.25,2.25 0 1,0 -4.5,0M493.5,70.2a2.25,2.25 0 1,0 4.5,0a2.25,2.25 0 1,0 -4.5,0M497.2,69.6a2.25,2.25 0 1,0 4.5,0a2.25,2.25 0 1,0 -4.5,0M500.4,70.2a2.25,2.25 0 1,0 4.5,0a2.25,2.25 0 1,0 -4.5,0M503.5,71.5a2.25,2.25 0 1,0 4.5,0a2.25,2.25 0 1,0 -4.5,0M324.8,76.5a2.25,2.25 0 1,0 4.5,0a2.25,2.25 0 1,0 -4.5,0M323.5,78.4a2.25,2.25 0 1,0 4.5,0a2.25,2.25 0 1,0 -4.5,0M334.1,79.6a2.25,2.25 0 1,0 4.5,0a2.25,2.25 0 1,0 -4.5,0M329.1,85.2a2.25,2.25 0 1,0 4.5,0a2.25,2.25 0 1,0 -4.5,0M327.2,95.9a2.25,2.25 0 1,0 4.5,0a2.25,2.25 0 1,0 -4.5,0M332.9,99.0a2.25,2.25 0 1,0 4.5,0a2.25,2.25 0 1,0 -4.5,0M332.9,100.9a2.25,2.25 0 1,0 4.5,0a2.25,2.25 0 1,0 -4.5,0M332.9,102.8a2.25,2.25 0 1,0 4.5,0a2.25,2.25 0 1,0 -4.5,0M339.8,102.1a2.25,2.25 0 1,0 4.5,0a2.25,2.25 0 1,0 -4.5,0M339.8,104.0a2.25,2.25 0 1,0 4.5,0a2.25,2.25 0 1,0 -4.5,0M338.5,79.6a2.25,2.25 0 1,0 4.5,0a2.25,2.25 0 1,0 -4.5,0M340.4,82.1a2.25,2.25 0 1,0 4.5,0a2.25,2.25 0 1,0 -4.5,0M346.0,82.1a2.25,2.25 0 1,0 4.5,0a2.25,2.25 0 1,0 -4.5,0M349.1,80.9a2.25,2.25 0 1,0 4.5,0a2.25,2.25 0 1,0 -4.5,0M344.8,90.9a2.25,2.25 0 1,0 4.5,0a2.25,2.25 0 1,0 -4.5,0M344.1,92.4a2.25,2.25 0 1,0 4.5,0a2.25,2.25 0 1,0 -4.5,0M346.6,94.0a2.25,2.25 0 1,0 4.5,0a2.25,2.25 0 1,0 -4.5,0M347.9,97.8a2.25,2.25 0 1,0 4.5,0a2.25,2.25 0 1,0 -4.5,0M357.2,91.5a2.25,2.25 0 1,0 4.5,0a2.25,2.25 0 1,0 -4.5,0M362.9,80.9a2.25,2.25 0 1,0 4.5,0a2.25,2.25 0 1,0 -4.5,0M367.9,83.4a2.25,2.25 0 1,0 4.5,0a2.25,2.25 0 1,0 -4.5,0M371.0,80.9a2.25,2.25 0 1,0 4.5,0a2.25,2.25 0 1,0 -4.5,0M368.5,89.0a2.25,2.25 0 1,0 4.5,0a2.25,2.25 0 1,0 -4.5,0M369.1,91.5a2.25,2.25 0 1,0 4.5,0a2.25,2.25 0 1,0 -4.5,0M358.5,108.4a2.25,2.25 0 1,0 4.5,0a2.25,2.25 0 1,0 -4.5,0M376.6,85.9a2.25,2.25 0 1,0 4.5,0a2.25,2.25 0 1,0 -4.5,0M379.8,82.1a2.25,2.25 0 1,0 4.5,0a2.25,2.25 0 1,0 -4.5,0M381.6,83.4a2.25,2.25 0 1,0 4.5,0a2.25,2.25 0 1,0 -4.5,0M384.8,79.6a2.25,2.25 0 1,0 4.5,0a2.25,2.25 0 1,0 -4.5,0M377.9,92.8a2.25,2.25 0 1,0 4.5,0a2.25,2.25 0 1,0 -4.5,0M389.1,84.6a2.25,2.25 0 1,0 4.5,0a2.25,2.25 0 1,0 -4.5,0M390.4,85.9a2.25,2.25 0 1,0 4.5,0a2.25,2.25 0 1,0 -4.5,0M395.4,83.4a2.25,2.25 0 1,0 4.5,0a2.25,2.25 0 1,0 -4.5,0M386.6,96.5a2.25,2.25 0 1,0 4.5,0a2.25,2.25 0 1,0 -4.5,0M386.6,99.0a2.25,2.25 0 1,0 4.5,0a2.25,2.25 0 1,0 -4.5,0M382.2,100.9a2.25,2.25 0 1,0 4.5,0a2.25,2.25 0 1,0 -4.5,0M385.4,102.1a2.25,2.25 0 1,0 4.5,0a2.25,2.25 0 1,0 -4.5,0M389.1,103.4a2.25,2.25 0 1,0 4.5,0a2.25,2.25 0 1,0 -4.5,0M384.8,106.1a2.25,2.25 0 1,0 4.5,0a2.25,2.25 0 1,0 -4.5,0M394.1,97.8a2.25,2.25 0 1,0 4.5,0a2.25,2.25 0 1,0 -4.5,0M399.1,87.1a2.25,2.25 0 1,0 4.5,0a2.25,2.25 0 1,0 -4.5,0M401.6,88.0a2.25,2.25 0 1,0 4.5,0a2.25,2.25 0 1,0 -4.5,0M400.4,94.0a2.25,2.25 0 1,0 4.5,0a2.25,2.25 0 1,0 -4.5,0M402.9,92.1a2.25,2.25 0 1,0 4.5,0a2.25,2.25 0 1,0 -4.5,0M399.1,104.0a2.25,2.25 0 1,0 4.5,0a2.25,2.25 0 1,0 -4.5,0M401.0,75.9a2.25,2.25 0 1,0 4.5,0a2.25,2.25 0 1,0 -4.5,0M402.9,80.9a2.25,2.25 0 1,0 4.5,0a2.25,2.25 0 1,0 -4.5,0M466.6,79.0a2.25,2.25 0 1,0 4.5,0a2.25,2.25 0 1,0 -4.5,0M467.5,79.8a2.25,2.25 0 1,0 4.5,0a2.25,2.25 0 1,0 -4.5,0M476.6,76.5a2.25,2.25 0 1,0 4.5,0a2.25,2.25 0 1,0 -4.5,0M478.5,78.4a2.25,2.25 0 1,0 4.5,0a2.25,2.25 0 1,0 -4.5,0M480.4,75.9a2.25,2.25 0 1,0 4.5,0a2.25,2.25 0 1,0 -4.5,0M479.8,80.9a2.25,2.25 0 1,0 4.5,0a2.25,2.25 0 1,0 -4.5,0M482.9,81.5a2.25,2.25 0 1,0 4.5,0a2.25,2.25 0 1,0 -4.5,0M485.4,82.8a2.25,2.25 0 1,0 4.5,0a2.25,2.25 0 1,0 -4.5,0M481.0,85.2a2.25,2.25 0 1,0 4.5,0a2.25,2.25 0 1,0 -4.5,0M484.1,84.6a2.25,2.25 0 1,0 4.5,0a2.25,2.25 0 1,0 -4.5,0M488.5,76.5a2.25,2.25 0 1,0 4.5,0a2.25,2.25 0 1,0 -4.5,0M487.9,82.8a2.25,2.25 0 1,0 4.5,0a2.25,2.25 0 1,0 -4.5,0M458.5,85.0a2.25,2.25 0 1,0 4.5,0a2.25,2.25 0 1,0 -4.5,0M452.9,90.2a2.25,2.25 0 1,0 4.5,0a2.25,2.25 0 1,0 -4.5,0M447.2,91.5a2.25,2.25 0 1,0 4.5,0a2.25,2.25 0 1,0 -4.5,0M462.2,89.6a2.25,2.25 0 1,0 4.5,0a2.25,2.25 0 1,0 -4.5,0M467.9,89.6a2.25,2.25 0 1,0 4.5,0a2.25,2.25 0 1,0 -4.5,0M456.0,93.4a2.25,2.25 0 1,0 4.5,0a2.25,2.25 0 1,0 -4.5,0M461.0,96.5a2.25,2.25 0 1,0 4.5,0a2.25,2.25 0 1,0 -4.5,0M457.9,100.9a2.25,2.25 0 1,0 4.5,0a2.25,2.25 0 1,0 -4.5,0M462.9,102.1a2.25,2.25 0 1,0 4.5,0a2.25,2.25 0 1,0 -4.5,0M465.4,102.8a2.25,2.25 0 1,0 4.5,0a2.25,2.25 0 1,0 -4.5,0M471.0,92.8a2.25,2.25 0 1,0 4.5,0a2.25,2.25 0 1,0 -4.5,0M472.9,95.2a2.25,2.25 0 1,0 4.5,0a2.25,2.25 0 1,0 -4.5,0M469.8,96.5a2.25,2.25 0 1,0 4.5,0a2.25,2.25 0 1,0 -4.5,0M471.6,101.5a2.25,2.25 0 1,0 4.5,0a2.25,2.25 0 1,0 -4.5,0M476.0,102.1a2.25,2.25 0 1,0 4.5,0a2.25,2.25 0 1,0 -4.5,0M474.1,105.5a2.25,2.25 0 1,0 4.5,0a2.25,2.25 0 1,0 -4.5,0M459.8,107.8a2.25,2.25 0 1,0 4.5,0a2.25,2.25 0 1,0 -4.5,0M463.5,107.1a2.25,2.25 0 1,0 4.5,0a2.25,2.25 0 1,0 -4.5,0M469.8,108.4a2.25,2.25 0 1,0 4.5,0a2.25,2.25 0 1,0 -4.5,0M488.5,97.8a2.25,2.25 0 1,0 4.5,0a2.25,2.25 0 1,0 -4.5,0M501.0,74.6a2.25,2.25 0 1,0 4.5,0a2.25,2.25 0 1,0 -4.5,0M505.4,75.9a2.25,2.25 0 1,0 4.5,0a2.25,2.25 0 1,0 -4.5,0M503.5,76.8a2.25,2.25 0 1,0 4.5,0a2.25,2.25 0 1,0 -4.5,0M502.2,83.4a2.25,2.25 0 1,0 4.5,0a2.25,2.25 0 1,0 -4.5,0M501.6,85.2a2.25,2.25 0 1,0 4.5,0a2.25,2.25 0 1,0 -4.5,0M516.6,80.2a2.25,2.25 0 1,0 4.5,0a2.25,2.25 0 1,0 -4.5,0M515.4,83.4a2.25,2.25 0 1,0 4.5,0a2.25,2.25 0 1,0 -4.5,0M516.6,85.9a2.25,2.25 0 1,0 4.5,0a2.25,2.25 0 1,0 -4.5,0M517.2,88.4a2.25,2.25 0 1,0 4.5,0a2.25,2.25 0 1,0 -4.5,0M514.8,87.8a2.25,2.25 0 1,0 4.5,0a2.25,2.25 0 1,0 -4.5,0M523.5,80.9a2.25,2.25 0 1,0 4.5,0a2.25,2.25 0 1,0 -4.5,0M526.0,82.1a2.25,2.25 0 1,0 4.5,0a2.25,2.25 0 1,0 -4.5,0M527.2,83.4a2.25,2.25 0 1,0 4.5,0a2.25,2.25 0 1,0 -4.5,0M526.6,80.2a2.25,2.25 0 1,0 4.5,0a2.25,2.25 0 1,0 -4.5,0M531.0,75.9a2.25,2.25 0 1,0 4.5,0a2.25,2.25 0 1,0 -4.5,0M537.2,79.0a2.25,2.25 0 1,0 4.5,0a2.25,2.25 0 1,0 -4.5,0M541.0,79.0a2.25,2.25 0 1,0 4.5,0a2.25,2.25 0 1,0 -4.5,0M542.9,83.4a2.25,2.25 0 1,0 4.5,0a2.25,2.25 0 1,0 -4.5,0M541.6,75.9a2.25,2.25 0 1,0 4.5,0a2.25,2.25 0 1,0 -4.5,0M554.1,79.0a2.25,2.25 0 1,0 4.5,0a2.25,2.25 0 1,0 -4.5,0M561.6,87.1a2.25,2.25 0 1,0 4.5,0a2.25,2.25 0 1,0 -4.5,0M564.8,87.1a2.25,2.25 0 1,0 4.5,0a2.25,2.25 0 1,0 -4.5,0M565.4,91.5a2.25,2.25 0 1,0 4.5,0a2.25,2.25 0 1,0 -4.5,0M535.4,87.1a2.25,2.25 0 1,0 4.5,0a2.25,2.25 0 1,0 -4.5,0M536.0,91.5a2.25,2.25 0 1,0 4.5,0a2.25,2.25 0 1,0 -4.5,0M533.5,94.6a2.25,2.25 0 1,0 4.5,0a2.25,2.25 0 1,0 -4.5,0M522.2,93.4a2.25,2.25 0 1,0 4.5,0a2.25,2.25 0 1,0 -4.5,0M519.8,95.2a2.25,2.25 0 1,0 4.5,0a2.25,2.25 0 1,0 -4.5,0M524.8,91.5a2.25,2.25 0 1,0 4.5,0a2.25,2.25 0 1,0 -4.5,0M507.2,97.8a2.25,2.25 0 1,0 4.5,0a2.25,2.25 0 1,0 -4.5,0M499.1,92.8a2.25,2.25 0 1,0 4.5,0a2.25,2.25 0 1,0 -4.5,0M499.8,97.8a2.25,2.25 0 1,0 4.5,0a2.25,2.25 0 1,0 -4.5,0M496.6,100.2a2.25,2.25 0 1,0 4.5,0a2.25,2.25 0 1,0 -4.5,0M498.5,102.1a2.25,2.25 0 1,0 4.5,0a2.25,2.25 0 1,0 -4.5,0M499.8,103.4a2.25,2.25 0 1,0 4.5,0a2.25,2.25 0 1,0 -4.5,0M494.8,101.5a2.25,2.25 0 1,0 4.5,0a2.25,2.25 0 1,0 -4.5,0M490.4,95.9a2.25,2.25 0 1,0 4.5,0a2.25,2.25 0 1,0 -4.5,0M546.6,92.1a2.25,2.25 0 1,0 4.5,0a2.25,2.25 0 1,0 -4.5,0M551.6,92.1a2.25,2.25 0 1,0 4.5,0a2.25,2.25 0 1,0 -4.5,0M553.5,90.9a2.25,2.25 0 1,0 4.5,0a2.25,2.25 0 1,0 -4.5,0M550.4,94.0a2.25,2.25 0 1,0 4.5,0a2.25,2.25 0 1,0 -4.5,0M555.4,99.0a2.25,2.25 0 1,0 4.5,0a2.25,2.25 0 1,0 -4.5,0M558.5,104.0a2.25,2.25 0 1,0 4.5,0a2.25,2.25 0 1,0 -4.5,0M559.1,107.1a2.25,2.25 0 1,0 4.5,0a2.25,2.25 0 1,0 -4.5,0M569.8,102.1a2.25,2.25 0 1,0 4.5,0a2.25,2.25 0 1,0 -4.5,0M526.0,107.1a2.25,2.25 0 1,0 4.5,0a2.25,2.25 0 1,0 -4.5,0M544.8,100.2a2.25,2.25 0 1,0 4.5,0a2.25,2.25 0 1,0 -4.5,0M543.5,100.9a2.25,2.25 0 1,0 4.5,0a2.25,2.25 0 1,0 -4.5,0M539.1,105.9a2.25,2.25 0 1,0 4.5,0a2.25,2.25 0 1,0 -4.5,0M505.4,108.4a2.25,2.25 0 1,0 4.5,0a2.25,2.25 0 1,0 -4.5,0M334.1,112.8a2.25,2.25 0 1,0 4.5,0a2.25,2.25 0 1,0 -4.5,0M342.9,110.9a2.25,2.25 0 1,0 4.5,0a2.25,2.25 0 1,0 -4.5,0M354.8,111.5a2.25,2.25 0 1,0 4.5,0a2.25,2.25 0 1,0 -4.5,0M357.9,110.9a2.25,2.25 0 1,0 4.5,0a2.25,2.25 0 1,0 -4.5,0M323.5,121.5a2.25,2.25 0 1,0 4.5,0a2.25,2.25 0 1,0 -4.5,0M347.9,121.5a2.25,2.25 0 1,0 4.5,0a2.25,2.25 0 1,0 -4.5,0M357.2,119.0a2.25,2.25 0 1,0 4.5,0a2.25,2.25 0 1,0 -4.5,0M360.4,116.5a2.25,2.25 0 1,0 4.5,0a2.25,2.25 0 1,0 -4.5,0M362.9,128.4a2.25,2.25 0 1,0 4.5,0a2.25,2.25 0 1,0 -4.5,0M364.1,134.0a2.25,2.25 0 1,0 4.5,0a2.25,2.25 0 1,0 -4.5,0M357.2,125.2a2.25,2.25 0 1,0 4.5,0a2.25,2.25 0 1,0 -4.5,0M339.8,122.1a2.25,2.25 0 1,0 4.5,0a2.25,2.25 0 1,0 -4.5,0M335.4,123.4a2.25,2.25 0 1,0 4.5,0a2.25,2.25 0 1,0 -4.5,0M330.4,127.1a2.25,2.25 0 1,0 4.5,0a2.25,2.25 0 1,0 -4.5,0M332.2,127.8a2.25,2.25 0 1,0 4.5,0a2.25,2.25 0 1,0 -4.5,0M334.8,129.0a2.25,2.25 0 1,0 4.5,0a2.25,2.25 0 1,0 -4.5,0M327.9,130.9a2.25,2.25 0 1,0 4.5,0a2.25,2.25 0 1,0 -4.5,0M336.6,130.9a2.25,2.25 0 1,0 4.5,0a2.25,2.25 0 1,0 -4.5,0M349.1,128.4a2.25,2.25 0 1,0 4.5,0a2.25,2.25 0 1,0 -4.5,0M347.2,130.2a2.25,2.25 0 1,0 4.5,0a2.25,2.25 0 1,0 -4.5,0M350.4,129.6a2.25,2.25 0 1,0 4.5,0a2.25,2.25 0 1,0 -4.5,0M353.5,126.5a2.25,2.25 0 1,0 4.5,0a2.25,2.25 0 1,0 -4.5,0M325.4,138.4a2.25,2.25 0 1,0 4.5,0a2.25,2.25 0 1,0 -4.5,0M329.1,137.8a2.25,2.25 0 1,0 4.5,0a2.25,2.25 0 1,0 -4.5,0M337.2,137.1a2.25,2.25 0 1,0 4.5,0a2.25,2.25 0 1,0 -4.5,0M354.1,141.1a2.25,2.25 0 1,0 4.5,0a2.25,2.25 0 1,0 -4.5,0M365.4,139.6a2.25,2.25 0 1,0 4.5,0a2.25,2.25 0 1,0 -4.5,0M370.4,141.8a2.25,2.25 0 1,0 4.5,0a2.25,2.25 0 1,0 -4.5,0M366.6,110.2a2.25,2.25 0 1,0 4.5,0a2.25,2.25 0 1,0 -4.5,0M371.0,112.1a2.25,2.25 0 1,0 4.5,0a2.25,2.25 0 1,0 -4.5,0M369.1,117.1a2.25,2.25 0 1,0 4.5,0a2.25,2.25 0 1,0 -4.5,0M374.8,114.6a2.25,2.25 0 1,0 4.5,0a2.25,2.25 0 1,0 -4.5,0M371.0,122.1a2.25,2.25 0 1,0 4.5,0a2.25,2.25 0 1,0 -4.5,0M375.4,121.5a2.25,2.25 0 1,0 4.5,0a2.25,2.25 0 1,0 -4.5,0M379.8,129.0a2.25,2.25 0 1,0 4.5,0a2.25,2.25 0 1,0 -4.5,0M381.0,130.2a2.25,2.25 0 1,0 4.5,0a2.25,2.25 0 1,0 -4.5,0M374.8,133.4a2.25,2.25 0 1,0 4.5,0a2.25,2.25 0 1,0 -4.5,0M379.1,137.1a2.25,2.25 0 1,0 4.5,0a2.25,2.25 0 1,0 -4.5,0M378.5,112.8a2.25,2.25 0 1,0 4.5,0a2.25,2.25 0 1,0 -4.5,0M383.5,114.0a2.25,2.25 0 1,0 4.5,0a2.25,2.25 0 1,0 -4.5,0M387.9,118.4a2.25,2.25 0 1,0 4.5,0a2.25,2.25 0 1,0 -4.5,0M389.1,119.6a2.25,2.25 0 1,0 4.5,0a2.25,2.25 0 1,0 -4.5,0M391.6,117.8a2.25,2.25 0 1,0 4.5,0a2.25,2.25 0 1,0 -4.5,0M391.0,125.2a2.25,2.25 0 1,0 4.5,0a2.25,2.25 0 1,0 -4.5,0M392.2,111.5a2.25,2.25 0 1,0 4.5,0a2.25,2.25 0 1,0 -4.5,0M395.4,110.9a2.25,2.25 0 1,0 4.5,0a2.25,2.25 0 1,0 -4.5,0M399.8,115.9a2.25,2.25 0 1,0 4.5,0a2.25,2.25 0 1,0 -4.5,0M401.0,116.5a2.25,2.25 0 1,0 4.5,0a2.25,2.25 0 1,0 -4.5,0M400.4,120.2a2.25,2.25 0 1,0 4.5,0a2.25,2.25 0 1,0 -4.5,0M402.2,133.4a2.25,2.25 0 1,0 4.5,0a2.25,2.25 0 1,0 -4.5,0M394.8,141.5a2.25,2.25 0 1,0 4.5,0a2.25,2.25 0 1,0 -4.5,0M391.0,142.8a2.25,2.25 0 1,0 4.5,0a2.25,2.25 0 1,0 -4.5,0M455.4,112.1a2.25,2.25 0 1,0 4.5,0a2.25,2.25 0 1,0 -4.5,0M452.2,115.2a2.25,2.25 0 1,0 4.5,0a2.25,2.25 0 1,0 -4.5,0M451.6,119.6a2.25,2.25 0 1,0 4.5,0a2.25,2.25 0 1,0 -4.5,0M454.1,120.9a2.25,2.25 0 1,0 4.5,0a2.25,2.25 0 1,0 -4.5,0M455.4,124.6a2.25,2.25 0 1,0 4.5,0a2.25,2.25 0 1,0 -4.5,0M459.8,120.2a2.25,2.25 0 1,0 4.5,0a2.25,2.25 0 1,0 -4.5,0M464.8,110.9a2.25,2.25 0 1,0 4.5,0a2.25,2.25 0 1,0 -4.5,0M467.2,110.9a2.25,2.25 0 1,0 4.5,0a2.25,2.25 0 1,0 -4.5,0M472.9,113.4a2.25,2.25 0 1,0 4.5,0a2.25,2.25 0 1,0 -4.5,0M478.5,110.2a2.25,2.25 0 1,0 4.5,0a2.25,2.25 0 1,0 -4.5,0M482.2,110.2a2.25,2.25 0 1,0 4.5,0a2.25,2.25 0 1,0 -4.5,0M474.8,117.8a2.25,2.25 0 1,0 4.5,0a2.25,2.25 0 1,0 -4.5,0M477.9,120.2a2.25,2.25 0 1,0 4.5,0a2.25,2.25 0 1,0 -4.5,0M479.8,118.4a2.25,2.25 0 1,0 4.5,0a2.25,2.25 0 1,0 -4.5,0M471.0,124.0a2.25,2.25 0 1,0 4.5,0a2.25,2.25 0 1,0 -4.5,0M475.4,127.1a2.25,2.25 0 1,0 4.5,0a2.25,2.25 0 1,0 -4.5,0M467.9,128.4a2.25,2.25 0 1,0 4.5,0a2.25,2.25 0 1,0 -4.5,0M481.0,128.4a2.25,2.25 0 1,0 4.5,0a2.25,2.25 0 1,0 -4.5,0M484.1,129.6a2.25,2.25 0 1,0 4.5,0a2.25,2.25 0 1,0 -4.5,0M485.4,114.6a2.25,2.25 0 1,0 4.5,0a2.25,2.25 0 1,0 -4.5,0M487.9,122.8a2.25,2.25 0 1,0 4.5,0a2.25,2.25 0 1,0 -4.5,0M487.9,124.2a2.25,2.25 0 1,0 4.5,0a2.25,2.25 0 1,0 -4.5,0M447.2,135.2a2.25,2.25 0 1,0 4.5,0a2.25,2.25 0 1,0 -4.5,0M451.0,135.9a2.25,2.25 0 1,0 4.5,0a2.25,2.25 0 1,0 -4.5,0M455.4,137.1a2.25,2.25 0 1,0 4.5,0a2.25,2.25 0 1,0 -4.5,0M471.6,138.4a2.25,2.25 0 1,0 4.5,0a2.25,2.25 0 1,0 -4.5,0M448.5,142.1a2.25,2.25 0 1,0 4.5,0a2.25,2.25 0 1,0 -4.5,0M497.9,111.5a2.25,2.25 0 1,0 4.5,0a2.25,2.25 0 1,0 -4.5,0M514.1,115.9a2.25,2.25 0 1,0 4.5,0a2.25,2.25 0 1,0 -4.5,0M512.9,120.2a2.25,2.25 0 1,0 4.5,0a2.25,2.25 0 1,0 -4.5,0M492.2,120.9a2.25,2.25 0 1,0 4.5,0a2.25,2.25 0 1,0 -4.5,0M532.9,118.4a2.25,2.25 0 1,0 4.5,0a2.25,2.25 0 1,0 -4.5,0M535.4,114.0a2.25,2.25 0 1,0 4.5,0a2.25,2.25 0 1,0 -4.5,0M537.2,115.9a2.25,2.25 0 1,0 4.5,0a2.25,2.25 0 1,0 -4.5,0M539.8,112.8a2.25,2.25 0 1,0 4.5,0a2.25,2.25 0 1,0 -4.5,0M537.9,110.9a2.25,2.25 0 1,0 4.5,0a2.25,2.25 0 1,0 -4.5,0M544.8,114.6a2.25,2.25 0 1,0 4.5,0a2.25,2.25 0 1,0 -4.5,0M547.9,117.8a2.25,2.25 0 1,0 4.5,0a2.25,2.25 0 1,0 -4.5,0M543.5,119.6a2.25,2.25 0 1,0 4.5,0a2.25,2.25 0 1,0 -4.5,0M545.4,120.9a2.25,2.25 0 1,0 4.5,0a2.25,2.25 0 1,0 -4.5,0M535.4,122.1a2.25,2.25 0 1,0 4.5,0a2.25,2.25 0 1,0 -4.5,0M539.1,123.4a2.25,2.25 0 1,0 4.5,0a2.25,2.25 0 1,0 -4.5,0M536.6,125.2a2.25,2.25 0 1,0 4.5,0a2.25,2.25 0 1,0 -4.5,0M523.5,120.9a2.25,2.25 0 1,0 4.5,0a2.25,2.25 0 1,0 -4.5,0M526.0,121.5a2.25,2.25 0 1,0 4.5,0a2.25,2.25 0 1,0 -4.5,0M522.9,125.9a2.25,2.25 0 1,0 4.5,0a2.25,2.25 0 1,0 -4.5,0M554.8,114.6a2.25,2.25 0 1,0 4.5,0a2.25,2.25 0 1,0 -4.5,0M567.2,112.8a2.25,2.25 0 1,0 4.5,0a2.25,2.25 0 1,0 -4.5,0M560.4,114.0a2.25,2.25 0 1,0 4.5,0a2.25,2.25 0 1,0 -4.5,0M571.0,118.4a2.25,2.25 0 1,0 4.5,0a2.25,2.25 0 1,0 -4.5,0M553.5,122.1a2.25,2.25 0 1,0 4.5,0a2.25,2.25 0 1,0 -4.5,0M551.6,126.5a2.25,2.25 0 1,0 4.5,0a2.25,2.25 0 1,0 -4.5,0M558.5,127.8a2.25,2.25 0 1,0 4.5,0a2.25,2.25 0 1,0 -4.5,0M557.9,129.6a2.25,2.25 0 1,0 4.5,0a2.25,2.25 0 1,0 -4.5,0M512.9,132.8a2.25,2.25 0 1,0 4.5,0a2.25,2.25 0 1,0 -4.5,0M519.8,129.6a2.25,2.25 0 1,0 4.5,0a2.25,2.25 0 1,0 -4.5,0M519.1,132.1a2.25,2.25 0 1,0 4.5,0a2.25,2.25 0 1,0 -4.5,0M520.4,135.2a2.25,2.25 0 1,0 4.5,0a2.25,2.25 0 1,0 -4.5,0M523.5,130.9a2.25,2.25 0 1,0 4.5,0a2.25,2.25 0 1,0 -4.5,0M518.5,134.0a2.25,2.25 0 1,0 4.5,0a2.25,2.25 0 1,0 -4.5,0M536.0,135.2a2.25,2.25 0 1,0 4.5,0a2.25,2.25 0 1,0 -4.5,0M539.1,137.8a2.25,2.25 0 1,0 4.5,0a2.25,2.25 0 1,0 -4.5,0M540.4,131.5a2.25,2.25 0 1,0 4.5,0a2.25,2.25 0 1,0 -4.5,0M542.9,133.4a2.25,2.25 0 1,0 4.5,0a2.25,2.25 0 1,0 -4.5,0M545.4,131.5a2.25,2.25 0 1,0 4.5,0a2.25,2.25 0 1,0 -4.5,0M546.6,134.0a2.25,2.25 0 1,0 4.5,0a2.25,2.25 0 1,0 -4.5,0M549.1,135.9a2.25,2.25 0 1,0 4.5,0a2.25,2.25 0 1,0 -4.5,0M552.2,135.9a2.25,2.25 0 1,0 4.5,0a2.25,2.25 0 1,0 -4.5,0M554.8,137.1a2.25,2.25 0 1,0 4.5,0a2.25,2.25 0 1,0 -4.5,0M557.9,134.0a2.25,2.25 0 1,0 4.5,0a2.25,2.25 0 1,0 -4.5,0M496.0,139.0a2.25,2.25 0 1,0 4.5,0a2.25,2.25 0 1,0 -4.5,0M501.6,142.1a2.25,2.25 0 1,0 4.5,0a2.25,2.25 0 1,0 -4.5,0M507.2,139.0a2.25,2.25 0 1,0 4.5,0a2.25,2.25 0 1,0 -4.5,0M507.9,140.2a2.25,2.25 0 1,0 4.5,0a2.25,2.25 0 1,0 -4.5,0M508.5,142.1a2.25,2.25 0 1,0 4.5,0a2.25,2.25 0 1,0 -4.5,0M517.9,142.1a2.25,2.25 0 1,0 4.5,0a2.25,2.25 0 1,0 -4.5,0M522.9,142.1a2.25,2.25 0 1,0 4.5,0a2.25,2.25 0 1,0 -4.5,0M530.4,142.1a2.25,2.25 0 1,0 4.5,0a2.25,2.25 0 1,0 -4.5,0M551.0,141.5a2.25,2.25 0 1,0 4.5,0a2.25,2.25 0 1,0 -4.5,0M542.2,142.1a2.25,2.25 0 1,0 4.5,0a2.25,2.25 0 1,0 -4.5,0M339.8,145.9a2.25,2.25 0 1,0 4.5,0a2.25,2.25 0 1,0 -4.5,0M350.4,147.8a2.25,2.25 0 1,0 4.5,0a2.25,2.25 0 1,0 -4.5,0M361.6,145.9a2.25,2.25 0 1,0 4.5,0a2.25,2.25 0 1,0 -4.5,0M361.0,150.2a2.25,2.25 0 1,0 4.5,0a2.25,2.25 0 1,0 -4.5,0M359.1,155.2a2.25,2.25 0 1,0 4.5,0a2.25,2.25 0 1,0 -4.5,0M342.9,152.1a2.25,2.25 0 1,0 4.5,0a2.25,2.25 0 1,0 -4.5,0M337.2,152.8a2.25,2.25 0 1,0 4.5,0a2.25,2.25 0 1,0 -4.5,0M324.8,157.8a2.25,2.25 0 1,0 4.5,0a2.25,2.25 0 1,0 -4.5,0M328.5,156.5a2.25,2.25 0 1,0 4.5,0a2.25,2.25 0 1,0 -4.5,0M329.8,161.5a2.25,2.25 0 1,0 4.5,0a2.25,2.25 0 1,0 -4.5,0M333.5,158.4a2.25,2.25 0 1,0 4.5,0a2.25,2.25 0 1,0 -4.5,0M338.5,157.1a2.25,2.25 0 1,0 4.5,0a2.25,2.25 0 1,0 -4.5,0M338.5,161.5a2.25,2.25 0 1,0 4.5,0a2.25,2.25 0 1,0 -4.5,0M325.4,166.5a2.25,2.25 0 1,0 4.5,0a2.25,2.25 0 1,0 -4.5,0M326.0,172.8a2.25,2.25 0 1,0 4.5,0a2.25,2.25 0 1,0 -4.5,0M329.8,172.8a2.25,2.25 0 1,0 4.5,0a2.25,2.25 0 1,0 -4.5,0M333.5,171.5a2.25,2.25 0 1,0 4.5,0a2.25,2.25 0 1,0 -4.5,0M336.6,177.1a2.25,2.25 0 1,0 4.5,0a2.25,2.25 0 1,0 -4.5,0M332.2,175.2a2.25,2.25 0 1,0 4.5,0a2.25,2.25 0 1,0 -4.5,0M352.2,161.5a2.25,2.25 0 1,0 4.5,0a2.25,2.25 0 1,0 -4.5,0M352.9,160.6a2.25,2.25 0 1,0 4.5,0a2.25,2.25 0 1,0 -4.5,0M354.8,167.1a2.25,2.25 0 1,0 4.5,0a2.25,2.25 0 1,0 -4.5,0M364.1,159.6a2.25,2.25 0 1,0 4.5,0a2.25,2.25 0 1,0 -4.5,0M363.5,167.1a2.25,2.25 0 1,0 4.5,0a2.25,2.25 0 1,0 -4.5,0M369.1,152.1a2.25,2.25 0 1,0 4.5,0a2.25,2.25 0 1,0 -4.5,0M372.2,157.1a2.25,2.25 0 1,0 4.5,0a2.25,2.25 0 1,0 -4.5,0M375.4,149.6a2.25,2.25 0 1,0 4.5,0a2.25,2.25 0 1,0 -4.5,0M378.5,147.8a2.25,2.25 0 1,0 4.5,0a2.25,2.25 0 1,0 -4.5,0M381.0,149.0a2.25,2.25 0 1,0 4.5,0a2.25,2.25 0 1,0 -4.5,0M384.1,149.0a2.25,2.25 0 1,0 4.5,0a2.25,2.25 0 1,0 -4.5,0M387.9,148.4a2.25,2.25 0 1,0 4.5,0a2.25,2.25 0 1,0 -4.5,0M387.2,150.5a2.25,2.25 0 1,0 4.5,0a2.25,2.25 0 1,0 -4.5,0M375.4,162.8a2.25,2.25 0 1,0 4.5,0a2.25,2.25 0 1,0 -4.5,0M384.8,156.5a2.25,2.25 0 1,0 4.5,0a2.25,2.25 0 1,0 -4.5,0M386.0,162.8a2.25,2.25 0 1,0 4.5,0a2.25,2.25 0 1,0 -4.5,0M376.0,159.6a2.25,2.25 0 1,0 4.5,0a2.25,2.25 0 1,0 -4.5,0M368.5,175.9a2.25,2.25 0 1,0 4.5,0a2.25,2.25 0 1,0 -4.5,0M377.9,175.5a2.25,2.25 0 1,0 4.5,0a2.25,2.25 0 1,0 -4.5,0M379.8,177.8a2.25,2.25 0 1,0 4.5,0a2.25,2.25 0 1,0 -4.5,0M384.8,170.2a2.25,2.25 0 1,0 4.5,0a2.25,2.25 0 1,0 -4.5,0M387.2,173.4a2.25,2.25 0 1,0 4.5,0a2.25,2.25 0 1,0 -4.5,0M393.5,170.2a2.25,2.25 0 1,0 4.5,0a2.25,2.25 0 1,0 -4.5,0M391.6,174.0a2.25,2.25 0 1,0 4.5,0a2.25,2.25 0 1,0 -4.5,0M389.1,176.5a2.25,2.25 0 1,0 4.5,0a2.25,2.25 0 1,0 -4.5,0M401.0,154.0a2.25,2.25 0 1,0 4.5,0a2.25,2.25 0 1,0 -4.5,0M393.5,145.2a2.25,2.25 0 1,0 4.5,0a2.25,2.25 0 1,0 -4.5,0M459.1,149.6a2.25,2.25 0 1,0 4.5,0a2.25,2.25 0 1,0 -4.5,0M449.8,160.2a2.25,2.25 0 1,0 4.5,0a2.25,2.25 0 1,0 -4.5,0M459.1,160.2a2.25,2.25 0 1,0 4.5,0a2.25,2.25 0 1,0 -4.5,0M470.4,160.2a2.25,2.25 0 1,0 4.5,0a2.25,2.25 0 1,0 -4.5,0M463.5,166.5a2.25,2.25 0 1,0 4.5,0a2.25,2.25 0 1,0 -4.5,0M452.0,170.6a2.25,2.25 0 1,0 4.5,0a2.25,2.25 0 1,0 -4.5,0M453.2,171.1a2.25,2.25 0 1,0 4.5,0a2.25,2.25 0 1,0 -4.5,0M475.4,175.2a2.25,2.25 0 1,0 4.5,0a2.25,2.25 0 1,0 -4.5,0M483.5,178.0a2.25,2.25 0 1,0 4.5,0a2.25,2.25 0 1,0 -4.5,0M484.1,152.8a2.25,2.25 0 1,0 4.5,0a2.25,2.25 0 1,0 -4.5,0M488.5,149.6a2.25,2.25 0 1,0 4.5,0a2.25,2.25 0 1,0 -4.5,0M488.2,154.2a2.25,2.25 0 1,0 4.5,0a2.25,2.25 0 1,0 -4.5,0M487.9,156.5a2.25,2.25 0 1,0 4.5,0a2.25,2.25 0 1,0 -4.5,0M488.8,158.0a2.25,2.25 0 1,0 4.5,0a2.25,2.25 0 1,0 -4.5,0M491.6,152.8a2.25,2.25 0 1,0 4.5,0a2.25,2.25 0 1,0 -4.5,0M493.5,156.5a2.25,2.25 0 1,0 4.5,0a2.25,2.25 0 1,0 -4.5,0M492.2,160.2a2.25,2.25 0 1,0 4.5,0a2.25,2.25 0 1,0 -4.5,0M495.4,152.8a2.25,2.25 0 1,0 4.5,0a2.25,2.25 0 1,0 -4.5,0M507.2,145.9a2.25,2.25 0 1,0 4.5,0a2.25,2.25 0 1,0 -4.5,0M516.6,146.5a2.25,2.25 0 1,0 4.5,0a2.25,2.25 0 1,0 -4.5,0M499.1,152.8a2.25,2.25 0 1,0 4.5,0a2.25,2.25 0 1,0 -4.5,0M506.0,156.5a2.25,2.25 0 1,0 4.5,0a2.25,2.25 0 1,0 -4.5,0M511.0,152.8a2.25,2.25 0 1,0 4.5,0a2.25,2.25 0 1,0 -4.5,0M514.1,163.4a2.25,2.25 0 1,0 4.5,0a2.25,2.25 0 1,0 -4.5,0M498.5,163.4a2.25,2.25 0 1,0 4.5,0a2.25,2.25 0 1,0 -4.5,0M498.5,165.2a2.25,2.25 0 1,0 4.5,0a2.25,2.25 0 1,0 -4.5,0M519.1,151.5a2.25,2.25 0 1,0 4.5,0a2.25,2.25 0 1,0 -4.5,0M520.6,152.2a2.25,2.25 0 1,0 4.5,0a2.25,2.25 0 1,0 -4.5,0M524.1,149.6a2.25,2.25 0 1,0 4.5,0a2.25,2.25 0 1,0 -4.5,0M525.4,155.2a2.25,2.25 0 1,0 4.5,0a2.25,2.25 0 1,0 -4.5,0M524.1,159.6a2.25,2.25 0 1,0 4.5,0a2.25,2.25 0 1,0 -4.5,0M525.4,160.5a2.25,2.25 0 1,0 4.5,0a2.25,2.25 0 1,0 -4.5,0M529.8,154.0a2.25,2.25 0 1,0 4.5,0a2.25,2.25 0 1,0 -4.5,0M531.6,149.6a2.25,2.25 0 1,0 4.5,0a2.25,2.25 0 1,0 -4.5,0M534.1,151.5a2.25,2.25 0 1,0 4.5,0a2.25,2.25 0 1,0 -4.5,0M537.2,152.1a2.25,2.25 0 1,0 4.5,0a2.25,2.25 0 1,0 -4.5,0M533.5,155.2a2.25,2.25 0 1,0 4.5,0a2.25,2.25 0 1,0 -4.5,0M545.4,149.0a2.25,2.25 0 1,0 4.5,0a2.25,2.25 0 1,0 -4.5,0M544.8,159.6a2.25,2.25 0 1,0 4.5,0a2.25,2.25 0 1,0 -4.5,0M551.0,152.8a2.25,2.25 0 1,0 4.5,0a2.25,2.25 0 1,0 -4.5,0M552.9,155.9a2.25,2.25 0 1,0 4.5,0a2.25,2.25 0 1,0 -4.5,0M554.8,158.4a2.25,2.25 0 1,0 4.5,0a2.25,2.25 0 1,0 -4.5,0M552.2,162.1a2.25,2.25 0 1,0 4.5,0a2.25,2.25 0 1,0 -4.5,0M558.5,162.1a2.25,2.25 0 1,0 4.5,0a2.25,2.25 0 1,0 -4.5,0M561.6,149.6a2.25,2.25 0 1,0 4.5,0a2.25,2.25 0 1,0 -4.5,0M571.0,164.6a2.25,2.25 0 1,0 4.5,0a2.25,2.25 0 1,0 -4.5,0M521.0,169.0a2.25,2.25 0 1,0 4.5,0a2.25,2.25 0 1,0 -4.5,0M536.6,169.0a2.25,2.25 0 1,0 4.5,0a2.25,2.25 0 1,0 -4.5,0M513.5,172.5a2.25,2.25 0 1,0 4.5,0a2.25,2.25 0 1,0 -4.5,0M508.5,175.9a2.25,2.25 0 1,0 4.5,0a2.25,2.25 0 1,0 -4.5,0M526.0,172.8a2.25,2.25 0 1,0 4.5,0a2.25,2.25 0 1,0 -4.5,0M527.2,176.8a2.25,2.25 0 1,0 4.5,0a2.25,2.25 0 1,0 -4.5,0M519.8,177.8a2.25,2.25 0 1,0 4.5,0a2.25,2.25 0 1,0 -4.5,0M550.4,175.2a2.25,2.25 0 1,0 4.5,0a2.25,2.25 0 1,0 -4.5,0M537.2,176.5a2.25,2.25 0 1,0 4.5,0a2.25,2.25 0 1,0 -4.5,0M562.2,170.9a2.25,2.25 0 1,0 4.5,0a2.25,2.25 0 1,0 -4.5,0M564.8,170.2a2.25,2.25 0 1,0 4.5,0a2.25,2.25 0 1,0 -4.5,0M563.5,173.4a2.25,2.25 0 1,0 4.5,0a2.25,2.25 0 1,0 -4.5,0M557.9,177.1a2.25,2.25 0 1,0 4.5,0a2.25,2.25 0 1,0 -4.5,0M491.0,170.9a2.25,2.25 0 1,0 4.5,0a2.25,2.25 0 1,0 -4.5,0M494.8,174.0a2.25,2.25 0 1,0 4.5,0a2.25,2.25 0 1,0 -4.5,0M496.6,172.8a2.25,2.25 0 1,0 4.5,0a2.25,2.25 0 1,0 -4.5,0M491.0,175.9a2.25,2.25 0 1,0 4.5,0a2.25,2.25 0 1,0 -4.5,0M324.1,180.2a2.25,2.25 0 1,0 4.5,0a2.25,2.25 0 1,0 -4.5,0M327.9,180.9a2.25,2.25 0 1,0 4.5,0a2.25,2.25 0 1,0 -4.5,0M324.8,184.0a2.25,2.25 0 1,0 4.5,0a2.25,2.25 0 1,0 -4.5,0M331.6,182.1a2.25,2.25 0 1,0 4.5,0a2.25,2.25 0 1,0 -4.5,0M335.4,184.6a2.25,2.25 0 1,0 4.5,0a2.25,2.25 0 1,0 -4.5,0M336.0,187.1a2.25,2.25 0 1,0 4.5,0a2.25,2.25 0 1,0 -4.5,0M342.9,187.1a2.25,2.25 0 1,0 4.5,0a2.25,2.25 0 1,0 -4.5,0M337.2,191.5a2.25,2.25 0 1,0 4.5,0a2.25,2.25 0 1,0 -4.5,0M362.9,185.9a2.25,2.25 0 1,0 4.5,0a2.25,2.25 0 1,0 -4.5,0M346.6,194.6a2.25,2.25 0 1,0 4.5,0a2.25,2.25 0 1,0 -4.5,0M349.8,198.4a2.25,2.25 0 1,0 4.5,0a2.25,2.25 0 1,0 -4.5,0M351.6,195.2a2.25,2.25 0 1,0 4.5,0a2.25,2.25 0 1,0 -4.5,0M354.1,194.6a2.25,2.25 0 1,0 4.5,0a2.25,2.25 0 1,0 -4.5,0M357.2,197.1a2.25,2.25 0 1,0 4.5,0a2.25,2.25 0 1,0 -4.5,0M359.1,199.0a2.25,2.25 0 1,0 4.5,0a2.25,2.25 0 1,0 -4.5,0M351.6,204.6a2.25,2.25 0 1,0 4.5,0a2.25,2.25 0 1,0 -4.5,0M372.2,190.9a2.25,2.25 0 1,0 4.5,0a2.25,2.25 0 1,0 -4.5,0M375.4,192.1a2.25,2.25 0 1,0 4.5,0a2.25,2.25 0 1,0 -4.5,0M374.8,194.6a2.25,2.25 0 1,0 4.5,0a2.25,2.25 0 1,0 -4.5,0M374.1,197.8a2.25,2.25 0 1,0 4.5,0a2.25,2.25 0 1,0 -4.5,0M379.8,182.8a2.25,2.25 0 1,0 4.5,0a2.25,2.25 0 1,0 -4.5,0M374.8,180.2a2.25,2.25 0 1,0 4.5,0a2.25,2.25 0 1,0 -4.5,0M387.2,181.5a2.25,2.25 0 1,0 4.5,0a2.25,2.25 0 1,0 -4.5,0M387.9,184.0a2.25,2.25 0 1,0 4.5,0a2.25,2.25 0 1,0 -4.5,0M387.2,185.9a2.25,2.25 0 1,0 4.5,0a2.25,2.25 0 1,0 -4.5,0M388.5,190.2a2.25,2.25 0 1,0 4.5,0a2.25,2.25 0 1,0 -4.5,0M384.8,194.6a2.25,2.25 0 1,0 4.5,0a2.25,2.25 0 1,0 -4.5,0M397.2,184.6a2.25,2.25 0 1,0 4.5,0a2.25,2.25 0 1,0 -4.5,0M401.6,190.2a2.25,2.25 0 1,0 4.5,0a2.25,2.25 0 1,0 -4.5,0M396.0,196.5a2.25,2.25 0 1,0 4.5,0a2.25,2.25 0 1,0 -4.5,0M400.4,195.9a2.25,2.25 0 1,0 4.5,0a2.25,2.25 0 1,0 -4.5,0M402.2,197.8a2.25,2.25 0 1,0 4.5,0a2.25,2.25 0 1,0 -4.5,0M324.8,200.2a2.25,2.25 0 1,0 4.5,0a2.25,2.25 0 1,0 -4.5,0M326.6,202.8a2.25,2.25 0 1,0 4.5,0a2.25,2.25 0 1,0 -4.5,0M335.4,203.4a2.25,2.25 0 1,0 4.5,0a2.25,2.25 0 1,0 -4.5,0M336.0,204.2a2.25,2.25 0 1,0 4.5,0a2.25,2.25 0 1,0 -4.5,0M326.0,209.0a2.25,2.25 0 1,0 4.5,0a2.25,2.25 0 1,0 -4.5,0M332.2,207.8a2.25,2.25 0 1,0 4.5,0a2.25,2.25 0 1,0 -4.5,0M329.8,210.9a2.25,2.25 0 1,0 4.5,0a2.25,2.25 0 1,0 -4.5,0M339.8,209.6a2.25,2.25 0 1,0 4.5,0a2.25,2.25 0 1,0 -4.5,0M336.0,211.8a2.25,2.25 0 1,0 4.5,0a2.25,2.25 0 1,0 -4.5,0M351.6,212.8a2.25,2.25 0 1,0 4.5,0a2.25,2.25 0 1,0 -4.5,0M374.8,207.1a2.25,2.25 0 1,0 4.5,0a2.25,2.25 0 1,0 -4.5,0M375.4,209.0a2.25,2.25 0 1,0 4.5,0a2.25,2.25 0 1,0 -4.5,0M393.5,207.8a2.25,2.25 0 1,0 4.5,0a2.25,2.25 0 1,0 -4.5,0M398.5,206.5a2.25,2.25 0 1,0 4.5,0a2.25,2.25 0 1,0 -4.5,0M396.6,210.9a2.25,2.25 0 1,0 4.5,0a2.25,2.25 0 1,0 -4.5,0M401.0,209.6a2.25,2.25 0 1,0 4.5,0a2.25,2.25 0 1,0 -4.5,0M459.1,184.6a2.25,2.25 0 1,0 4.5,0a2.25,2.25 0 1,0 -4.5,0M469.1,186.5a2.25,2.25 0 1,0 4.5,0a2.25,2.25 0 1,0 -4.5,0M478.5,184.6a2.25,2.25 0 1,0 4.5,0a2.25,2.25 0 1,0 -4.5,0M482.9,180.2a2.25,2.25 0 1,0 4.5,0a2.25,2.25 0 1,0 -4.5,0M474.1,190.9a2.25,2.25 0 1,0 4.5,0a2.25,2.25 0 1,0 -4.5,0M485.4,190.9a2.25,2.25 0 1,0 4.5,0a2.25,2.25 0 1,0 -4.5,0M448.5,195.2a2.25,2.25 0 1,0 4.5,0a2.25,2.25 0 1,0 -4.5,0M455.4,200.2a2.25,2.25 0 1,0 4.5,0a2.25,2.25 0 1,0 -4.5,0M457.9,199.0a2.25,2.25 0 1,0 4.5,0a2.25,2.25 0 1,0 -4.5,0M462.2,199.6a2.25,2.25 0 1,0 4.5,0a2.25,2.25 0 1,0 -4.5,0M465.4,201.5a2.25,2.25 0 1,0 4.5,0a2.25,2.25 0 1,0 -4.5,0M469.8,201.5a2.25,2.25 0 1,0 4.5,0a2.25,2.25 0 1,0 -4.5,0M472.9,197.1a2.25,2.25 0 1,0 4.5,0a2.25,2.25 0 1,0 -4.5,0M448.5,205.9a2.25,2.25 0 1,0 4.5,0a2.25,2.25 0 1,0 -4.5,0M454.1,205.2a2.25,2.25 0 1,0 4.5,0a2.25,2.25 0 1,0 -4.5,0M456.0,204.0a2.25,2.25 0 1,0 4.5,0a2.25,2.25 0 1,0 -4.5,0M454.8,212.1a2.25,2.25 0 1,0 4.5,0a2.25,2.25 0 1,0 -4.5,0M472.9,211.5a2.25,2.25 0 1,0 4.5,0a2.25,2.25 0 1,0 -4.5,0M482.2,211.8a2.25,2.25 0 1,0 4.5,0a2.25,2.25 0 1,0 -4.5,0M483.5,195.2a2.25,2.25 0 1,0 4.5,0a2.25,2.25 0 1,0 -4.5,0M484.8,196.8a2.25,2.25 0 1,0 4.5,0a2.25,2.25 0 1,0 -4.5,0M487.9,200.2a2.25,2.25 0 1,0 4.5,0a2.25,2.25 0 1,0 -4.5,0M487.2,194.0a2.25,2.25 0 1,0 4.5,0a2.25,2.25 0 1,0 -4.5,0M488.5,207.8a2.25,2.25 0 1,0 4.5,0a2.25,2.25 0 1,0 -4.5,0M466.0,212.8a2.25,2.25 0 1,0 4.5,0a2.25,2.25 0 1,0 -4.5,0M491.6,193.4a2.25,2.25 0 1,0 4.5,0a2.25,2.25 0 1,0 -4.5,0M496.6,180.2a2.25,2.25 0 1,0 4.5,0a2.25,2.25 0 1,0 -4.5,0M501.0,181.5a2.25,2.25 0 1,0 4.5,0a2.25,2.25 0 1,0 -4.5,0M496.6,189.0a2.25,2.25 0 1,0 4.5,0a2.25,2.25 0 1,0 -4.5,0M495.4,193.4a2.25,2.25 0 1,0 4.5,0a2.25,2.25 0 1,0 -4.5,0M497.2,193.6a2.25,2.25 0 1,0 4.5,0a2.25,2.25 0 1,0 -4.5,0M499.1,194.2a2.25,2.25 0 1,0 4.5,0a2.25,2.25 0 1,0 -4.5,0M508.5,182.8a2.25,2.25 0 1,0 4.5,0a2.25,2.25 0 1,0 -4.5,0M508.5,190.2a2.25,2.25 0 1,0 4.5,0a2.25,2.25 0 1,0 -4.5,0M513.5,201.5a2.25,2.25 0 1,0 4.5,0a2.25,2.25 0 1,0 -4.5,0M516.0,202.1a2.25,2.25 0 1,0 4.5,0a2.25,2.25 0 1,0 -4.5,0M509.8,205.2a2.25,2.25 0 1,0 4.5,0a2.25,2.25 0 1,0 -4.5,0M518.5,195.9a2.25,2.25 0 1,0 4.5,0a2.25,2.25 0 1,0 -4.5,0M521.0,196.5a2.25,2.25 0 1,0 4.5,0a2.25,2.25 0 1,0 -4.5,0M521.6,185.2a2.25,2.25 0 1,0 4.5,0a2.25,2.25 0 1,0 -4.5,0M524.8,187.8a2.25,2.25 0 1,0 4.5,0a2.25,2.25 0 1,0 -4.5,0M526.6,180.9a2.25,2.25 0 1,0 4.5,0a2.25,2.25 0 1,0 -4.5,0M538.5,185.9a2.25,2.25 0 1,0 4.5,0a2.25,2.25 0 1,0 -4.5,0M530.4,196.5a2.25,2.25 0 1,0 4.5,0a2.25,2.25 0 1,0 -4.5,0M536.0,200.2a2.25,2.25 0 1,0 4.5,0a2.25,2.25 0 1,0 -4.5,0M532.9,205.2a2.25,2.25 0 1,0 4.5,0a2.25,2.25 0 1,0 -4.5,0M534.8,205.9a2.25,2.25 0 1,0 4.5,0a2.25,2.25 0 1,0 -4.5,0M537.2,209.0a2.25,2.25 0 1,0 4.5,0a2.25,2.25 0 1,0 -4.5,0M542.2,193.4a2.25,2.25 0 1,0 4.5,0a2.25,2.25 0 1,0 -4.5,0M547.9,189.6a2.25,2.25 0 1,0 4.5,0a2.25,2.25 0 1,0 -4.5,0M551.6,193.4a2.25,2.25 0 1,0 4.5,0a2.25,2.25 0 1,0 -4.5,0M556.6,180.9a2.25,2.25 0 1,0 4.5,0a2.25,2.25 0 1,0 -4.5,0M560.4,180.2a2.25,2.25 0 1,0 4.5,0a2.25,2.25 0 1,0 -4.5,0M565.4,181.5a2.25,2.25 0 1,0 4.5,0a2.25,2.25 0 1,0 -4.5,0M571.0,180.9a2.25,2.25 0 1,0 4.5,0a2.25,2.25 0 1,0 -4.5,0M571.2,182.1a2.25,2.25 0 1,0 4.5,0a2.25,2.25 0 1,0 -4.5,0M547.9,203.4a2.25,2.25 0 1,0 4.5,0a2.25,2.25 0 1,0 -4.5,0M549.1,206.5a2.25,2.25 0 1,0 4.5,0a2.25,2.25 0 1,0 -4.5,0M568.5,202.8a2.25,2.25 0 1,0 4.5,0a2.25,2.25 0 1,0 -4.5,0M492.2,209.6a2.25,2.25 0 1,0 4.5,0a2.25,2.25 0 1,0 -4.5,0M503.5,212.1a2.25,2.25 0 1,0 4.5,0a2.25,2.25 0 1,0 -4.5,0M504.8,211.2a2.25,2.25 0 1,0 4.5,0a2.25,2.25 0 1,0 -4.5,0M547.2,212.8a2.25,2.25 0 1,0 4.5,0a2.25,2.25 0 1,0 -4.5,0M325.4,219.5a2.25,2.25 0 1,0 4.5,0a2.25,2.25 0 1,0 -4.5,0M324.8,232.0a2.25,2.25 0 1,0 4.5,0a2.25,2.25 0 1,0 -4.5,0M342.2,215.8a2.25,2.25 0 1,0 4.5,0a2.25,2.25 0 1,0 -4.5,0M332.9,230.1a2.25,2.25 0 1,0 4.5,0a2.25,2.25 0 1,0 -4.5,0M335.4,229.5a2.25,2.25 0 1,0 4.5,0a2.25,2.25 0 1,0 -4.5,0M341.0,232.0a2.25,2.25 0 1,0 4.5,0a2.25,2.25 0 1,0 -4.5,0M345.4,231.4a2.25,2.25 0 1,0 4.5,0a2.25,2.25 0 1,0 -4.5,0M350.4,219.5a2.25,2.25 0 1,0 4.5,0a2.25,2.25 0 1,0 -4.5,0M351.6,215.8a2.25,2.25 0 1,0 4.5,0a2.25,2.25 0 1,0 -4.5,0M353.2,216.8a2.25,2.25 0 1,0 4.5,0a2.25,2.25 0 1,0 -4.5,0M355.4,222.0a2.25,2.25 0 1,0 4.5,0a2.25,2.25 0 1,0 -4.5,0M352.9,230.1a2.25,2.25 0 1,0 4.5,0a2.25,2.25 0 1,0 -4.5,0M353.8,231.0a2.25,2.25 0 1,0 4.5,0a2.25,2.25 0 1,0 -4.5,0M352.0,231.6a2.25,2.25 0 1,0 4.5,0a2.25,2.25 0 1,0 -4.5,0M358.5,232.0a2.25,2.25 0 1,0 4.5,0a2.25,2.25 0 1,0 -4.5,0M357.9,214.2a2.25,2.25 0 1,0 4.5,0a2.25,2.25 0 1,0 -4.5,0M362.9,224.5a2.25,2.25 0 1,0 4.5,0a2.25,2.25 0 1,0 -4.5,0M373.5,221.4a2.25,2.25 0 1,0 4.5,0a2.25,2.25 0 1,0 -4.5,0M372.2,232.0a2.25,2.25 0 1,0 4.5,0a2.25,2.25 0 1,0 -4.5,0M384.1,220.1a2.25,2.25 0 1,0 4.5,0a2.25,2.25 0 1,0 -4.5,0M382.2,225.8a2.25,2.25 0 1,0 4.5,0a2.25,2.25 0 1,0 -4.5,0M392.9,218.2a2.25,2.25 0 1,0 4.5,0a2.25,2.25 0 1,0 -4.5,0M396.0,220.8a2.25,2.25 0 1,0 4.5,0a2.25,2.25 0 1,0 -4.5,0M394.1,226.4a2.25,2.25 0 1,0 4.5,0a2.25,2.25 0 1,0 -4.5,0M402.9,224.5a2.25,2.25 0 1,0 4.5,0a2.25,2.25 0 1,0 -4.5,0M402.9,228.2a2.25,2.25 0 1,0 4.5,0a2.25,2.25 0 1,0 -4.5,0M456.6,215.1a2.25,2.25 0 1,0 4.5,0a2.25,2.25 0 1,0 -4.5,0M488.2,214.8a2.25,2.25 0 1,0 4.5,0a2.25,2.25 0 1,0 -4.5,0M458.5,222.0a2.25,2.25 0 1,0 4.5,0a2.25,2.25 0 1,0 -4.5,0M467.2,227.0a2.25,2.25 0 1,0 4.5,0a2.25,2.25 0 1,0 -4.5,0M472.9,232.0a2.25,2.25 0 1,0 4.5,0a2.25,2.25 0 1,0 -4.5,0M477.2,220.8a2.25,2.25 0 1,0 4.5,0a2.25,2.25 0 1,0 -4.5,0M476.0,223.9a2.25,2.25 0 1,0 4.5,0a2.25,2.25 0 1,0 -4.5,0M480.4,226.4a2.25,2.25 0 1,0 4.5,0a2.25,2.25 0 1,0 -4.5,0M482.9,225.8a2.25,2.25 0 1,0 4.5,0a2.25,2.25 0 1,0 -4.5,0M484.8,227.6a2.25,2.25 0 1,0 4.5,0a2.25,2.25 0 1,0 -4.5,0M491.0,213.9a2.25,2.25 0 1,0 4.5,0a2.25,2.25 0 1,0 -4.5,0M493.5,217.0a2.25,2.25 0 1,0 4.5,0a2.25,2.25 0 1,0 -4.5,0M493.5,221.4a2.25,2.25 0 1,0 4.5,0a2.25,2.25 0 1,0 -4.5,0M500.4,218.2a2.25,2.25 0 1,0 4.5,0a2.25,2.25 0 1,0 -4.5,0M502.2,215.8a2.25,2.25 0 1,0 4.5,0a2.25,2.25 0 1,0 -4.5,0M499.1,230.1a2.25,2.25 0 1,0 4.5,0a2.25,2.25 0 1,0 -4.5,0M505.4,228.2a2.25,2.25 0 1,0 4.5,0a2.25,2.25 0 1,0 -4.5,0M508.5,218.9a2.25,2.25 0 1,0 4.5,0a2.25,2.25 0 1,0 -4.5,0M512.2,217.6a2.25,2.25 0 1,0 4.5,0a2.25,2.25 0 1,0 -4.5,0M519.1,216.4a2.25,2.25 0 1,0 4.5,0a2.25,2.25 0 1,0 -4.5,0M527.2,217.6a2.25,2.25 0 1,0 4.5,0a2.25,2.25 0 1,0 -4.5,0M525.4,219.5a2.25,2.25 0 1,0 4.5,0a2.25,2.25 0 1,0 -4.5,0M522.2,224.5a2.25,2.25 0 1,0 4.5,0a2.25,2.25 0 1,0 -4.5,0M524.1,224.5a2.25,2.25 0 1,0 4.5,0a2.25,2.25 0 1,0 -4.5,0M519.8,225.8a2.25,2.25 0 1,0 4.5,0a2.25,2.25 0 1,0 -4.5,0M517.9,227.6a2.25,2.25 0 1,0 4.5,0a2.25,2.25 0 1,0 -4.5,0M515.4,230.8a2.25,2.25 0 1,0 4.5,0a2.25,2.25 0 1,0 -4.5,0M516.6,229.5a2.25,2.25 0 1,0 4.5,0a2.25,2.25 0 1,0 -4.5,0M524.8,230.8a2.25,2.25 0 1,0 4.5,0a2.25,2.25 0 1,0 -4.5,0M535.4,220.8a2.25,2.25 0 1,0 4.5,0a2.25,2.25 0 1,0 -4.5,0M546.6,214.5a2.25,2.25 0 1,0 4.5,0a2.25,2.25 0 1,0 -4.5,0M548.5,216.4a2.25,2.25 0 1,0 4.5,0a2.25,2.25 0 1,0 -4.5,0M552.2,216.4a2.25,2.25 0 1,0 4.5,0a2.25,2.25 0 1,0 -4.5,0M554.1,216.4a2.25,2.25 0 1,0 4.5,0a2.25,2.25 0 1,0 -4.5,0M557.2,218.9a2.25,2.25 0 1,0 4.5,0a2.25,2.25 0 1,0 -4.5,0M546.0,220.1a2.25,2.25 0 1,0 4.5,0a2.25,2.25 0 1,0 -4.5,0M543.5,224.5a2.25,2.25 0 1,0 4.5,0a2.25,2.25 0 1,0 -4.5,0M547.2,224.5a2.25,2.25 0 1,0 4.5,0a2.25,2.25 0 1,0 -4.5,0M551.0,223.9a2.25,2.25 0 1,0 4.5,0a2.25,2.25 0 1,0 -4.5,0M551.6,225.8a2.25,2.25 0 1,0 4.5,0a2.25,2.25 0 1,0 -4.5,0M551.0,227.6a2.25,2.25 0 1,0 4.5,0a2.25,2.25 0 1,0 -4.5,0M546.0,231.4a2.25,2.25 0 1,0 4.5,0a2.25,2.25 0 1,0 -4.5,0M564.8,222.0a2.25,2.25 0 1,0 4.5,0a2.25,2.25 0 1,0 -4.5,0M569.1,230.8a2.25,2.25 0 1,0 4.5,0a2.25,2.25 0 1,0 -4.5,0" stroke="#4b4bef" stroke-width="0.72" fill="none"/>
<path d="M30.4,12.1l5.0,5.0m0,-5.0l-5.0,5.0M32.9,15.0l5.0,5.0m0,-5.0l-5.0,5.0M45.0,6.8l5.0,5.0m0,-5.0l-5.0,5.0M55.0,13.8l5.0,5.0m0,-5.0l-5.0,5.0M53.9,15.2l5.0,5.0m0,-5.0l-5.0,5.0M42.9,24.4l5.0,5.0m0,-5.0l-5.0,5.0M27.2,34.6l5.0,5.0m0,-5.0l-5.0,5.0M32.9,35.2l5.0,5.0m0,-5.0l-5.0,5.0M85.0,3.4l5.0,5.0m0,-5.0l-5.0,5.0M74.1,16.2l5.0,5.0m0,-5.0l-5.0,5.0M79.8,18.4l5.0,5.0m0,-5.0l-5.0,5.0M73.5,24.0l5.0,5.0m0,-5.0l-5.0,5.0M69.8,27.8l5.0,5.0m0,-5.0l-5.0,5.0M90.4,22.1l5.0,5.0m0,-5.0l-5.0,5.0M89.8,27.1l5.0,5.0m0,-5.0l-5.0,5.0M97.2,34.2l5.0,5.0m0,-5.0l-5.0,5.0M105.4,10.2l5.0,5.0m0,-5.0l-5.0,5.0M104.8,25.2l5.0,5.0m0,-5.0l-5.0,5.0M113.2,7.8l5.0,5.0m0,-5.0l-5.0,5.0M117.2,24.6l5.0,5.0m0,-5.0l-5.0,5.0M119.8,27.8l5.0,5.0m0,-5.0l-5.0,5.0M130.4,22.8l5.0,5.0m0,-5.0l-5.0,5.0M134.8,13.4l5.0,5.0m0,-5.0l-5.0,5.0M140.4,9.6l5.0,5.0m0,-5.0l-5.0,5.0M154.1,10.9l5.0,5.0m0,-5.0l-5.0,5.0M154.1,23.4l5.0,5.0m0,-5.0l-5.0,5.0M159.8,29.6l5.0,5.0m0,-5.0l-5.0,5.0M149.8,34.6l5.0,5.0m0,-5.0l-5.0,5.0M176.6,13.4l5.0,5.0m0,-5.0l-5.0,5.0M191.0,21.5l5.0,5.0m0,-5.0l-5.0,5.0M196.6,3.4l5.0,5.0m0,-5.0l-5.0,5.0M204.8,22.1l5.0,5.0m0,-5.0l-5.0,5.0M199.1,26.5l5.0,5.0m0,-5.0l-5.0,5.0M206.0,30.2l5.0,5.0m0,-5.0l-5.0,5.0M209.1,31.5l5.0,5.0m0,-5.0l-5.0,5.0M216.0,10.2l5.0,5.0m0,-5.0l-5.0,5.0M220.4,25.9l5.0,5.0m0,-5.0l-5.0,5.0M235.4,10.9l5.0,5.0m0,-5.0l-5.0,5.0M244.1,19.0l5.0,5.0m0,-5.0l-5.0,5.0M252.2,19.6l5.0,5.0m0,-5.0l-5.0,5.0M259.8,4.0l5.0,5.0m0,-5.0l-5.0,5.0M262.9,14.0l5.0,5.0m0,-5.0l-5.0,5.0M27.9,45.9l5.0,5.0m0,-5.0l-5.0,5.0M28.5,58.8l5.0,5.0m0,-5.0l-5.0,5.0M32.2,38.4l5.0,5.0m0,-5.0l-5.0,5.0M36.0,39.0l5.0,5.0m0,-5.0l-5.0,5.0M46.6,45.9l5.0,5.0m0,-5.0l-5.0,5.0M46.0,65.9l5.0,5.0m0,-5.0l-5.0,5.0M57.2,59.0l5.0,5.0m0,-5.0l-5.0,5.0M64.8,67.8l5.0,5.0m0,-5.0l-5.0,5.0M69.1,52.1l5.0,5.0m0,-5.0l-5.0,5.0M77.2,42.8l5.0,5.0m0,-5.0l-5.0,5.0M89.8,41.5l5.0,5.0m0,-5.0l-5.0,5.0M83.5,62.8l5.0,5.0m0,-5.0l-5.0,5.0M113.5,47.1l5.0,5.0m0,-5.0l-5.0,5.0M125.4,52.1l5.0,5.0m0,-5.0l-5.0,5.0M129.1,55.9l5.0,5.0m0,-5.0l-5.0,5.0M132.2,54.6l5.0,5.0m0,-5.0l-5.0,5.0M134.8,62.8l5.0,5.0m0,-5.0l-5.0,5.0M133.5,61.5l5.0,5.0m0,-5.0l-5.0,5.0M149.8,37.8l5.0,5.0m0,-5.0l-5.0,5.0M158.5,54.0l5.0,5.0m0,-5.0l-5.0,5.0M176.6,47.1l5.0,5.0m0,-5.0l-5.0,5.0M186.0,57.1l5.0,5.0m0,-5.0l-5.0,5.0M188.5,60.9l5.0,5.0m0,-5.0l-5.0,5.0M126.0,70.2l5.0,5.0m0,-5.0l-5.0,5.0M140.4,70.2l5.0,5.0m0,-5.0l-5.0,5.0M204.8,48.4l5.0,5.0m0,-5.0l-5.0,5.0M227.9,37.8l5.0,5.0m0,-5.0l-5.0,5.0M239.1,46.5l5.0,5.0m0,-5.0l-5.0,5.0M250.4,55.2l5.0,5.0m0,-5.0l-5.0,5.0M218.5,66.5l5.0,5.0m0,-5.0l-5.0,5.0M212.2,69.0l5.0,5.0m0,-5.0l-5.0,5.0M228.5,65.2l5.0,5.0m0,-5.0l-5.0,5.0M236.0,65.2l5.0,5.0m0,-5.0l-5.0,5.0M224.8,70.2l5.0,5.0m0,-5.0l-5.0,5.0M254.8,38.4l5.0,5.0m0,-5.0l-5.0,5.0M272.2,45.9l5.0,5.0m0,-5.0l-5.0,5.0M26.6,83.4l5.0,5.0m0,-5.0l-5.0,5.0M27.9,100.9l5.0,5.0m0,-5.0l-5.0,5.0M26.0,103.4l5.0,5.0m0,-5.0l-5.0,5.0M72.9,78.4l5.0,5.0m0,-5.0l-5.0,5.0M74.8,90.9l5.0,5.0m0,-5.0l-5.0,5.0M81.6,95.9l5.0,5.0m0,-5.0l-5.0,5.0M95.4,85.9l5.0,5.0m0,-5.0l-5.0,5.0M102.9,78.4l5.0,5.0m0,-5.0l-5.0,5.0M106.0,84.0l5.0,5.0m0,-5.0l-5.0,5.0M89.8,101.5l5.0,5.0m0,-5.0l-5.0,5.0M99.8,98.4l5.0,5.0m0,-5.0l-5.0,5.0M96.6,102.1l5.0,5.0m0,-5.0l-5.0,5.0M101.6,101.5l5.0,5.0m0,-5.0l-5.0,5.0M158.5,76.5l5.0,5.0m0,-5.0l-5.0,5.0M161.0,78.4l5.0,5.0m0,-5.0l-5.0,5.0M174.8,74.0l5.0,5.0m0,-5.0l-5.0,5.0M115.4,87.8l5.0,5.0m0,-5.0l-5.0,5.0M123.5,96.5l5.0,5.0m0,-5.0l-5.0,5.0M128.5,94.0l5.0,5.0m0,-5.0l-5.0,5.0M151.0,87.1l5.0,5.0m0,-5.0l-5.0,5.0M148.5,88.4l5.0,5.0m0,-5.0l-5.0,5.0M154.1,97.1l5.0,5.0m0,-5.0l-5.0,5.0M196.0,83.4l5.0,5.0m0,-5.0l-5.0,5.0M201.0,84.0l5.0,5.0m0,-5.0l-5.0,5.0M218.5,80.2l5.0,5.0m0,-5.0l-5.0,5.0M219.8,82.8l5.0,5.0m0,-5.0l-5.0,5.0M214.8,101.5l5.0,5.0m0,-5.0l-5.0,5.0M243.5,77.8l5.0,5.0m0,-5.0l-5.0,5.0M252.9,78.4l5.0,5.0m0,-5.0l-5.0,5.0M251.0,88.4l5.0,5.0m0,-5.0l-5.0,5.0M265.4,79.0l5.0,5.0m0,-5.0l-5.0,5.0M269.8,84.6l5.0,5.0m0,-5.0l-5.0,5.0M249.1,100.9l5.0,5.0m0,-5.0l-5.0,5.0M250.4,102.1l5.0,5.0m0,-5.0l-5.0,5.0M257.2,97.8l5.0,5.0m0,-5.0l-5.0,5.0M41.6,109.0l5.0,5.0m0,-5.0l-5.0,5.0M73.5,113.4l5.0,5.0m0,-5.0l-5.0,5.0M62.2,129.6l5.0,5.0m0,-5.0l-5.0,5.0M62.2,132.8l5.0,5.0m0,-5.0l-5.0,5.0M79.8,129.6l5.0,5.0m0,-5.0l-5.0,5.0M87.2,109.0l5.0,5.0m0,-5.0l-5.0,5.0M104.8,107.8l5.0,5.0m0,-5.0l-5.0,5.0M112.2,107.1l5.0,5.0m0,-5.0l-5.0,5.0M139.1,109.6l5.0,5.0m0,-5.0l-5.0,5.0M165.4,135.9l5.0,5.0m0,-5.0l-5.0,5.0M169.8,122.8l5.0,5.0m0,-5.0l-5.0,5.0M175.4,122.8l5.0,5.0m0,-5.0l-5.0,5.0M168.5,127.8l5.0,5.0m0,-5.0l-5.0,5.0M199.1,115.9l5.0,5.0m0,-5.0l-5.0,5.0M229.8,117.1l5.0,5.0m0,-5.0l-5.0,5.0M242.9,110.9l5.0,5.0m0,-5.0l-5.0,5.0M254.8,114.0l5.0,5.0m0,-5.0l-5.0,5.0M249.1,119.6l5.0,5.0m0,-5.0l-5.0,5.0M263.5,114.0l5.0,5.0m0,-5.0l-5.0,5.0M204.8,133.4l5.0,5.0m0,-5.0l-5.0,5.0M206.0,135.9l5.0,5.0m0,-5.0l-5.0,5.0M208.5,137.1l5.0,5.0m0,-5.0l-5.0,5.0M211.0,139.0l5.0,5.0m0,-5.0l-5.0,5.0M218.5,132.1l5.0,5.0m0,-5.0l-5.0,5.0M232.2,140.2l5.0,5.0m0,-5.0l-5.0,5.0M256.6,139.6l5.0,5.0m0,-5.0l-5.0,5.0M272.2,138.4l5.0,5.0m0,-5.0l-5.0,5.0M36.0,156.5l5.0,5.0m0,-5.0l-5.0,5.0M65.4,166.5l5.0,5.0m0,-5.0l-5.0,5.0M72.2,168.4l5.0,5.0m0,-5.0l-5.0,5.0M81.0,172.1l5.0,5.0m0,-5.0l-5.0,5.0M89.1,174.6l5.0,5.0m0,-5.0l-5.0,5.0M152.9,150.2l5.0,5.0m0,-5.0l-5.0,5.0M164.1,165.9l5.0,5.0m0,-5.0l-5.0,5.0M170.4,149.6l5.0,5.0m0,-5.0l-5.0,5.0M180.4,162.1l5.0,5.0m0,-5.0l-5.0,5.0M151.6,175.2l5.0,5.0m0,-5.0l-5.0,5.0M161.0,174.6l5.0,5.0m0,-5.0l-5.0,5.0M214.1,150.9l5.0,5.0m0,-5.0l-5.0,5.0M201.0,154.6l5.0,5.0m0,-5.0l-5.0,5.0M204.1,156.5l5.0,5.0m0,-5.0l-5.0,5.0M251.6,160.9l5.0,5.0m0,-5.0l-5.0,5.0M262.9,149.0l5.0,5.0m0,-5.0l-5.0,5.0M267.2,159.6l5.0,5.0m0,-5.0l-5.0,5.0M206.0,165.9l5.0,5.0m0,-5.0l-5.0,5.0M232.2,170.2l5.0,5.0m0,-5.0l-5.0,5.0M254.8,167.8l5.0,5.0m0,-5.0l-5.0,5.0M72.2,177.1l5.0,5.0m0,-5.0l-5.0,5.0M47.2,179.0l5.0,5.0m0,-5.0l-5.0,5.0M39.1,187.1l5.0,5.0m0,-5.0l-5.0,5.0M49.8,199.6l5.0,5.0m0,-5.0l-5.0,5.0M42.9,202.1l5.0,5.0m0,-5.0l-5.0,5.0M43.5,205.2l5.0,5.0m0,-5.0l-5.0,5.0M77.2,185.2l5.0,5.0m0,-5.0l-5.0,5.0M89.1,191.5l5.0,5.0m0,-5.0l-5.0,5.0M97.2,192.8l5.0,5.0m0,-5.0l-5.0,5.0M106.0,185.9l5.0,5.0m0,-5.0l-5.0,5.0M86.0,209.0l5.0,5.0m0,-5.0l-5.0,5.0M116.0,182.8l5.0,5.0m0,-5.0l-5.0,5.0M117.9,185.9l5.0,5.0m0,-5.0l-5.0,5.0M119.1,192.8l5.0,5.0m0,-5.0l-5.0,5.0M151.0,184.6l5.0,5.0m0,-5.0l-5.0,5.0M141.6,190.2l5.0,5.0m0,-5.0l-5.0,5.0M128.5,199.0l5.0,5.0m0,-5.0l-5.0,5.0M133.5,205.9l5.0,5.0m0,-5.0l-5.0,5.0M141.0,200.9l5.0,5.0m0,-5.0l-5.0,5.0M166.6,184.6l5.0,5.0m0,-5.0l-5.0,5.0M161.0,195.9l5.0,5.0m0,-5.0l-5.0,5.0M173.5,202.8l5.0,5.0m0,-5.0l-5.0,5.0M205.4,185.9l5.0,5.0m0,-5.0l-5.0,5.0M218.5,192.1l5.0,5.0m0,-5.0l-5.0,5.0M206.0,206.5l5.0,5.0m0,-5.0l-5.0,5.0M249.8,187.1l5.0,5.0m0,-5.0l-5.0,5.0M256.0,192.8l5.0,5.0m0,-5.0l-5.0,5.0M257.9,196.5l5.0,5.0m0,-5.0l-5.0,5.0M262.2,199.0l5.0,5.0m0,-5.0l-5.0,5.0M264.8,179.0l5.0,5.0m0,-5.0l-5.0,5.0M257.9,207.1l5.0,5.0m0,-5.0l-5.0,5.0M26.6,221.4l5.0,5.0m0,-5.0l-5.0,5.0M50.4,214.5l5.0,5.0m0,-5.0l-5.0,5.0M57.2,223.9l5.0,5.0m0,-5.0l-5.0,5.0M64.1,223.2l5.0,5.0m0,-5.0l-5.0,5.0M71.0,225.1l5.0,5.0m0,-5.0l-5.0,5.0M82.2,221.4l5.0,5.0m0,-5.0l-5.0,5.0M81.6,225.5l5.0,5.0m0,-5.0l-5.0,5.0M92.9,221.4l5.0,5.0m0,-5.0l-5.0,5.0M96.0,220.8l5.0,5.0m0,-5.0l-5.0,5.0M94.1,230.1l5.0,5.0m0,-5.0l-5.0,5.0M95.8,229.2l5.0,5.0m0,-5.0l-5.0,5.0M107.5,212.6l5.0,5.0m0,-5.0l-5.0,5.0M116.0,224.5l5.0,5.0m0,-5.0l-5.0,5.0M122.2,225.1l5.0,5.0m0,-5.0l-5.0,5.0M142.9,230.1l5.0,5.0m0,-5.0l-5.0,5.0M144.1,213.9l5.0,5.0m0,-5.0l-5.0,5.0M146.0,215.1l5.0,5.0m0,-5.0l-5.0,5.0M168.5,220.8l5.0,5.0m0,-5.0l-5.0,5.0M187.2,215.8l5.0,5.0m0,-5.0l-5.0,5.0M195.4,225.8l5.0,5.0m0,-5.0l-5.0,5.0M232.2,215.8l5.0,5.0m0,-5.0l-5.0,5.0M236.6,229.5l5.0,5.0m0,-5.0l-5.0,5.0M243.5,230.1l5.0,5.0m0,-5.0l-5.0,5.0M259.8,210.8l5.0,5.0m0,-5.0l-5.0,5.0M265.4,217.6l5.0,5.0m0,-5.0l-5.0,5.0M269.8,218.9l5.0,5.0m0,-5.0l-5.0,5.0M336.4,10.2l5.0,5.0m0,-5.0l-5.0,5.0M339.5,6.5l5.0,5.0m0,-5.0l-5.0,5.0M362.6,9.6l5.0,5.0m0,-5.0l-5.0,5.0M362.0,20.2l5.0,5.0m0,-5.0l-5.0,5.0M353.2,28.4l5.0,5.0m0,-5.0l-5.0,5.0M380.8,7.8l5.0,5.0m0,-5.0l-5.0,5.0M380.1,22.1l5.0,5.0m0,-5.0l-5.0,5.0M385.1,26.5l5.0,5.0m0,-5.0l-5.0,5.0M395.1,9.6l5.0,5.0m0,-5.0l-5.0,5.0M393.2,30.2l5.0,5.0m0,-5.0l-5.0,5.0M459.5,3.4l5.0,5.0m0,-5.0l-5.0,5.0M485.8,6.5l5.0,5.0m0,-5.0l-5.0,5.0M452.6,20.2l5.0,5.0m0,-5.0l-5.0,5.0M450.8,20.9l5.0,5.0m0,-5.0l-5.0,5.0M479.5,22.8l5.0,5.0m0,-5.0l-5.0,5.0M469.5,33.4l5.0,5.0m0,-5.0l-5.0,5.0M485.8,32.8l5.0,5.0m0,-5.0l-5.0,5.0M492.6,5.2l5.0,5.0m0,-5.0l-5.0,5.0M507.0,10.2l5.0,5.0m0,-5.0l-5.0,5.0M512.0,11.5l5.0,5.0m0,-5.0l-5.0,5.0M507.6,14.6l5.0,5.0m0,-5.0l-5.0,5.0M493.2,15.2l5.0,5.0m0,-5.0l-5.0,5.0M523.9,15.9l5.0,5.0m0,-5.0l-5.0,5.0M531.4,11.5l5.0,5.0m0,-5.0l-5.0,5.0M537.0,17.1l5.0,5.0m0,-5.0l-5.0,5.0M564.5,13.4l5.0,5.0m0,-5.0l-5.0,5.0M568.2,17.1l5.0,5.0m0,-5.0l-5.0,5.0M571.4,18.4l5.0,5.0m0,-5.0l-5.0,5.0M502.6,31.5l5.0,5.0m0,-5.0l-5.0,5.0M527.0,29.6l5.0,5.0m0,-5.0l-5.0,5.0M528.9,32.8l5.0,5.0m0,-5.0l-5.0,5.0M539.5,28.4l5.0,5.0m0,-5.0l-5.0,5.0M550.1,32.1l5.0,5.0m0,-5.0l-5.0,5.0M327.6,44.6l5.0,5.0m0,-5.0l-5.0,5.0M332.0,39.0l5.0,5.0m0,-5.0l-5.0,5.0M327.0,48.4l5.0,5.0m0,-5.0l-5.0,5.0M340.1,67.1l5.0,5.0m0,-5.0l-5.0,5.0M348.2,54.6l5.0,5.0m0,-5.0l-5.0,5.0M351.4,56.5l5.0,5.0m0,-5.0l-5.0,5.0M347.6,64.6l5.0,5.0m0,-5.0l-5.0,5.0M365.8,51.5l5.0,5.0m0,-5.0l-5.0,5.0M362.0,64.6l5.0,5.0m0,-5.0l-5.0,5.0M371.4,47.1l5.0,5.0m0,-5.0l-5.0,5.0M369.5,55.2l5.0,5.0m0,-5.0l-5.0,5.0M381.4,62.8l5.0,5.0m0,-5.0l-5.0,5.0M385.8,61.5l5.0,5.0m0,-5.0l-5.0,5.0M372.0,70.2l5.0,5.0m0,-5.0l-5.0,5.0M396.4,49.0l5.0,5.0m0,-5.0l-5.0,5.0M397.0,59.6l5.0,5.0m0,-5.0l-5.0,5.0M447.6,42.8l5.0,5.0m0,-5.0l-5.0,5.0M454.5,41.5l5.0,5.0m0,-5.0l-5.0,5.0M450.8,49.6l5.0,5.0m0,-5.0l-5.0,5.0M455.1,59.0l5.0,5.0m0,-5.0l-5.0,5.0M466.4,52.1l5.0,5.0m0,-5.0l-5.0,5.0M483.9,41.5l5.0,5.0m0,-5.0l-5.0,5.0M485.1,59.6l5.0,5.0m0,-5.0l-5.0,5.0M470.1,68.4l5.0,5.0m0,-5.0l-5.0,5.0M503.2,55.2l5.0,5.0m0,-5.0l-5.0,5.0M510.1,47.1l5.0,5.0m0,-5.0l-5.0,5.0M528.2,57.1l5.0,5.0m0,-5.0l-5.0,5.0M550.8,46.5l5.0,5.0m0,-5.0l-5.0,5.0M563.2,47.1l5.0,5.0m0,-5.0l-5.0,5.0M561.4,55.9l5.0,5.0m0,-5.0l-5.0,5.0M548.9,64.6l5.0,5.0m0,-5.0l-5.0,5.0M555.1,68.4l5.0,5.0m0,-5.0l-5.0,5.0M522.0,66.5l5.0,5.0m0,-5.0l-5.0,5.0M542.0,69.6l5.0,5.0m0,-5.0l-5.0,5.0M505.8,67.1l5.0,5.0m0,-5.0l-5.0,5.0M331.4,74.0l5.0,5.0m0,-5.0l-5.0,5.0M331.4,90.2l5.0,5.0m0,-5.0l-5.0,5.0M340.8,104.6l5.0,5.0m0,-5.0l-5.0,5.0M342.0,78.4l5.0,5.0m0,-5.0l-5.0,5.0M346.4,85.9l5.0,5.0m0,-5.0l-5.0,5.0M365.1,79.6l5.0,5.0m0,-5.0l-5.0,5.0M369.5,91.5l5.0,5.0m0,-5.0l-5.0,5.0M359.5,105.2l5.0,5.0m0,-5.0l-5.0,5.0M382.6,81.5l5.0,5.0m0,-5.0l-5.0,5.0M385.1,89.6l5.0,5.0m0,-5.0l-5.0,5.0M482.0,79.0l5.0,5.0m0,-5.0l-5.0,5.0M459.5,80.9l5.0,5.0m0,-5.0l-5.0,5.0M452.6,83.4l5.0,5.0m0,-5.0l-5.0,5.0M447.0,89.0l5.0,5.0m0,-5.0l-5.0,5.0M462.0,100.9l5.0,5.0m0,-5.0l-5.0,5.0M477.0,100.9l5.0,5.0m0,-5.0l-5.0,5.0M484.5,97.8l5.0,5.0m0,-5.0l-5.0,5.0M531.4,77.1l5.0,5.0m0,-5.0l-5.0,5.0M557.0,82.8l5.0,5.0m0,-5.0l-5.0,5.0M532.6,91.5l5.0,5.0m0,-5.0l-5.0,5.0M530.8,93.4l5.0,5.0m0,-5.0l-5.0,5.0M515.8,92.1l5.0,5.0m0,-5.0l-5.0,5.0M513.9,90.2l5.0,5.0m0,-5.0l-5.0,5.0M547.6,87.1l5.0,5.0m0,-5.0l-5.0,5.0M553.2,93.4l5.0,5.0m0,-5.0l-5.0,5.0M558.2,96.5l5.0,5.0m0,-5.0l-5.0,5.0M527.0,98.4l5.0,5.0m0,-5.0l-5.0,5.0M540.8,101.5l5.0,5.0m0,-5.0l-5.0,5.0M512.6,104.6l5.0,5.0m0,-5.0l-5.0,5.0M348.2,115.9l5.0,5.0m0,-5.0l-5.0,5.0M363.9,122.1l5.0,5.0m0,-5.0l-5.0,5.0M332.0,125.2l5.0,5.0m0,-5.0l-5.0,5.0M351.4,122.8l5.0,5.0m0,-5.0l-5.0,5.0M331.4,137.1l5.0,5.0m0,-5.0l-5.0,5.0M349.5,137.8l5.0,5.0m0,-5.0l-5.0,5.0M352.0,138.4l5.0,5.0m0,-5.0l-5.0,5.0M372.0,112.1l5.0,5.0m0,-5.0l-5.0,5.0M388.9,115.9l5.0,5.0m0,-5.0l-5.0,5.0M397.6,132.8l5.0,5.0m0,-5.0l-5.0,5.0M453.2,118.4l5.0,5.0m0,-5.0l-5.0,5.0M461.4,107.8l5.0,5.0m0,-5.0l-5.0,5.0M475.8,116.5l5.0,5.0m0,-5.0l-5.0,5.0M481.4,119.6l5.0,5.0m0,-5.0l-5.0,5.0M476.4,129.0l5.0,5.0m0,-5.0l-5.0,5.0M461.4,128.4l5.0,5.0m0,-5.0l-5.0,5.0M454.5,140.2l5.0,5.0m0,-5.0l-5.0,5.0M487.6,139.0l5.0,5.0m0,-5.0l-5.0,5.0M505.8,109.6l5.0,5.0m0,-5.0l-5.0,5.0M514.5,109.6l5.0,5.0m0,-5.0l-5.0,5.0M524.5,110.2l5.0,5.0m0,-5.0l-5.0,5.0M525.8,112.1l5.0,5.0m0,-5.0l-5.0,5.0M520.8,122.8l5.0,5.0m0,-5.0l-5.0,5.0M523.9,123.4l5.0,5.0m0,-5.0l-5.0,5.0M562.0,109.0l5.0,5.0m0,-5.0l-5.0,5.0M564.5,109.6l5.0,5.0m0,-5.0l-5.0,5.0M537.0,129.0l5.0,5.0m0,-5.0l-5.0,5.0M544.5,130.9l5.0,5.0m0,-5.0l-5.0,5.0M549.5,135.2l5.0,5.0m0,-5.0l-5.0,5.0M560.1,134.6l5.0,5.0m0,-5.0l-5.0,5.0M531.4,138.4l5.0,5.0m0,-5.0l-5.0,5.0M569.5,138.4l5.0,5.0m0,-5.0l-5.0,5.0M342.0,143.4l5.0,5.0m0,-5.0l-5.0,5.0M328.2,154.6l5.0,5.0m0,-5.0l-5.0,5.0M334.5,159.0l5.0,5.0m0,-5.0l-5.0,5.0M332.0,160.9l5.0,5.0m0,-5.0l-5.0,5.0M334.5,164.6l5.0,5.0m0,-5.0l-5.0,5.0M352.0,172.1l5.0,5.0m0,-5.0l-5.0,5.0M362.6,167.1l5.0,5.0m0,-5.0l-5.0,5.0M380.8,154.0l5.0,5.0m0,-5.0l-5.0,5.0M377.0,171.5l5.0,5.0m0,-5.0l-5.0,5.0M400.8,149.0l5.0,5.0m0,-5.0l-5.0,5.0M402.6,173.4l5.0,5.0m0,-5.0l-5.0,5.0M488.2,168.4l5.0,5.0m0,-5.0l-5.0,5.0M490.8,152.1l5.0,5.0m0,-5.0l-5.0,5.0M502.0,149.6l5.0,5.0m0,-5.0l-5.0,5.0M509.5,157.1l5.0,5.0m0,-5.0l-5.0,5.0M533.9,148.4l5.0,5.0m0,-5.0l-5.0,5.0M535.1,155.9l5.0,5.0m0,-5.0l-5.0,5.0M557.0,153.4l5.0,5.0m0,-5.0l-5.0,5.0M565.1,157.8l5.0,5.0m0,-5.0l-5.0,5.0M528.2,164.0l5.0,5.0m0,-5.0l-5.0,5.0M512.6,167.1l5.0,5.0m0,-5.0l-5.0,5.0M544.5,171.5l5.0,5.0m0,-5.0l-5.0,5.0M559.5,171.5l5.0,5.0m0,-5.0l-5.0,5.0M328.9,183.4l5.0,5.0m0,-5.0l-5.0,5.0M342.0,184.0l5.0,5.0m0,-5.0l-5.0,5.0M324.5,190.9l5.0,5.0m0,-5.0l-5.0,5.0M351.4,177.1l5.0,5.0m0,-5.0l-5.0,5.0M356.4,183.4l5.0,5.0m0,-5.0l-5.0,5.0M369.5,183.4l5.0,5.0m0,-5.0l-5.0,5.0M363.9,190.9l5.0,5.0m0,-5.0l-5.0,5.0M352.6,193.4l5.0,5.0m0,-5.0l-5.0,5.0M388.9,186.5l5.0,5.0m0,-5.0l-5.0,5.0M397.6,186.5l5.0,5.0m0,-5.0l-5.0,5.0M389.5,196.5l5.0,5.0m0,-5.0l-5.0,5.0M388.2,200.9l5.0,5.0m0,-5.0l-5.0,5.0M340.1,199.0l5.0,5.0m0,-5.0l-5.0,5.0M356.4,207.8l5.0,5.0m0,-5.0l-5.0,5.0M379.5,209.0l5.0,5.0m0,-5.0l-5.0,5.0M487.6,182.1l5.0,5.0m0,-5.0l-5.0,5.0M454.5,194.6l5.0,5.0m0,-5.0l-5.0,5.0M458.9,198.4l5.0,5.0m0,-5.0l-5.0,5.0M464.5,192.8l5.0,5.0m0,-5.0l-5.0,5.0M465.1,202.8l5.0,5.0m0,-5.0l-5.0,5.0M456.4,200.9l5.0,5.0m0,-5.0l-5.0,5.0M457.0,203.4l5.0,5.0m0,-5.0l-5.0,5.0M480.8,205.2l5.0,5.0m0,-5.0l-5.0,5.0M501.4,181.5l5.0,5.0m0,-5.0l-5.0,5.0M504.5,197.1l5.0,5.0m0,-5.0l-5.0,5.0M511.4,194.0l5.0,5.0m0,-5.0l-5.0,5.0M510.1,195.2l5.0,5.0m0,-5.0l-5.0,5.0M520.1,190.2l5.0,5.0m0,-5.0l-5.0,5.0M523.2,180.9l5.0,5.0m0,-5.0l-5.0,5.0M531.4,182.1l5.0,5.0m0,-5.0l-5.0,5.0M523.2,199.0l5.0,5.0m0,-5.0l-5.0,5.0M527.0,197.8l5.0,5.0m0,-5.0l-5.0,5.0M535.1,195.2l5.0,5.0m0,-5.0l-5.0,5.0M537.6,201.5l5.0,5.0m0,-5.0l-5.0,5.0M553.2,182.8l5.0,5.0m0,-5.0l-5.0,5.0M555.8,199.0l5.0,5.0m0,-5.0l-5.0,5.0M553.2,207.8l5.0,5.0m0,-5.0l-5.0,5.0M522.6,207.1l5.0,5.0m0,-5.0l-5.0,5.0M323.2,224.5l5.0,5.0m0,-5.0l-5.0,5.0M334.5,214.5l5.0,5.0m0,-5.0l-5.0,5.0M360.8,213.9l5.0,5.0m0,-5.0l-5.0,5.0M363.9,217.0l5.0,5.0m0,-5.0l-5.0,5.0M392.6,228.9l5.0,5.0m0,-5.0l-5.0,5.0M467.6,213.2l5.0,5.0m0,-5.0l-5.0,5.0M456.4,221.4l5.0,5.0m0,-5.0l-5.0,5.0M511.4,219.5l5.0,5.0m0,-5.0l-5.0,5.0M520.1,222.6l5.0,5.0m0,-5.0l-5.0,5.0M535.1,228.9l5.0,5.0m0,-5.0l-5.0,5.0M550.8,222.0l5.0,5.0m0,-5.0l-5.0,5.0" stroke="#4b4bef" stroke-width="0.7" fill="none"/>
<text x="609" y="16.4" class="lg">O - Sensor nodes</text>
<text x="609.2" y="37.4" class="lg">X - Reference nodes</text>
</svg>
</body></html>
